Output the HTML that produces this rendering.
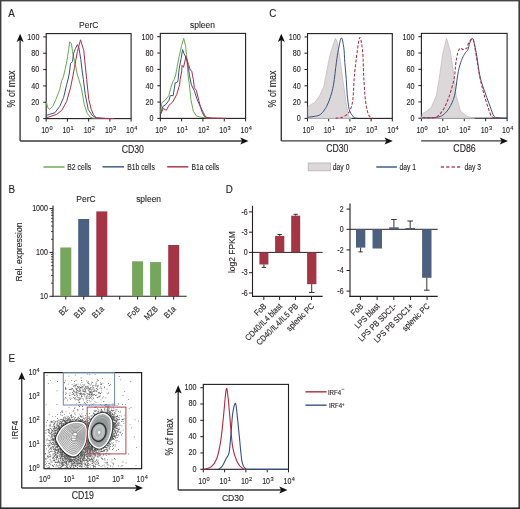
<!DOCTYPE html>
<html><head><meta charset="utf-8"><style>
html,body{margin:0;padding:0;background:#fff;}
svg{display:block;will-change:transform;font-family:"Liberation Sans", sans-serif;}
text{stroke:#231f20;stroke-width:0.12px;}
</style></head><body>
<svg width="520" height="509" viewBox="0 0 520 509">
<rect width="520" height="509" fill="#fff"/>
<rect x="0" y="0" width="1.4" height="509" fill="#3c3c3c"/>
<rect x="518.4" y="0" width="1.6" height="509" fill="#3c3c3c"/>
<rect x="0" y="507.4" width="520" height="1.6" fill="#2a2a2a"/>
<rect x="0" y="0" width="520" height="1.4" fill="#444"/>
<text transform="translate(8.30 17.20) scale(0.87 1)" font-size="11.3" text-anchor="start" fill="#231f20">A</text>
<text transform="translate(88.70 28.30) scale(0.87 1)" font-size="9.72" text-anchor="middle" fill="#231f20">PerC</text>
<text transform="translate(202.50 27.70) scale(0.87 1)" font-size="9.72" text-anchor="middle" fill="#231f20">spleen</text>
<rect x="46.20" y="33.60" width="84.90" height="85.00" fill="none" stroke="#231f20" stroke-width="1.1"/>
<line x1="43.20" y1="36.90" x2="46.20" y2="36.90" stroke="#231f20" stroke-width="1"/>
<text transform="translate(39.40 39.80) scale(0.84 1)" font-size="8.6" text-anchor="end" fill="#231f20">100</text>
<line x1="43.20" y1="53.24" x2="46.20" y2="53.24" stroke="#231f20" stroke-width="1"/>
<text transform="translate(39.40 56.14) scale(0.84 1)" font-size="8.6" text-anchor="end" fill="#231f20">80</text>
<line x1="43.20" y1="69.58" x2="46.20" y2="69.58" stroke="#231f20" stroke-width="1"/>
<text transform="translate(39.40 72.48) scale(0.84 1)" font-size="8.6" text-anchor="end" fill="#231f20">60</text>
<line x1="43.20" y1="85.92" x2="46.20" y2="85.92" stroke="#231f20" stroke-width="1"/>
<text transform="translate(39.40 88.82) scale(0.84 1)" font-size="8.6" text-anchor="end" fill="#231f20">40</text>
<line x1="43.20" y1="102.26" x2="46.20" y2="102.26" stroke="#231f20" stroke-width="1"/>
<text transform="translate(39.40 105.16) scale(0.84 1)" font-size="8.6" text-anchor="end" fill="#231f20">20</text>
<line x1="43.20" y1="118.60" x2="46.20" y2="118.60" stroke="#231f20" stroke-width="1"/>
<text transform="translate(39.40 121.50) scale(0.84 1)" font-size="8.6" text-anchor="end" fill="#231f20">0</text>
<line x1="46.20" y1="118.60" x2="46.20" y2="121.60" stroke="#231f20" stroke-width="1"/>
<text transform="translate(41.20 132.90) scale(0.84 1)" font-size="8.4" fill="#231f20">10</text>
<text x="49.40" y="129.90" font-size="5.6" fill="#231f20">0</text>
<line x1="67.42" y1="118.60" x2="67.42" y2="121.60" stroke="#231f20" stroke-width="1"/>
<text transform="translate(62.42 132.90) scale(0.84 1)" font-size="8.4" fill="#231f20">10</text>
<text x="70.62" y="129.90" font-size="5.6" fill="#231f20">1</text>
<line x1="88.65" y1="118.60" x2="88.65" y2="121.60" stroke="#231f20" stroke-width="1"/>
<text transform="translate(83.65 132.90) scale(0.84 1)" font-size="8.4" fill="#231f20">10</text>
<text x="91.85" y="129.90" font-size="5.6" fill="#231f20">2</text>
<line x1="109.88" y1="118.60" x2="109.88" y2="121.60" stroke="#231f20" stroke-width="1"/>
<text transform="translate(104.88 132.90) scale(0.84 1)" font-size="8.4" fill="#231f20">10</text>
<text x="113.08" y="129.90" font-size="5.6" fill="#231f20">3</text>
<line x1="131.10" y1="118.60" x2="131.10" y2="121.60" stroke="#231f20" stroke-width="1"/>
<text transform="translate(126.10 132.90) scale(0.84 1)" font-size="8.4" fill="#231f20">10</text>
<text x="134.30" y="129.90" font-size="5.6" fill="#231f20">4</text>
<rect x="160.30" y="33.40" width="85.30" height="85.00" fill="none" stroke="#231f20" stroke-width="1.1"/>
<line x1="157.30" y1="36.70" x2="160.30" y2="36.70" stroke="#231f20" stroke-width="1"/>
<text transform="translate(153.50 39.60) scale(0.84 1)" font-size="8.6" text-anchor="end" fill="#231f20">100</text>
<line x1="157.30" y1="53.04" x2="160.30" y2="53.04" stroke="#231f20" stroke-width="1"/>
<text transform="translate(153.50 55.94) scale(0.84 1)" font-size="8.6" text-anchor="end" fill="#231f20">80</text>
<line x1="157.30" y1="69.38" x2="160.30" y2="69.38" stroke="#231f20" stroke-width="1"/>
<text transform="translate(153.50 72.28) scale(0.84 1)" font-size="8.6" text-anchor="end" fill="#231f20">60</text>
<line x1="157.30" y1="85.72" x2="160.30" y2="85.72" stroke="#231f20" stroke-width="1"/>
<text transform="translate(153.50 88.62) scale(0.84 1)" font-size="8.6" text-anchor="end" fill="#231f20">40</text>
<line x1="157.30" y1="102.06" x2="160.30" y2="102.06" stroke="#231f20" stroke-width="1"/>
<text transform="translate(153.50 104.96) scale(0.84 1)" font-size="8.6" text-anchor="end" fill="#231f20">20</text>
<line x1="157.30" y1="118.40" x2="160.30" y2="118.40" stroke="#231f20" stroke-width="1"/>
<text transform="translate(153.50 121.30) scale(0.84 1)" font-size="8.6" text-anchor="end" fill="#231f20">0</text>
<line x1="160.30" y1="118.40" x2="160.30" y2="121.40" stroke="#231f20" stroke-width="1"/>
<text transform="translate(155.30 132.70) scale(0.84 1)" font-size="8.4" fill="#231f20">10</text>
<text x="163.50" y="129.70" font-size="5.6" fill="#231f20">0</text>
<line x1="181.62" y1="118.40" x2="181.62" y2="121.40" stroke="#231f20" stroke-width="1"/>
<text transform="translate(176.62 132.70) scale(0.84 1)" font-size="8.4" fill="#231f20">10</text>
<text x="184.82" y="129.70" font-size="5.6" fill="#231f20">1</text>
<line x1="202.95" y1="118.40" x2="202.95" y2="121.40" stroke="#231f20" stroke-width="1"/>
<text transform="translate(197.95 132.70) scale(0.84 1)" font-size="8.4" fill="#231f20">10</text>
<text x="206.15" y="129.70" font-size="5.6" fill="#231f20">2</text>
<line x1="224.28" y1="118.40" x2="224.28" y2="121.40" stroke="#231f20" stroke-width="1"/>
<text transform="translate(219.28 132.70) scale(0.84 1)" font-size="8.4" fill="#231f20">10</text>
<text x="227.47" y="129.70" font-size="5.6" fill="#231f20">3</text>
<line x1="245.60" y1="118.40" x2="245.60" y2="121.40" stroke="#231f20" stroke-width="1"/>
<text transform="translate(240.60 132.70) scale(0.84 1)" font-size="8.4" fill="#231f20">10</text>
<text x="248.80" y="129.70" font-size="5.6" fill="#231f20">4</text>
<line x1="20.10" y1="141.00" x2="20.10" y2="39.70" stroke="#3a3a3a" stroke-width="1.4"/>
<polygon points="20.10,33.70 16.60,41.90 20.10,40.10 23.60,41.90" fill="#111" stroke="none" stroke-width="0"/>
<line x1="20.10" y1="141.00" x2="242.50" y2="141.00" stroke="#3a3a3a" stroke-width="1.4"/>
<polygon points="248.50,141.00 240.30,137.50 242.10,141.00 240.30,144.50" fill="#111" stroke="none" stroke-width="0"/>
<text transform="translate(15.00 89.00) rotate(-90) scale(0.87 1)" font-size="10.17" text-anchor="middle" fill="#231f20">% of max</text>
<text transform="translate(132.80 152.80) scale(0.87 1)" font-size="10.06" text-anchor="middle" fill="#231f20">CD30</text>
<line x1="43.50" y1="167.00" x2="64.60" y2="167.00" stroke="#7ab060" stroke-width="1.6"/>
<text transform="translate(67.30 169.50) scale(0.82 1)" font-size="8.3" text-anchor="start" fill="#231f20">B2 cells</text>
<line x1="102.50" y1="166.80" x2="124.00" y2="166.80" stroke="#4f6a90" stroke-width="1.6"/>
<text transform="translate(127.20 169.50) scale(0.82 1)" font-size="8.3" text-anchor="start" fill="#231f20">B1b cells</text>
<line x1="167.20" y1="166.80" x2="188.30" y2="166.80" stroke="#b54558" stroke-width="1.6"/>
<text transform="translate(191.50 169.50) scale(0.82 1)" font-size="8.3" text-anchor="start" fill="#231f20">B1a cells</text>
<polyline points="46.30,101.60 47.50,107.00 49.40,109.40 52.80,106.40 55.80,99.60 59.70,89.70 61.70,80.50 62.50,79.00 63.60,76.00 65.10,69.30 66.50,63.00 67.60,56.50 68.60,49.60 69.70,41.80 71.50,43.80 72.50,51.60 74.50,61.40 76.00,68.00 77.40,75.00 78.90,79.60 81.30,87.80 84.30,104.50 87.20,113.30 90.20,117.20 93.10,118.20 100.00,118.50 110.00,118.60" fill="none" stroke="#6aa850" stroke-width="1.0" stroke-linejoin="round"/>
<polyline points="46.30,118.00 46.50,115.30 49.90,114.30 54.80,112.80 59.70,106.40 63.60,97.60 66.60,84.80 68.40,78.00 69.50,72.00 70.50,63.40 72.50,61.40 73.50,53.60 75.40,48.70 77.40,44.70 78.90,47.70 80.80,59.50 82.30,72.00 83.30,79.10 85.30,94.60 88.20,109.40 92.10,115.30 96.00,117.90 105.00,118.50 112.00,118.60" fill="none" stroke="#35527f" stroke-width="1.0" stroke-linejoin="round"/>
<polyline points="46.50,117.70 50.90,116.30 56.80,114.30 61.70,110.40 66.60,101.50 70.50,87.80 72.50,78.00 74.50,67.30 77.40,51.60 80.50,39.80 83.80,50.60 85.30,66.00 86.70,79.60 88.80,99.60 91.20,109.20 93.60,115.00 96.50,117.90 106.00,118.40 114.00,118.60" fill="none" stroke="#ae2d44" stroke-width="1.0" stroke-linejoin="round"/>
<polyline points="160.50,112.30 161.90,102.50 164.90,100.50 168.80,95.60 170.80,87.80 172.70,81.90 174.20,79.60 175.70,75.00 176.70,69.30 179.10,56.50 181.60,45.70 183.70,38.30 185.50,45.70 186.50,54.60 187.50,67.30 188.00,75.00 189.40,84.80 190.90,99.60 193.40,111.30 196.30,115.80 200.20,117.20 207.10,118.00 222.00,118.40" fill="none" stroke="#6aa850" stroke-width="1.0" stroke-linejoin="round"/>
<polyline points="160.50,114.30 162.90,106.40 165.90,104.50 168.80,100.50 170.30,95.60 173.20,95.60 175.20,82.90 177.60,81.90 178.10,79.60 179.10,69.30 181.10,58.50 182.60,49.60 184.00,53.60 186.50,58.50 188.50,68.30 189.40,75.20 191.40,84.80 194.30,90.70 196.80,98.60 200.20,106.40 203.20,112.30 205.20,116.30 207.10,117.70 212.00,118.30 226.00,118.40" fill="none" stroke="#35527f" stroke-width="1.0" stroke-linejoin="round"/>
<polyline points="160.50,114.30 163.40,108.40 166.30,110.40 168.80,105.50 172.70,102.00 176.70,94.60 179.60,84.80 180.10,79.60 181.60,72.00 182.10,65.40 183.50,67.30 186.00,56.50 188.50,64.40 190.40,70.30 191.90,71.30 192.40,75.00 193.40,79.60 194.30,87.80 196.30,90.20 198.80,100.50 201.70,111.30 204.20,116.30 207.10,117.70 212.00,118.30 226.00,118.40" fill="none" stroke="#ae2d44" stroke-width="1.0" stroke-linejoin="round"/>
<text transform="translate(269.30 17.40) scale(0.87 1)" font-size="11.3" text-anchor="start" fill="#231f20">C</text>
<rect x="307.50" y="33.60" width="84.80" height="84.80" fill="none" stroke="#231f20" stroke-width="1.1"/>
<line x1="304.50" y1="36.90" x2="307.50" y2="36.90" stroke="#231f20" stroke-width="1"/>
<text transform="translate(300.70 39.80) scale(0.84 1)" font-size="8.6" text-anchor="end" fill="#231f20">100</text>
<line x1="304.50" y1="53.20" x2="307.50" y2="53.20" stroke="#231f20" stroke-width="1"/>
<text transform="translate(300.70 56.10) scale(0.84 1)" font-size="8.6" text-anchor="end" fill="#231f20">80</text>
<line x1="304.50" y1="69.50" x2="307.50" y2="69.50" stroke="#231f20" stroke-width="1"/>
<text transform="translate(300.70 72.40) scale(0.84 1)" font-size="8.6" text-anchor="end" fill="#231f20">60</text>
<line x1="304.50" y1="85.80" x2="307.50" y2="85.80" stroke="#231f20" stroke-width="1"/>
<text transform="translate(300.70 88.70) scale(0.84 1)" font-size="8.6" text-anchor="end" fill="#231f20">40</text>
<line x1="304.50" y1="102.10" x2="307.50" y2="102.10" stroke="#231f20" stroke-width="1"/>
<text transform="translate(300.70 105.00) scale(0.84 1)" font-size="8.6" text-anchor="end" fill="#231f20">20</text>
<line x1="304.50" y1="118.40" x2="307.50" y2="118.40" stroke="#231f20" stroke-width="1"/>
<text transform="translate(300.70 121.30) scale(0.84 1)" font-size="8.6" text-anchor="end" fill="#231f20">0</text>
<line x1="307.50" y1="118.40" x2="307.50" y2="121.40" stroke="#231f20" stroke-width="1"/>
<text transform="translate(302.50 132.70) scale(0.84 1)" font-size="8.4" fill="#231f20">10</text>
<text x="310.70" y="129.70" font-size="5.6" fill="#231f20">0</text>
<line x1="328.70" y1="118.40" x2="328.70" y2="121.40" stroke="#231f20" stroke-width="1"/>
<text transform="translate(323.70 132.70) scale(0.84 1)" font-size="8.4" fill="#231f20">10</text>
<text x="331.90" y="129.70" font-size="5.6" fill="#231f20">1</text>
<line x1="349.90" y1="118.40" x2="349.90" y2="121.40" stroke="#231f20" stroke-width="1"/>
<text transform="translate(344.90 132.70) scale(0.84 1)" font-size="8.4" fill="#231f20">10</text>
<text x="353.10" y="129.70" font-size="5.6" fill="#231f20">2</text>
<line x1="371.10" y1="118.40" x2="371.10" y2="121.40" stroke="#231f20" stroke-width="1"/>
<text transform="translate(366.10 132.70) scale(0.84 1)" font-size="8.4" fill="#231f20">10</text>
<text x="374.30" y="129.70" font-size="5.6" fill="#231f20">3</text>
<line x1="392.30" y1="118.40" x2="392.30" y2="121.40" stroke="#231f20" stroke-width="1"/>
<text transform="translate(387.30 132.70) scale(0.84 1)" font-size="8.4" fill="#231f20">10</text>
<text x="395.50" y="129.70" font-size="5.6" fill="#231f20">4</text>
<rect x="421.40" y="33.40" width="85.70" height="84.80" fill="none" stroke="#231f20" stroke-width="1.1"/>
<line x1="418.40" y1="36.70" x2="421.40" y2="36.70" stroke="#231f20" stroke-width="1"/>
<text transform="translate(414.60 39.60) scale(0.84 1)" font-size="8.6" text-anchor="end" fill="#231f20">100</text>
<line x1="418.40" y1="53.00" x2="421.40" y2="53.00" stroke="#231f20" stroke-width="1"/>
<text transform="translate(414.60 55.90) scale(0.84 1)" font-size="8.6" text-anchor="end" fill="#231f20">80</text>
<line x1="418.40" y1="69.30" x2="421.40" y2="69.30" stroke="#231f20" stroke-width="1"/>
<text transform="translate(414.60 72.20) scale(0.84 1)" font-size="8.6" text-anchor="end" fill="#231f20">60</text>
<line x1="418.40" y1="85.60" x2="421.40" y2="85.60" stroke="#231f20" stroke-width="1"/>
<text transform="translate(414.60 88.50) scale(0.84 1)" font-size="8.6" text-anchor="end" fill="#231f20">40</text>
<line x1="418.40" y1="101.90" x2="421.40" y2="101.90" stroke="#231f20" stroke-width="1"/>
<text transform="translate(414.60 104.80) scale(0.84 1)" font-size="8.6" text-anchor="end" fill="#231f20">20</text>
<line x1="418.40" y1="118.20" x2="421.40" y2="118.20" stroke="#231f20" stroke-width="1"/>
<text transform="translate(414.60 121.10) scale(0.84 1)" font-size="8.6" text-anchor="end" fill="#231f20">0</text>
<line x1="421.40" y1="118.20" x2="421.40" y2="121.20" stroke="#231f20" stroke-width="1"/>
<text transform="translate(416.40 132.50) scale(0.84 1)" font-size="8.4" fill="#231f20">10</text>
<text x="424.60" y="129.50" font-size="5.6" fill="#231f20">0</text>
<line x1="442.82" y1="118.20" x2="442.82" y2="121.20" stroke="#231f20" stroke-width="1"/>
<text transform="translate(437.82 132.50) scale(0.84 1)" font-size="8.4" fill="#231f20">10</text>
<text x="446.02" y="129.50" font-size="5.6" fill="#231f20">1</text>
<line x1="464.25" y1="118.20" x2="464.25" y2="121.20" stroke="#231f20" stroke-width="1"/>
<text transform="translate(459.25 132.50) scale(0.84 1)" font-size="8.4" fill="#231f20">10</text>
<text x="467.45" y="129.50" font-size="5.6" fill="#231f20">2</text>
<line x1="485.68" y1="118.20" x2="485.68" y2="121.20" stroke="#231f20" stroke-width="1"/>
<text transform="translate(480.68 132.50) scale(0.84 1)" font-size="8.4" fill="#231f20">10</text>
<text x="488.88" y="129.50" font-size="5.6" fill="#231f20">3</text>
<line x1="507.10" y1="118.20" x2="507.10" y2="121.20" stroke="#231f20" stroke-width="1"/>
<text transform="translate(502.10 132.50) scale(0.84 1)" font-size="8.4" fill="#231f20">10</text>
<text x="510.30" y="129.50" font-size="5.6" fill="#231f20">4</text>
<line x1="281.30" y1="140.90" x2="281.30" y2="39.70" stroke="#3a3a3a" stroke-width="1.4"/>
<polygon points="281.30,33.70 277.80,41.90 281.30,40.10 284.80,41.90" fill="#111" stroke="none" stroke-width="0"/>
<line x1="281.30" y1="140.90" x2="386.80" y2="140.90" stroke="#3a3a3a" stroke-width="1.4"/>
<polygon points="392.80,140.90 384.60,137.40 386.40,140.90 384.60,144.40" fill="#111" stroke="none" stroke-width="0"/>
<line x1="421.20" y1="140.90" x2="502.00" y2="140.90" stroke="#3a3a3a" stroke-width="1.4"/>
<polygon points="508.00,140.90 499.80,137.40 501.60,140.90 499.80,144.40" fill="#111" stroke="none" stroke-width="0"/>
<text transform="translate(276.30 89.00) rotate(-90) scale(0.87 1)" font-size="10.17" text-anchor="middle" fill="#231f20">% of max</text>
<text transform="translate(337.30 151.80) scale(0.87 1)" font-size="10.06" text-anchor="middle" fill="#231f20">CD30</text>
<text transform="translate(464.50 152.00) scale(0.87 1)" font-size="10.06" text-anchor="middle" fill="#231f20">CD86</text>
<rect x="308.2" y="163" width="22.3" height="7.8" fill="#dcd7d9" stroke="#b8b0b4" stroke-width="0.8"/>
<text transform="translate(332.80 169.60) scale(0.82 1)" font-size="8.3" text-anchor="start" fill="#231f20">day 0</text>
<line x1="376.30" y1="167.00" x2="396.90" y2="167.00" stroke="#4f6a90" stroke-width="1.6"/>
<text transform="translate(399.50 169.60) scale(0.82 1)" font-size="8.3" text-anchor="start" fill="#231f20">day 1</text>
<line x1="440.80" y1="167.00" x2="461.30" y2="167.00" stroke="#b54558" stroke-width="1.6" stroke-dasharray="3.2,2.2"/>
<text transform="translate(464.50 169.60) scale(0.82 1)" font-size="8.3" text-anchor="start" fill="#231f20">day 3</text>
<polygon points="308.00,118.40 308.00,106.40 314.80,102.50 319.70,95.60 323.70,86.80 325.10,79.60 326.10,75.00 328.60,61.40 331.50,49.60 335.50,38.30 337.40,42.80 340.40,61.40 342.80,79.60 344.30,89.70 346.30,104.50 348.70,116.30 351.20,117.90 351.20,118.40" fill="#dcd7d9" stroke="#c5bdc1" stroke-width="0.8"/>
<path d="M308.00,117.20 C309.13,117.05 312.68,116.78 314.80,116.30 C316.92,115.82 318.73,115.95 320.70,114.30 C322.67,112.65 324.97,109.35 326.60,106.40 C328.23,103.45 329.35,100.20 330.50,96.60 C331.65,93.00 332.52,90.50 333.50,84.80 C334.48,79.10 335.58,68.27 336.40,62.40 C337.22,56.53 337.58,53.68 338.40,49.60 C339.22,45.52 340.40,38.22 341.30,37.90 C342.20,37.58 343.22,43.62 343.80,47.70 C344.38,51.78 344.38,57.08 344.80,62.40 C345.22,67.72 345.90,74.23 346.30,79.60 C346.70,84.97 346.72,89.63 347.20,94.60 C347.68,99.57 348.37,105.95 349.20,109.40 C350.03,112.85 351.30,113.92 352.20,115.30 C353.10,116.68 353.63,117.20 354.60,117.70 C355.57,118.20 357.43,118.20 358.00,118.30" fill="none" stroke="#35527f" stroke-width="1.0" stroke-linejoin="round"/>
<path d="M335.50,118.20 C336.63,118.03 340.18,118.02 342.30,117.20 C344.42,116.38 346.72,114.93 348.20,113.30 C349.68,111.67 350.38,110.02 351.20,107.40 C352.02,104.78 352.58,102.73 353.10,97.60 C353.62,92.47 353.63,84.13 354.30,76.60 C354.97,69.07 356.17,58.92 357.10,52.40 C358.03,45.88 358.97,37.50 359.90,37.50 C360.83,37.50 362.07,45.88 362.70,52.40 C363.33,58.92 363.23,68.52 363.70,76.60 C364.17,84.68 364.73,94.67 365.50,100.90 C366.27,107.13 367.37,111.20 368.30,114.00 C369.23,116.80 370.32,116.98 371.10,117.70 C371.88,118.42 372.68,118.20 373.00,118.30" fill="none" stroke="#ae2d44" stroke-width="1.05" stroke-linejoin="round" stroke-dasharray="3,1.7"/>
<polygon points="421.50,118.20 422.50,113.90 431.10,107.90 436.30,95.80 439.10,79.60 442.60,54.60 446.50,38.30 450.40,51.60 452.90,69.30 454.40,79.60 456.20,95.80 460.50,111.30 467.50,116.50 474.40,117.90 474.40,118.20" fill="#dcd7d9" stroke="#c5bdc1" stroke-width="0.8"/>
<path d="M422.50,117.90 C424.80,117.82 432.85,117.92 436.30,117.40 C439.75,116.88 441.03,116.38 443.20,114.80 C445.37,113.22 447.42,111.07 449.30,107.90 C451.18,104.73 453.15,100.95 454.50,95.80 C455.85,90.65 456.60,81.75 457.40,77.00 C458.20,72.25 458.50,70.38 459.30,67.30 C460.10,64.22 461.22,60.88 462.20,58.50 C463.18,56.12 464.25,54.48 465.20,53.00 C466.15,51.52 467.13,51.30 467.90,49.60 C468.67,47.90 468.98,44.60 469.80,42.80 C470.62,41.00 471.73,37.17 472.80,38.80 C473.87,40.43 474.98,46.23 476.20,52.60 C477.42,58.97 478.53,70.10 480.10,77.00 C481.67,83.90 483.95,89.13 485.60,94.00 C487.25,98.87 488.55,102.45 490.00,106.20 C491.45,109.95 492.58,114.55 494.30,116.50 C496.02,118.45 498.18,117.62 500.30,117.90 C502.42,118.18 505.88,118.15 507.00,118.20" fill="none" stroke="#35527f" stroke-width="1.0" stroke-linejoin="round"/>
<path d="M422.50,117.40 C424.52,117.40 431.43,118.27 434.60,117.40 C437.77,116.53 439.48,114.65 441.50,112.20 C443.52,109.75 445.12,106.30 446.70,102.70 C448.28,99.10 449.72,94.88 451.00,90.60 C452.28,86.32 453.60,81.53 454.40,77.00 C455.20,72.47 455.23,67.47 455.80,63.40 C456.37,59.33 457.22,54.97 457.80,52.60 C458.38,50.23 458.73,49.93 459.30,49.20 C459.87,48.47 460.63,48.13 461.20,48.20 C461.77,48.27 462.12,49.52 462.70,49.60 C463.28,49.68 464.00,48.93 464.70,48.70 C465.40,48.47 466.30,49.02 466.90,48.20 C467.50,47.38 467.32,45.37 468.30,43.80 C469.28,42.23 471.57,37.33 472.80,38.80 C474.03,40.27 474.53,46.23 475.70,52.60 C476.87,58.97 478.43,70.10 479.80,77.00 C481.17,83.90 482.50,88.85 483.90,94.00 C485.30,99.15 486.90,104.15 488.20,107.90 C489.50,111.65 490.25,114.83 491.70,116.50 C493.15,118.17 495.52,117.65 496.90,117.90 C498.28,118.15 499.48,117.98 500.00,118.00" fill="none" stroke="#ae2d44" stroke-width="1.05" stroke-linejoin="round" stroke-dasharray="3,1.7"/>
<text transform="translate(8.40 192.80) scale(0.87 1)" font-size="11.3" text-anchor="start" fill="#231f20">B</text>
<text transform="translate(86.00 201.60) scale(0.87 1)" font-size="9.72" text-anchor="middle" fill="#231f20">PerC</text>
<text transform="translate(148.60 201.60) scale(0.87 1)" font-size="9.72" text-anchor="middle" fill="#231f20">spleen</text>
<line x1="53.00" y1="205.50" x2="53.00" y2="296.80" stroke="#231f20" stroke-width="1.1"/>
<line x1="52.50" y1="296.30" x2="186.60" y2="296.30" stroke="#231f20" stroke-width="1.1"/>
<line x1="49.50" y1="208.60" x2="53.00" y2="208.60" stroke="#231f20" stroke-width="1"/>
<text transform="translate(47.90 211.20) scale(0.87 1)" font-size="8.14" text-anchor="end" fill="#231f20">1000</text>
<line x1="49.50" y1="252.45" x2="53.00" y2="252.45" stroke="#231f20" stroke-width="1"/>
<text transform="translate(47.90 255.05) scale(0.87 1)" font-size="8.14" text-anchor="end" fill="#231f20">100</text>
<line x1="49.50" y1="296.30" x2="53.00" y2="296.30" stroke="#231f20" stroke-width="1"/>
<text transform="translate(47.90 298.90) scale(0.87 1)" font-size="8.14" text-anchor="end" fill="#231f20">10</text>
<line x1="51.00" y1="239.25" x2="53.00" y2="239.25" stroke="#231f20" stroke-width="0.8"/>
<line x1="51.00" y1="231.53" x2="53.00" y2="231.53" stroke="#231f20" stroke-width="0.8"/>
<line x1="51.00" y1="226.05" x2="53.00" y2="226.05" stroke="#231f20" stroke-width="0.8"/>
<line x1="51.00" y1="221.80" x2="53.00" y2="221.80" stroke="#231f20" stroke-width="0.8"/>
<line x1="51.00" y1="218.33" x2="53.00" y2="218.33" stroke="#231f20" stroke-width="0.8"/>
<line x1="51.00" y1="215.39" x2="53.00" y2="215.39" stroke="#231f20" stroke-width="0.8"/>
<line x1="51.00" y1="212.85" x2="53.00" y2="212.85" stroke="#231f20" stroke-width="0.8"/>
<line x1="51.00" y1="210.61" x2="53.00" y2="210.61" stroke="#231f20" stroke-width="0.8"/>
<line x1="51.00" y1="283.10" x2="53.00" y2="283.10" stroke="#231f20" stroke-width="0.8"/>
<line x1="51.00" y1="275.38" x2="53.00" y2="275.38" stroke="#231f20" stroke-width="0.8"/>
<line x1="51.00" y1="269.90" x2="53.00" y2="269.90" stroke="#231f20" stroke-width="0.8"/>
<line x1="51.00" y1="265.65" x2="53.00" y2="265.65" stroke="#231f20" stroke-width="0.8"/>
<line x1="51.00" y1="262.18" x2="53.00" y2="262.18" stroke="#231f20" stroke-width="0.8"/>
<line x1="51.00" y1="259.24" x2="53.00" y2="259.24" stroke="#231f20" stroke-width="0.8"/>
<line x1="51.00" y1="256.70" x2="53.00" y2="256.70" stroke="#231f20" stroke-width="0.8"/>
<line x1="51.00" y1="254.46" x2="53.00" y2="254.46" stroke="#231f20" stroke-width="0.8"/>
<rect x="60.30" y="247.50" width="11" height="48.80" fill="#76a55c"/>
<line x1="65.80" y1="296.30" x2="65.80" y2="299.60" stroke="#231f20" stroke-width="1"/>
<text transform="translate(68.60 309.60) rotate(-45) scale(0.87 1)" font-size="8.47" text-anchor="end" fill="#231f20">B2</text>
<rect x="78.20" y="219.00" width="11" height="77.30" fill="#4c6080"/>
<line x1="83.70" y1="296.30" x2="83.70" y2="299.60" stroke="#231f20" stroke-width="1"/>
<text transform="translate(86.50 309.60) rotate(-45) scale(0.87 1)" font-size="8.47" text-anchor="end" fill="#231f20">B1b</text>
<rect x="96.30" y="211.40" width="11" height="84.90" fill="#a33545"/>
<line x1="101.80" y1="296.30" x2="101.80" y2="299.60" stroke="#231f20" stroke-width="1"/>
<text transform="translate(104.60 309.60) rotate(-45) scale(0.87 1)" font-size="8.47" text-anchor="end" fill="#231f20">B1a</text>
<line x1="119.70" y1="296.30" x2="119.70" y2="299.60" stroke="#231f20" stroke-width="1"/>
<rect x="132.10" y="261.30" width="11" height="35.00" fill="#76a55c"/>
<line x1="137.60" y1="296.30" x2="137.60" y2="299.60" stroke="#231f20" stroke-width="1"/>
<text transform="translate(140.40 309.60) rotate(-45) scale(0.87 1)" font-size="8.47" text-anchor="end" fill="#231f20">FoB</text>
<rect x="150.10" y="262.10" width="11" height="34.20" fill="#76a55c"/>
<line x1="155.60" y1="296.30" x2="155.60" y2="299.60" stroke="#231f20" stroke-width="1"/>
<text transform="translate(158.40 309.60) rotate(-45) scale(0.87 1)" font-size="8.47" text-anchor="end" fill="#231f20">MZB</text>
<rect x="168.20" y="245.00" width="11" height="51.30" fill="#a33545"/>
<line x1="173.70" y1="296.30" x2="173.70" y2="299.60" stroke="#231f20" stroke-width="1"/>
<text transform="translate(176.50 309.60) rotate(-45) scale(0.87 1)" font-size="8.47" text-anchor="end" fill="#231f20">B1a</text>
<text transform="translate(22.20 252.00) rotate(-90) scale(0.87 1)" font-size="9.83" text-anchor="middle" fill="#231f20">Rel. expression</text>
<text transform="translate(225.80 193.00) scale(0.87 1)" font-size="11.3" text-anchor="start" fill="#231f20">D</text>
<text transform="translate(234.60 252.20) rotate(-90) scale(0.87 1)" font-size="9.72" text-anchor="middle" fill="#231f20">log2 FPKM</text>
<line x1="252.50" y1="205.80" x2="252.50" y2="296.90" stroke="#231f20" stroke-width="1.1"/>
<line x1="252.00" y1="296.40" x2="322.60" y2="296.40" stroke="#231f20" stroke-width="1.1"/>
<line x1="252.50" y1="252.40" x2="322.60" y2="252.40" stroke="#231f20" stroke-width="1.0"/>
<line x1="249.00" y1="211.90" x2="252.50" y2="211.90" stroke="#231f20" stroke-width="1"/>
<text transform="translate(247.70 214.50) scale(0.87 1)" font-size="8.14" text-anchor="end" fill="#231f20">-6</text>
<line x1="249.00" y1="232.20" x2="252.50" y2="232.20" stroke="#231f20" stroke-width="1"/>
<text transform="translate(247.70 234.80) scale(0.87 1)" font-size="8.14" text-anchor="end" fill="#231f20">-3</text>
<line x1="249.00" y1="252.40" x2="252.50" y2="252.40" stroke="#231f20" stroke-width="1"/>
<text transform="translate(247.70 255.00) scale(0.87 1)" font-size="8.14" text-anchor="end" fill="#231f20">0</text>
<line x1="249.00" y1="272.70" x2="252.50" y2="272.70" stroke="#231f20" stroke-width="1"/>
<text transform="translate(247.70 275.30) scale(0.87 1)" font-size="8.14" text-anchor="end" fill="#231f20">-3</text>
<line x1="249.00" y1="293.00" x2="252.50" y2="293.00" stroke="#231f20" stroke-width="1"/>
<text transform="translate(247.70 295.60) scale(0.87 1)" font-size="8.14" text-anchor="end" fill="#231f20">-6</text>
<rect x="259.40" y="252.40" width="9.00" height="12.10" fill="#a33545"/>
<line x1="263.90" y1="264.50" x2="263.90" y2="267.40" stroke="#231f20" stroke-width="0.9"/>
<line x1="261.70" y1="267.40" x2="266.10" y2="267.40" stroke="#231f20" stroke-width="0.9"/>
<rect x="275.10" y="235.90" width="9.20" height="16.50" fill="#a33545"/>
<line x1="279.70" y1="235.90" x2="279.70" y2="234.50" stroke="#231f20" stroke-width="0.9"/>
<line x1="277.50" y1="234.50" x2="281.90" y2="234.50" stroke="#231f20" stroke-width="0.9"/>
<rect x="291.20" y="215.70" width="9.00" height="36.70" fill="#a33545"/>
<line x1="295.70" y1="215.70" x2="295.70" y2="214.30" stroke="#231f20" stroke-width="0.9"/>
<line x1="293.50" y1="214.30" x2="297.90" y2="214.30" stroke="#231f20" stroke-width="0.9"/>
<rect x="307.10" y="252.40" width="9.30" height="31.80" fill="#a33545"/>
<line x1="311.70" y1="284.20" x2="311.70" y2="292.50" stroke="#231f20" stroke-width="0.9"/>
<line x1="308.90" y1="292.50" x2="314.50" y2="292.50" stroke="#231f20" stroke-width="0.9"/>
<line x1="263.80" y1="296.40" x2="263.80" y2="300.00" stroke="#231f20" stroke-width="1"/>
<text transform="translate(267.00 306.80) rotate(-45) scale(0.87 1)" font-size="8.47" text-anchor="end" fill="#231f20">FoB</text>
<line x1="279.60" y1="296.40" x2="279.60" y2="300.00" stroke="#231f20" stroke-width="1"/>
<text transform="translate(282.80 306.80) rotate(-45) scale(0.87 1)" font-size="8.47" text-anchor="end" fill="#231f20">CD40/IL4 blast</text>
<line x1="295.50" y1="296.40" x2="295.50" y2="300.00" stroke="#231f20" stroke-width="1"/>
<text transform="translate(298.70 306.80) rotate(-45) scale(0.87 1)" font-size="8.47" text-anchor="end" fill="#231f20">CD40/IL4/IL5 PB</text>
<line x1="311.50" y1="296.40" x2="311.50" y2="300.00" stroke="#231f20" stroke-width="1"/>
<text transform="translate(314.70 306.80) rotate(-45) scale(0.87 1)" font-size="8.47" text-anchor="end" fill="#231f20">splenic PC</text>
<line x1="350.00" y1="203.40" x2="350.00" y2="296.90" stroke="#231f20" stroke-width="1.1"/>
<line x1="349.50" y1="296.40" x2="437.70" y2="296.40" stroke="#231f20" stroke-width="1.1"/>
<line x1="350.00" y1="229.30" x2="437.70" y2="229.30" stroke="#231f20" stroke-width="1.0"/>
<line x1="346.50" y1="209.10" x2="350.00" y2="209.10" stroke="#231f20" stroke-width="1"/>
<text transform="translate(343.60 211.70) scale(0.87 1)" font-size="8.14" text-anchor="end" fill="#231f20">2</text>
<line x1="346.50" y1="229.30" x2="350.00" y2="229.30" stroke="#231f20" stroke-width="1"/>
<text transform="translate(343.60 231.90) scale(0.87 1)" font-size="8.14" text-anchor="end" fill="#231f20">0</text>
<line x1="346.50" y1="249.90" x2="350.00" y2="249.90" stroke="#231f20" stroke-width="1"/>
<text transform="translate(343.60 252.50) scale(0.87 1)" font-size="8.14" text-anchor="end" fill="#231f20">-2</text>
<line x1="346.50" y1="270.50" x2="350.00" y2="270.50" stroke="#231f20" stroke-width="1"/>
<text transform="translate(343.60 273.10) scale(0.87 1)" font-size="8.14" text-anchor="end" fill="#231f20">-4</text>
<line x1="346.50" y1="291.10" x2="350.00" y2="291.10" stroke="#231f20" stroke-width="1"/>
<text transform="translate(343.60 293.70) scale(0.87 1)" font-size="8.14" text-anchor="end" fill="#231f20">-6</text>
<rect x="356.00" y="229.30" width="9.30" height="18.30" fill="#4c6080"/>
<line x1="360.60" y1="247.60" x2="360.60" y2="251.90" stroke="#231f20" stroke-width="0.9"/>
<line x1="358.40" y1="251.90" x2="362.80" y2="251.90" stroke="#231f20" stroke-width="0.9"/>
<rect x="372.50" y="229.30" width="9.50" height="19.20" fill="#4c6080"/>
<rect x="389.20" y="227.30" width="9.50" height="2.00" fill="#4c6080"/>
<line x1="393.90" y1="227.30" x2="393.90" y2="219.50" stroke="#231f20" stroke-width="0.9"/>
<line x1="391.10" y1="219.50" x2="396.70" y2="219.50" stroke="#231f20" stroke-width="0.9"/>
<rect x="405.50" y="228.00" width="9.50" height="1.30" fill="#4c6080"/>
<line x1="410.20" y1="228.00" x2="410.20" y2="221.00" stroke="#231f20" stroke-width="0.9"/>
<line x1="407.40" y1="221.00" x2="413.00" y2="221.00" stroke="#231f20" stroke-width="0.9"/>
<rect x="422.10" y="229.30" width="9.40" height="48.50" fill="#4c6080"/>
<line x1="426.80" y1="277.80" x2="426.80" y2="290.20" stroke="#231f20" stroke-width="0.9"/>
<line x1="424.00" y1="290.20" x2="429.60" y2="290.20" stroke="#231f20" stroke-width="0.9"/>
<line x1="360.40" y1="296.40" x2="360.40" y2="300.00" stroke="#231f20" stroke-width="1"/>
<text transform="translate(363.60 306.80) rotate(-45) scale(0.87 1)" font-size="8.47" text-anchor="end" fill="#231f20">FoB</text>
<line x1="377.10" y1="296.40" x2="377.10" y2="300.00" stroke="#231f20" stroke-width="1"/>
<text transform="translate(380.30 306.80) rotate(-45) scale(0.87 1)" font-size="8.47" text-anchor="end" fill="#231f20">LPS blast</text>
<line x1="393.80" y1="296.40" x2="393.80" y2="300.00" stroke="#231f20" stroke-width="1"/>
<text transform="translate(397.00 306.80) rotate(-45) scale(0.87 1)" font-size="8.47" text-anchor="end" fill="#231f20">LPS PB SDC1-</text>
<line x1="410.50" y1="296.40" x2="410.50" y2="300.00" stroke="#231f20" stroke-width="1"/>
<text transform="translate(413.70 306.80) rotate(-45) scale(0.87 1)" font-size="8.47" text-anchor="end" fill="#231f20">LPS PB SDC1+</text>
<line x1="427.10" y1="296.40" x2="427.10" y2="300.00" stroke="#231f20" stroke-width="1"/>
<text transform="translate(430.30 306.80) rotate(-45) scale(0.87 1)" font-size="8.47" text-anchor="end" fill="#231f20">splenic PC</text>
<text transform="translate(8.60 362.40) scale(0.87 1)" font-size="11.3" text-anchor="start" fill="#231f20">E</text>
<path d="M50.5 421.3h.8v.8h-.8zM85.6 451.4h.8v.8h-.8zM110.0 413.8h.8v.8h-.8zM59.5 419.6h.8v.8h-.8zM89.5 419.1h.8v.8h-.8zM94.5 407.1h.8v.8h-.8zM79.9 394.3h.8v.8h-.8zM107.4 448.8h.8v.8h-.8zM116.7 418.6h.8v.8h-.8zM97.5 385.9h.8v.8h-.8zM98.1 447.4h.8v.8h-.8zM111.2 416.2h.8v.8h-.8zM115.1 425.5h.8v.8h-.8zM90.4 461.5h.8v.8h-.8zM69.4 389.0h.8v.8h-.8zM74.6 407.2h.8v.8h-.8zM64.2 421.1h.8v.8h-.8zM110.3 438.8h.8v.8h-.8zM111.2 437.2h.8v.8h-.8zM94.4 417.3h.8v.8h-.8zM56.3 457.7h.8v.8h-.8zM57.7 450.8h.8v.8h-.8zM75.2 452.7h.8v.8h-.8zM85.9 399.5h.8v.8h-.8zM54.7 452.1h.8v.8h-.8zM97.5 441.3h.8v.8h-.8zM88.7 425.5h.8v.8h-.8zM100.7 410.1h.8v.8h-.8zM109.5 413.1h.8v.8h-.8zM115.7 421.1h.8v.8h-.8zM78.6 463.5h.8v.8h-.8zM75.3 399.5h.8v.8h-.8zM92.2 460.9h.8v.8h-.8zM112.9 415.7h.8v.8h-.8zM56.6 452.7h.8v.8h-.8zM80.2 386.9h.8v.8h-.8zM97.6 433.7h.8v.8h-.8zM85.5 450.8h.8v.8h-.8zM80.5 421.1h.8v.8h-.8zM72.1 422.6h.8v.8h-.8zM60.3 447.5h.8v.8h-.8zM85.7 435.6h.8v.8h-.8zM81.1 463.1h.8v.8h-.8zM60.2 458.0h.8v.8h-.8zM93.4 403.6h.8v.8h-.8zM103.9 414.3h.8v.8h-.8zM57.9 461.7h.8v.8h-.8zM68.8 458.6h.8v.8h-.8zM50.6 446.9h.8v.8h-.8zM97.7 462.1h.8v.8h-.8zM89.5 443.4h.8v.8h-.8zM114.3 427.3h.8v.8h-.8zM86.7 446.3h.8v.8h-.8zM117.9 465.6h.8v.8h-.8zM53.2 457.2h.8v.8h-.8zM76.2 422.7h.8v.8h-.8zM58.6 430.4h.8v.8h-.8zM85.1 447.2h.8v.8h-.8zM88.5 432.1h.8v.8h-.8zM91.8 465.3h.8v.8h-.8zM85.2 439.3h.8v.8h-.8zM57.4 446.7h.8v.8h-.8zM66.6 464.3h.8v.8h-.8zM57.0 452.1h.8v.8h-.8zM92.0 420.5h.8v.8h-.8zM89.7 426.5h.8v.8h-.8zM85.4 425.7h.8v.8h-.8zM88.8 445.4h.8v.8h-.8zM65.3 387.9h.8v.8h-.8zM107.2 450.5h.8v.8h-.8zM85.4 428.8h.8v.8h-.8zM78.0 422.5h.8v.8h-.8zM91.5 427.0h.8v.8h-.8zM102.2 411.0h.8v.8h-.8zM113.2 425.7h.8v.8h-.8zM75.4 458.6h.8v.8h-.8zM73.1 465.7h.8v.8h-.8zM90.6 455.7h.8v.8h-.8zM62.8 451.9h.8v.8h-.8zM92.3 421.9h.8v.8h-.8zM68.9 450.5h.8v.8h-.8zM54.2 439.4h.8v.8h-.8zM95.0 439.7h.8v.8h-.8zM59.1 427.5h.8v.8h-.8zM85.4 433.1h.8v.8h-.8zM69.0 422.6h.8v.8h-.8zM89.6 423.8h.8v.8h-.8zM90.4 447.5h.8v.8h-.8zM85.0 447.3h.8v.8h-.8zM88.8 441.6h.8v.8h-.8zM82.3 425.9h.8v.8h-.8zM92.8 415.4h.8v.8h-.8zM83.3 426.4h.8v.8h-.8zM87.1 432.4h.8v.8h-.8zM77.8 423.5h.8v.8h-.8zM93.3 391.3h.8v.8h-.8zM91.3 448.2h.8v.8h-.8zM81.0 463.8h.8v.8h-.8zM69.9 458.3h.8v.8h-.8zM65.3 455.7h.8v.8h-.8zM62.2 452.6h.8v.8h-.8zM110.4 406.4h.8v.8h-.8zM57.2 445.3h.8v.8h-.8zM97.0 397.1h.8v.8h-.8zM58.6 426.6h.8v.8h-.8zM89.1 445.7h.8v.8h-.8zM79.7 389.4h.8v.8h-.8zM52.7 438.3h.8v.8h-.8zM87.4 464.9h.8v.8h-.8zM94.1 429.0h.8v.8h-.8zM98.8 446.5h.8v.8h-.8zM49.2 430.4h.8v.8h-.8zM97.5 449.2h.8v.8h-.8zM100.6 384.3h.8v.8h-.8zM55.6 448.9h.8v.8h-.8zM82.6 455.8h.8v.8h-.8zM97.7 411.8h.8v.8h-.8zM87.6 427.1h.8v.8h-.8zM71.4 397.8h.8v.8h-.8zM63.0 424.1h.8v.8h-.8zM62.4 462.0h.8v.8h-.8zM92.7 433.5h.8v.8h-.8zM73.5 467.2h.8v.8h-.8zM91.4 457.4h.8v.8h-.8zM55.7 465.3h.8v.8h-.8zM81.0 396.3h.8v.8h-.8zM75.2 465.0h.8v.8h-.8zM105.2 443.5h.8v.8h-.8zM90.2 441.5h.8v.8h-.8zM90.6 394.4h.8v.8h-.8zM95.4 450.1h.8v.8h-.8zM61.5 450.9h.8v.8h-.8zM90.7 448.7h.8v.8h-.8zM77.5 409.5h.8v.8h-.8zM104.1 408.6h.8v.8h-.8zM108.6 404.6h.8v.8h-.8zM89.2 452.6h.8v.8h-.8zM92.0 421.8h.8v.8h-.8zM109.1 443.3h.8v.8h-.8zM113.0 419.0h.8v.8h-.8zM69.6 392.6h.8v.8h-.8zM87.5 456.2h.8v.8h-.8zM86.5 433.8h.8v.8h-.8zM86.1 437.5h.8v.8h-.8zM92.5 461.1h.8v.8h-.8zM66.7 460.6h.8v.8h-.8zM57.6 428.0h.8v.8h-.8zM61.2 462.2h.8v.8h-.8zM93.0 457.4h.8v.8h-.8zM72.9 457.4h.8v.8h-.8zM89.1 460.3h.8v.8h-.8zM110.5 440.4h.8v.8h-.8zM87.3 435.8h.8v.8h-.8zM56.5 437.9h.8v.8h-.8zM88.5 449.8h.8v.8h-.8zM79.8 465.5h.8v.8h-.8zM87.8 444.3h.8v.8h-.8zM114.7 444.2h.8v.8h-.8zM81.9 464.3h.8v.8h-.8zM64.5 459.1h.8v.8h-.8zM90.0 426.2h.8v.8h-.8zM78.8 462.0h.8v.8h-.8zM62.8 455.6h.8v.8h-.8zM57.6 439.9h.8v.8h-.8zM125.2 404.2h.8v.8h-.8zM47.9 446.8h.8v.8h-.8zM93.2 413.5h.8v.8h-.8zM112.7 416.4h.8v.8h-.8zM88.5 383.2h.8v.8h-.8zM59.7 446.8h.8v.8h-.8zM90.5 450.9h.8v.8h-.8zM65.0 397.3h.8v.8h-.8zM101.0 409.3h.8v.8h-.8zM109.3 440.8h.8v.8h-.8zM68.0 461.2h.8v.8h-.8zM72.8 411.0h.8v.8h-.8zM59.1 430.7h.8v.8h-.8zM55.9 438.8h.8v.8h-.8zM94.7 416.5h.8v.8h-.8zM87.2 440.1h.8v.8h-.8zM87.5 442.1h.8v.8h-.8zM70.4 460.6h.8v.8h-.8zM91.0 390.5h.8v.8h-.8zM90.0 443.3h.8v.8h-.8zM80.2 458.5h.8v.8h-.8zM87.0 386.8h.8v.8h-.8zM83.4 437.5h.8v.8h-.8zM60.5 451.5h.8v.8h-.8zM100.6 457.0h.8v.8h-.8zM70.7 462.2h.8v.8h-.8zM49.9 459.7h.8v.8h-.8zM95.1 437.3h.8v.8h-.8zM109.3 448.8h.8v.8h-.8zM71.0 380.2h.8v.8h-.8zM77.1 422.8h.8v.8h-.8zM77.7 419.9h.8v.8h-.8zM89.1 392.2h.8v.8h-.8zM113.5 423.4h.8v.8h-.8zM89.5 431.9h.8v.8h-.8zM54.0 464.3h.8v.8h-.8zM95.8 452.0h.8v.8h-.8zM89.9 466.8h.8v.8h-.8zM85.0 450.9h.8v.8h-.8zM66.7 459.2h.8v.8h-.8zM81.4 452.6h.8v.8h-.8zM77.5 397.1h.8v.8h-.8zM74.8 455.8h.8v.8h-.8zM94.6 419.1h.8v.8h-.8zM113.6 414.0h.8v.8h-.8zM62.9 425.1h.8v.8h-.8zM94.1 417.7h.8v.8h-.8zM87.3 381.7h.8v.8h-.8zM75.2 421.1h.8v.8h-.8zM80.0 453.7h.8v.8h-.8zM90.9 420.2h.8v.8h-.8zM97.7 460.4h.8v.8h-.8zM102.1 465.5h.8v.8h-.8zM112.7 432.9h.8v.8h-.8zM57.5 433.5h.8v.8h-.8zM68.8 450.3h.8v.8h-.8zM77.8 461.4h.8v.8h-.8zM58.1 450.3h.8v.8h-.8zM62.8 420.7h.8v.8h-.8zM110.2 443.7h.8v.8h-.8zM98.0 411.7h.8v.8h-.8zM117.8 429.1h.8v.8h-.8zM64.7 421.4h.8v.8h-.8zM70.6 456.5h.8v.8h-.8zM79.3 458.3h.8v.8h-.8zM101.3 449.0h.8v.8h-.8zM84.5 424.8h.8v.8h-.8zM107.0 413.5h.8v.8h-.8zM113.5 421.7h.8v.8h-.8zM109.0 414.4h.8v.8h-.8zM53.7 458.5h.8v.8h-.8zM86.2 388.3h.8v.8h-.8zM81.4 436.8h.8v.8h-.8zM71.5 420.9h.8v.8h-.8zM85.0 436.1h.8v.8h-.8zM68.8 460.7h.8v.8h-.8zM75.0 465.3h.8v.8h-.8zM101.9 397.6h.8v.8h-.8zM82.3 409.3h.8v.8h-.8zM99.9 403.9h.8v.8h-.8zM68.0 454.2h.8v.8h-.8zM101.1 409.1h.8v.8h-.8zM87.1 467.0h.8v.8h-.8zM89.2 393.6h.8v.8h-.8zM86.4 421.4h.8v.8h-.8zM80.5 454.6h.8v.8h-.8zM55.9 435.4h.8v.8h-.8zM88.7 451.9h.8v.8h-.8zM92.5 418.0h.8v.8h-.8zM91.2 431.6h.8v.8h-.8zM104.0 447.0h.8v.8h-.8zM61.9 451.5h.8v.8h-.8zM80.2 421.6h.8v.8h-.8zM83.8 423.0h.8v.8h-.8zM90.4 424.2h.8v.8h-.8zM93.2 452.3h.8v.8h-.8zM83.8 457.5h.8v.8h-.8zM56.0 442.4h.8v.8h-.8zM92.9 412.6h.8v.8h-.8zM71.7 383.9h.8v.8h-.8zM87.9 455.8h.8v.8h-.8zM87.1 445.4h.8v.8h-.8zM98.6 412.8h.8v.8h-.8zM87.5 459.8h.8v.8h-.8zM57.1 418.1h.8v.8h-.8zM58.1 450.9h.8v.8h-.8zM49.5 443.4h.8v.8h-.8zM71.6 420.4h.8v.8h-.8zM84.4 457.6h.8v.8h-.8zM52.6 454.8h.8v.8h-.8zM89.2 440.7h.8v.8h-.8zM112.9 428.4h.8v.8h-.8zM56.9 453.4h.8v.8h-.8zM97.6 450.1h.8v.8h-.8zM76.2 460.9h.8v.8h-.8zM89.1 445.1h.8v.8h-.8zM87.6 448.2h.8v.8h-.8zM61.6 465.0h.8v.8h-.8zM52.3 416.2h.8v.8h-.8zM85.4 452.3h.8v.8h-.8zM112.4 462.7h.8v.8h-.8zM75.6 456.1h.8v.8h-.8zM68.6 422.2h.8v.8h-.8zM83.0 425.1h.8v.8h-.8zM122.5 395.2h.8v.8h-.8zM78.4 456.4h.8v.8h-.8zM52.0 444.4h.8v.8h-.8zM56.8 433.5h.8v.8h-.8zM80.8 451.6h.8v.8h-.8zM79.9 383.7h.8v.8h-.8zM96.4 423.7h.8v.8h-.8zM95.9 433.7h.8v.8h-.8zM81.2 466.4h.8v.8h-.8zM117.2 419.6h.8v.8h-.8zM115.1 436.5h.8v.8h-.8zM56.2 444.3h.8v.8h-.8zM59.2 423.3h.8v.8h-.8zM64.1 425.0h.8v.8h-.8zM116.6 430.1h.8v.8h-.8zM84.3 444.2h.8v.8h-.8zM90.1 450.0h.8v.8h-.8zM114.6 430.6h.8v.8h-.8zM84.5 462.7h.8v.8h-.8zM92.1 419.8h.8v.8h-.8zM94.0 449.1h.8v.8h-.8zM86.3 426.4h.8v.8h-.8zM87.0 450.1h.8v.8h-.8zM106.0 405.8h.8v.8h-.8zM56.9 426.3h.8v.8h-.8zM85.7 460.3h.8v.8h-.8zM89.0 423.2h.8v.8h-.8zM53.3 466.3h.8v.8h-.8zM86.7 461.2h.8v.8h-.8zM94.1 418.4h.8v.8h-.8zM49.0 451.8h.8v.8h-.8zM96.2 447.7h.8v.8h-.8zM59.7 451.9h.8v.8h-.8zM63.7 464.3h.8v.8h-.8zM53.6 460.2h.8v.8h-.8zM79.8 456.6h.8v.8h-.8zM88.1 426.6h.8v.8h-.8zM95.6 464.0h.8v.8h-.8zM98.4 415.4h.8v.8h-.8zM113.3 417.9h.8v.8h-.8zM77.3 459.1h.8v.8h-.8zM101.4 451.3h.8v.8h-.8zM54.1 460.2h.8v.8h-.8zM98.4 453.5h.8v.8h-.8zM101.5 414.0h.8v.8h-.8zM53.8 440.7h.8v.8h-.8zM52.2 439.0h.8v.8h-.8zM54.7 432.6h.8v.8h-.8zM109.0 408.5h.8v.8h-.8zM103.5 445.0h.8v.8h-.8zM90.2 438.1h.8v.8h-.8zM105.3 443.1h.8v.8h-.8zM90.6 443.7h.8v.8h-.8zM133.9 436.6h.8v.8h-.8zM64.3 454.2h.8v.8h-.8zM55.4 446.9h.8v.8h-.8zM56.5 404.2h.8v.8h-.8zM52.8 444.2h.8v.8h-.8zM115.5 427.5h.8v.8h-.8zM74.8 385.2h.8v.8h-.8zM46.9 420.1h.8v.8h-.8zM115.6 420.0h.8v.8h-.8zM67.3 458.3h.8v.8h-.8zM81.1 380.1h.8v.8h-.8zM52.3 446.0h.8v.8h-.8zM54.6 448.6h.8v.8h-.8zM52.7 446.3h.8v.8h-.8zM78.3 420.7h.8v.8h-.8zM82.1 386.2h.8v.8h-.8zM92.2 448.5h.8v.8h-.8zM87.0 427.8h.8v.8h-.8zM96.1 428.4h.8v.8h-.8zM72.1 460.0h.8v.8h-.8zM71.3 457.7h.8v.8h-.8zM99.9 454.8h.8v.8h-.8zM90.9 417.7h.8v.8h-.8zM89.0 417.8h.8v.8h-.8zM113.6 424.2h.8v.8h-.8zM54.1 444.2h.8v.8h-.8zM78.9 441.0h.8v.8h-.8zM94.3 424.4h.8v.8h-.8zM100.4 415.6h.8v.8h-.8zM57.4 431.0h.8v.8h-.8zM118.7 422.3h.8v.8h-.8zM90.3 440.7h.8v.8h-.8zM65.8 397.7h.8v.8h-.8zM134.6 419.5h.8v.8h-.8zM91.3 435.5h.8v.8h-.8zM71.0 465.0h.8v.8h-.8zM91.1 436.2h.8v.8h-.8zM81.7 425.6h.8v.8h-.8zM97.1 456.4h.8v.8h-.8zM82.1 454.0h.8v.8h-.8zM105.3 415.0h.8v.8h-.8zM90.8 386.9h.8v.8h-.8zM93.4 448.8h.8v.8h-.8zM50.6 461.6h.8v.8h-.8zM83.5 422.6h.8v.8h-.8zM77.6 459.0h.8v.8h-.8zM80.6 421.9h.8v.8h-.8zM91.5 422.8h.8v.8h-.8zM85.2 421.2h.8v.8h-.8zM97.8 392.4h.8v.8h-.8zM54.3 452.9h.8v.8h-.8zM84.4 438.5h.8v.8h-.8zM114.5 415.8h.8v.8h-.8zM71.0 421.7h.8v.8h-.8zM74.3 458.7h.8v.8h-.8zM94.7 434.6h.8v.8h-.8zM90.3 423.5h.8v.8h-.8zM61.1 452.5h.8v.8h-.8zM80.1 463.2h.8v.8h-.8zM90.6 444.1h.8v.8h-.8zM110.6 417.4h.8v.8h-.8zM64.7 417.6h.8v.8h-.8zM69.4 451.1h.8v.8h-.8zM69.6 461.3h.8v.8h-.8zM110.1 384.0h.8v.8h-.8zM115.7 426.6h.8v.8h-.8zM68.0 418.3h.8v.8h-.8zM93.4 453.6h.8v.8h-.8zM88.6 424.2h.8v.8h-.8zM68.9 420.9h.8v.8h-.8zM54.0 434.4h.8v.8h-.8zM94.4 393.7h.8v.8h-.8zM89.3 442.1h.8v.8h-.8zM57.6 435.1h.8v.8h-.8zM58.8 429.3h.8v.8h-.8zM48.8 425.5h.8v.8h-.8zM97.0 448.7h.8v.8h-.8zM93.5 445.5h.8v.8h-.8zM88.6 453.2h.8v.8h-.8zM55.8 427.3h.8v.8h-.8zM114.4 436.3h.8v.8h-.8zM91.5 445.9h.8v.8h-.8zM57.6 449.7h.8v.8h-.8zM80.6 467.7h.8v.8h-.8zM112.6 430.4h.8v.8h-.8zM86.7 423.2h.8v.8h-.8zM47.0 456.1h.8v.8h-.8zM107.0 446.7h.8v.8h-.8zM85.0 417.6h.8v.8h-.8zM113.0 415.8h.8v.8h-.8zM55.0 444.5h.8v.8h-.8zM61.0 456.1h.8v.8h-.8zM77.1 461.0h.8v.8h-.8zM91.2 394.1h.8v.8h-.8zM58.3 443.9h.8v.8h-.8zM104.1 444.0h.8v.8h-.8zM82.9 454.3h.8v.8h-.8zM95.1 447.2h.8v.8h-.8zM80.3 423.1h.8v.8h-.8zM82.5 435.0h.8v.8h-.8zM116.7 432.2h.8v.8h-.8zM70.9 461.3h.8v.8h-.8zM57.6 431.0h.8v.8h-.8zM51.4 431.8h.8v.8h-.8zM95.8 410.1h.8v.8h-.8zM95.4 407.0h.8v.8h-.8zM90.7 426.5h.8v.8h-.8zM86.4 430.5h.8v.8h-.8zM97.1 461.0h.8v.8h-.8zM92.7 422.0h.8v.8h-.8zM81.5 420.6h.8v.8h-.8zM87.7 433.8h.8v.8h-.8zM62.7 424.6h.8v.8h-.8zM104.6 412.4h.8v.8h-.8zM74.7 397.2h.8v.8h-.8zM49.6 436.5h.8v.8h-.8zM83.0 452.3h.8v.8h-.8zM100.3 446.4h.8v.8h-.8zM63.7 453.1h.8v.8h-.8zM94.1 449.0h.8v.8h-.8zM113.9 420.0h.8v.8h-.8zM89.9 448.1h.8v.8h-.8zM69.2 421.1h.8v.8h-.8zM104.5 459.6h.8v.8h-.8zM61.7 424.4h.8v.8h-.8zM93.9 453.5h.8v.8h-.8zM58.4 461.1h.8v.8h-.8zM72.8 462.9h.8v.8h-.8zM74.3 461.8h.8v.8h-.8zM74.1 457.5h.8v.8h-.8zM116.6 424.9h.8v.8h-.8zM65.4 461.7h.8v.8h-.8zM94.1 414.1h.8v.8h-.8zM72.9 416.1h.8v.8h-.8zM75.4 422.6h.8v.8h-.8zM83.9 425.8h.8v.8h-.8zM54.2 429.9h.8v.8h-.8zM70.4 458.6h.8v.8h-.8zM88.8 428.9h.8v.8h-.8zM84.8 458.2h.8v.8h-.8zM97.2 437.9h.8v.8h-.8zM87.3 440.8h.8v.8h-.8zM72.5 456.5h.8v.8h-.8zM116.5 421.1h.8v.8h-.8zM82.1 426.3h.8v.8h-.8zM62.5 455.9h.8v.8h-.8zM64.1 456.3h.8v.8h-.8zM55.5 433.8h.8v.8h-.8zM91.8 415.4h.8v.8h-.8zM59.3 428.2h.8v.8h-.8zM52.7 465.2h.8v.8h-.8zM91.9 458.6h.8v.8h-.8zM119.3 418.7h.8v.8h-.8zM82.4 433.7h.8v.8h-.8zM84.9 454.1h.8v.8h-.8zM86.6 420.7h.8v.8h-.8zM89.5 449.2h.8v.8h-.8zM84.3 384.4h.8v.8h-.8zM47.9 383.3h.8v.8h-.8zM90.2 427.5h.8v.8h-.8zM72.7 393.7h.8v.8h-.8zM83.7 445.7h.8v.8h-.8zM59.5 457.9h.8v.8h-.8zM87.1 443.3h.8v.8h-.8zM87.4 456.2h.8v.8h-.8zM111.7 410.3h.8v.8h-.8zM79.8 404.2h.8v.8h-.8zM115.0 431.4h.8v.8h-.8zM84.0 440.4h.8v.8h-.8zM90.7 393.6h.8v.8h-.8zM59.6 455.8h.8v.8h-.8zM85.4 452.0h.8v.8h-.8zM112.8 426.2h.8v.8h-.8zM89.5 428.2h.8v.8h-.8zM112.0 438.8h.8v.8h-.8zM56.2 429.6h.8v.8h-.8zM97.6 435.3h.8v.8h-.8zM53.7 458.8h.8v.8h-.8zM71.2 455.9h.8v.8h-.8zM71.8 461.7h.8v.8h-.8zM128.8 408.3h.8v.8h-.8zM45.9 425.5h.8v.8h-.8zM110.0 437.1h.8v.8h-.8zM54.5 425.7h.8v.8h-.8zM78.6 391.0h.8v.8h-.8zM84.7 427.5h.8v.8h-.8zM86.1 448.4h.8v.8h-.8zM56.6 425.2h.8v.8h-.8zM69.0 461.2h.8v.8h-.8zM101.1 411.2h.8v.8h-.8zM90.9 427.6h.8v.8h-.8zM108.0 440.4h.8v.8h-.8zM87.6 398.0h.8v.8h-.8zM106.8 445.5h.8v.8h-.8zM110.7 415.1h.8v.8h-.8zM67.7 455.9h.8v.8h-.8zM108.7 415.7h.8v.8h-.8zM53.5 442.5h.8v.8h-.8zM111.5 417.3h.8v.8h-.8zM81.8 393.5h.8v.8h-.8zM113.9 416.8h.8v.8h-.8zM104.4 449.5h.8v.8h-.8zM86.8 426.6h.8v.8h-.8zM55.5 449.8h.8v.8h-.8zM63.1 455.8h.8v.8h-.8zM77.8 459.0h.8v.8h-.8zM118.7 423.3h.8v.8h-.8zM74.3 462.4h.8v.8h-.8zM55.4 432.3h.8v.8h-.8zM113.7 420.3h.8v.8h-.8zM115.2 437.6h.8v.8h-.8zM84.1 421.5h.8v.8h-.8zM98.9 455.7h.8v.8h-.8zM82.7 460.2h.8v.8h-.8zM110.8 412.6h.8v.8h-.8zM85.8 437.9h.8v.8h-.8zM71.1 465.7h.8v.8h-.8zM89.3 450.1h.8v.8h-.8zM80.5 453.3h.8v.8h-.8zM85.4 467.3h.8v.8h-.8zM77.7 387.6h.8v.8h-.8zM88.0 428.4h.8v.8h-.8zM104.2 445.6h.8v.8h-.8zM113.0 428.2h.8v.8h-.8zM116.3 433.3h.8v.8h-.8zM69.0 457.2h.8v.8h-.8zM114.4 427.0h.8v.8h-.8zM87.3 453.4h.8v.8h-.8zM108.5 406.5h.8v.8h-.8zM70.6 466.4h.8v.8h-.8zM88.2 447.2h.8v.8h-.8zM67.4 420.3h.8v.8h-.8zM98.8 451.5h.8v.8h-.8zM101.4 392.2h.8v.8h-.8zM66.1 392.8h.8v.8h-.8zM85.1 449.9h.8v.8h-.8zM96.4 449.9h.8v.8h-.8zM78.8 385.9h.8v.8h-.8zM98.1 448.7h.8v.8h-.8zM85.5 451.3h.8v.8h-.8zM95.9 416.7h.8v.8h-.8zM86.7 448.2h.8v.8h-.8zM69.6 457.8h.8v.8h-.8zM114.1 422.8h.8v.8h-.8zM84.5 462.7h.8v.8h-.8zM57.6 445.0h.8v.8h-.8zM81.4 416.0h.8v.8h-.8zM111.1 410.0h.8v.8h-.8zM59.1 448.2h.8v.8h-.8zM85.0 389.5h.8v.8h-.8zM87.8 393.6h.8v.8h-.8zM111.1 415.0h.8v.8h-.8zM101.5 446.5h.8v.8h-.8zM113.2 425.3h.8v.8h-.8zM87.3 452.1h.8v.8h-.8zM96.9 453.3h.8v.8h-.8zM89.9 426.2h.8v.8h-.8zM84.3 391.4h.8v.8h-.8zM66.2 463.3h.8v.8h-.8zM92.8 418.2h.8v.8h-.8zM54.9 430.0h.8v.8h-.8zM95.8 440.4h.8v.8h-.8zM91.5 460.7h.8v.8h-.8zM71.0 417.2h.8v.8h-.8zM56.0 443.9h.8v.8h-.8zM64.2 420.3h.8v.8h-.8zM51.1 421.9h.8v.8h-.8zM93.7 458.6h.8v.8h-.8zM112.1 417.5h.8v.8h-.8zM112.3 413.0h.8v.8h-.8zM66.3 464.8h.8v.8h-.8zM59.5 422.8h.8v.8h-.8zM81.4 454.0h.8v.8h-.8zM90.7 415.6h.8v.8h-.8zM76.0 419.0h.8v.8h-.8zM88.4 438.7h.8v.8h-.8zM67.8 456.5h.8v.8h-.8zM82.6 444.5h.8v.8h-.8zM94.0 444.1h.8v.8h-.8zM63.5 425.6h.8v.8h-.8zM92.7 420.6h.8v.8h-.8zM85.8 428.3h.8v.8h-.8zM51.2 435.4h.8v.8h-.8zM61.0 453.6h.8v.8h-.8zM80.2 461.9h.8v.8h-.8zM60.5 466.4h.8v.8h-.8zM98.1 427.2h.8v.8h-.8zM52.1 435.5h.8v.8h-.8zM51.6 444.1h.8v.8h-.8zM114.9 459.0h.8v.8h-.8zM55.0 433.1h.8v.8h-.8zM56.1 436.5h.8v.8h-.8zM89.7 443.6h.8v.8h-.8zM107.4 413.1h.8v.8h-.8zM91.5 455.2h.8v.8h-.8zM58.6 449.5h.8v.8h-.8zM114.8 430.2h.8v.8h-.8zM88.3 440.1h.8v.8h-.8zM105.1 444.9h.8v.8h-.8zM84.6 428.2h.8v.8h-.8zM78.2 461.9h.8v.8h-.8zM93.6 453.7h.8v.8h-.8zM114.5 424.7h.8v.8h-.8zM86.1 421.7h.8v.8h-.8zM110.3 436.7h.8v.8h-.8zM90.8 437.0h.8v.8h-.8zM84.5 443.5h.8v.8h-.8zM94.3 411.0h.8v.8h-.8zM111.6 434.6h.8v.8h-.8zM67.9 453.7h.8v.8h-.8zM113.0 418.2h.8v.8h-.8zM77.5 418.3h.8v.8h-.8zM59.9 448.5h.8v.8h-.8zM48.4 429.5h.8v.8h-.8zM94.6 446.4h.8v.8h-.8zM86.8 424.5h.8v.8h-.8zM80.7 453.8h.8v.8h-.8zM53.8 436.4h.8v.8h-.8zM64.8 462.9h.8v.8h-.8zM59.0 426.1h.8v.8h-.8zM88.0 446.6h.8v.8h-.8zM51.9 457.0h.8v.8h-.8zM97.1 436.3h.8v.8h-.8zM57.4 428.3h.8v.8h-.8zM86.5 460.3h.8v.8h-.8zM45.9 421.9h.8v.8h-.8zM75.5 422.9h.8v.8h-.8zM62.2 422.7h.8v.8h-.8zM91.0 436.7h.8v.8h-.8zM74.4 460.4h.8v.8h-.8zM61.4 455.5h.8v.8h-.8zM100.0 438.2h.8v.8h-.8zM120.9 407.0h.8v.8h-.8zM88.7 441.3h.8v.8h-.8zM113.4 422.8h.8v.8h-.8zM82.2 455.7h.8v.8h-.8zM66.3 462.4h.8v.8h-.8zM55.6 433.2h.8v.8h-.8zM99.4 414.8h.8v.8h-.8zM70.1 420.7h.8v.8h-.8zM73.3 386.3h.8v.8h-.8zM72.0 388.1h.8v.8h-.8zM91.0 424.5h.8v.8h-.8zM92.5 447.3h.8v.8h-.8zM85.2 390.5h.8v.8h-.8zM79.9 460.1h.8v.8h-.8zM69.0 462.3h.8v.8h-.8zM73.5 420.4h.8v.8h-.8zM50.3 424.4h.8v.8h-.8zM73.6 463.4h.8v.8h-.8zM113.4 427.5h.8v.8h-.8zM114.7 445.6h.8v.8h-.8zM60.7 460.5h.8v.8h-.8zM76.1 460.4h.8v.8h-.8zM55.8 449.2h.8v.8h-.8zM64.2 457.6h.8v.8h-.8zM78.4 453.2h.8v.8h-.8zM96.8 415.9h.8v.8h-.8zM90.1 448.5h.8v.8h-.8zM45.1 461.5h.8v.8h-.8zM68.7 458.4h.8v.8h-.8zM98.4 415.5h.8v.8h-.8zM78.9 421.9h.8v.8h-.8zM89.3 425.6h.8v.8h-.8zM55.0 454.7h.8v.8h-.8zM48.5 432.1h.8v.8h-.8zM94.4 453.5h.8v.8h-.8zM90.0 451.7h.8v.8h-.8zM68.6 407.3h.8v.8h-.8zM80.5 456.8h.8v.8h-.8zM91.9 432.5h.8v.8h-.8zM80.4 415.0h.8v.8h-.8zM86.9 427.5h.8v.8h-.8zM114.3 426.4h.8v.8h-.8zM86.5 387.4h.8v.8h-.8zM112.2 434.4h.8v.8h-.8zM84.8 426.0h.8v.8h-.8zM94.6 445.1h.8v.8h-.8zM62.6 419.5h.8v.8h-.8zM86.6 385.7h.8v.8h-.8zM79.9 457.9h.8v.8h-.8zM65.0 465.3h.8v.8h-.8zM58.3 448.7h.8v.8h-.8zM104.6 410.7h.8v.8h-.8zM91.0 446.1h.8v.8h-.8zM57.0 437.2h.8v.8h-.8zM91.6 441.2h.8v.8h-.8zM95.0 453.4h.8v.8h-.8zM95.6 418.5h.8v.8h-.8zM87.5 425.1h.8v.8h-.8zM95.8 383.5h.8v.8h-.8zM69.9 461.3h.8v.8h-.8zM89.3 428.7h.8v.8h-.8zM56.7 438.5h.8v.8h-.8zM120.7 465.8h.8v.8h-.8zM64.9 424.6h.8v.8h-.8zM113.8 439.0h.8v.8h-.8zM94.4 419.0h.8v.8h-.8zM83.2 453.9h.8v.8h-.8zM71.1 459.5h.8v.8h-.8zM109.5 412.8h.8v.8h-.8zM105.0 446.7h.8v.8h-.8zM54.1 423.1h.8v.8h-.8zM86.4 432.3h.8v.8h-.8zM82.2 460.7h.8v.8h-.8zM56.0 436.3h.8v.8h-.8zM66.9 457.0h.8v.8h-.8zM86.2 456.5h.8v.8h-.8zM82.3 390.7h.8v.8h-.8zM48.5 443.6h.8v.8h-.8zM71.9 421.6h.8v.8h-.8zM67.8 423.1h.8v.8h-.8zM89.3 394.6h.8v.8h-.8zM64.4 454.4h.8v.8h-.8zM92.2 417.7h.8v.8h-.8zM125.7 462.5h.8v.8h-.8zM99.0 447.6h.8v.8h-.8zM58.3 445.6h.8v.8h-.8zM96.4 433.6h.8v.8h-.8zM56.5 437.3h.8v.8h-.8zM57.1 435.7h.8v.8h-.8zM93.0 453.1h.8v.8h-.8zM77.4 455.0h.8v.8h-.8zM61.7 449.4h.8v.8h-.8zM47.4 445.0h.8v.8h-.8zM76.5 421.9h.8v.8h-.8zM79.5 462.8h.8v.8h-.8zM85.4 420.5h.8v.8h-.8zM84.9 429.4h.8v.8h-.8zM91.2 446.3h.8v.8h-.8zM82.0 458.0h.8v.8h-.8zM87.1 442.1h.8v.8h-.8zM87.4 423.4h.8v.8h-.8zM84.2 427.5h.8v.8h-.8zM115.3 420.8h.8v.8h-.8zM108.7 448.2h.8v.8h-.8zM86.9 463.4h.8v.8h-.8zM77.8 462.9h.8v.8h-.8zM55.8 434.9h.8v.8h-.8zM87.7 451.1h.8v.8h-.8zM46.1 462.9h.8v.8h-.8zM50.9 446.9h.8v.8h-.8zM79.1 420.0h.8v.8h-.8zM72.5 463.8h.8v.8h-.8zM112.0 431.9h.8v.8h-.8zM89.0 447.7h.8v.8h-.8zM61.0 427.5h.8v.8h-.8zM90.2 447.6h.8v.8h-.8zM116.6 404.9h.8v.8h-.8zM116.7 437.5h.8v.8h-.8zM89.2 418.9h.8v.8h-.8zM94.9 467.4h.8v.8h-.8zM73.4 456.5h.8v.8h-.8zM70.6 454.8h.8v.8h-.8zM75.3 420.9h.8v.8h-.8zM63.5 420.1h.8v.8h-.8zM88.4 435.1h.8v.8h-.8zM100.3 451.6h.8v.8h-.8zM92.2 463.2h.8v.8h-.8zM91.8 448.1h.8v.8h-.8zM77.1 421.6h.8v.8h-.8zM91.8 439.9h.8v.8h-.8zM83.7 449.4h.8v.8h-.8zM66.6 422.5h.8v.8h-.8zM79.5 465.3h.8v.8h-.8zM92.7 396.8h.8v.8h-.8zM84.1 455.8h.8v.8h-.8zM60.9 426.6h.8v.8h-.8zM115.2 423.1h.8v.8h-.8zM70.3 459.0h.8v.8h-.8zM69.7 395.0h.8v.8h-.8zM109.5 437.3h.8v.8h-.8zM68.1 454.0h.8v.8h-.8zM88.6 390.8h.8v.8h-.8zM64.1 457.4h.8v.8h-.8zM84.8 427.1h.8v.8h-.8zM57.4 437.0h.8v.8h-.8zM64.3 461.0h.8v.8h-.8zM111.7 416.8h.8v.8h-.8zM79.0 424.1h.8v.8h-.8zM50.9 450.7h.8v.8h-.8zM70.7 422.7h.8v.8h-.8zM85.2 386.1h.8v.8h-.8zM95.5 431.3h.8v.8h-.8zM63.7 452.5h.8v.8h-.8zM80.2 456.6h.8v.8h-.8zM110.1 416.1h.8v.8h-.8zM62.7 449.4h.8v.8h-.8zM103.7 414.8h.8v.8h-.8zM97.8 415.6h.8v.8h-.8zM115.6 436.7h.8v.8h-.8zM91.3 424.8h.8v.8h-.8zM53.6 438.5h.8v.8h-.8zM71.2 454.2h.8v.8h-.8zM87.3 446.5h.8v.8h-.8zM94.4 413.3h.8v.8h-.8zM113.0 422.6h.8v.8h-.8zM98.2 443.1h.8v.8h-.8zM57.3 449.7h.8v.8h-.8zM79.5 460.8h.8v.8h-.8zM49.3 433.3h.8v.8h-.8zM108.2 445.2h.8v.8h-.8zM81.7 453.0h.8v.8h-.8zM95.7 418.8h.8v.8h-.8zM79.4 397.6h.8v.8h-.8zM77.9 461.2h.8v.8h-.8zM107.1 412.3h.8v.8h-.8zM62.9 424.3h.8v.8h-.8zM84.0 425.3h.8v.8h-.8zM95.3 437.3h.8v.8h-.8zM55.1 441.6h.8v.8h-.8zM65.6 423.9h.8v.8h-.8zM87.1 435.0h.8v.8h-.8zM93.6 420.7h.8v.8h-.8zM111.6 436.1h.8v.8h-.8zM75.6 380.3h.8v.8h-.8zM100.5 383.8h.8v.8h-.8zM82.2 455.1h.8v.8h-.8zM75.3 465.1h.8v.8h-.8zM101.2 414.9h.8v.8h-.8zM92.6 390.7h.8v.8h-.8zM95.9 452.5h.8v.8h-.8zM101.2 449.3h.8v.8h-.8zM104.0 446.1h.8v.8h-.8zM89.3 416.6h.8v.8h-.8zM59.2 449.5h.8v.8h-.8zM91.7 451.8h.8v.8h-.8zM76.7 390.3h.8v.8h-.8zM96.0 428.9h.8v.8h-.8zM115.2 418.7h.8v.8h-.8zM55.4 448.8h.8v.8h-.8zM74.4 459.1h.8v.8h-.8zM82.6 453.7h.8v.8h-.8zM58.0 426.2h.8v.8h-.8zM57.8 419.8h.8v.8h-.8zM57.3 441.0h.8v.8h-.8zM59.8 467.1h.8v.8h-.8zM83.9 427.9h.8v.8h-.8zM66.9 467.1h.8v.8h-.8zM58.8 446.1h.8v.8h-.8zM89.2 441.7h.8v.8h-.8zM51.0 439.7h.8v.8h-.8zM111.9 414.3h.8v.8h-.8zM92.9 450.2h.8v.8h-.8zM90.2 431.0h.8v.8h-.8zM90.4 425.6h.8v.8h-.8zM77.0 386.4h.8v.8h-.8zM102.7 412.1h.8v.8h-.8zM74.2 413.4h.8v.8h-.8zM92.9 431.7h.8v.8h-.8zM67.2 421.8h.8v.8h-.8zM69.6 421.1h.8v.8h-.8zM74.7 412.5h.8v.8h-.8zM65.8 460.9h.8v.8h-.8zM61.6 425.9h.8v.8h-.8zM106.8 445.2h.8v.8h-.8zM110.6 438.4h.8v.8h-.8zM59.9 449.2h.8v.8h-.8zM104.2 450.8h.8v.8h-.8zM90.5 459.1h.8v.8h-.8zM85.8 465.1h.8v.8h-.8zM88.9 438.7h.8v.8h-.8zM81.4 381.9h.8v.8h-.8zM66.4 455.0h.8v.8h-.8zM55.6 441.8h.8v.8h-.8zM57.8 442.1h.8v.8h-.8zM78.2 455.6h.8v.8h-.8zM82.9 455.6h.8v.8h-.8zM94.5 448.0h.8v.8h-.8zM92.1 404.0h.8v.8h-.8zM92.1 463.3h.8v.8h-.8zM92.9 464.7h.8v.8h-.8zM88.0 449.0h.8v.8h-.8zM84.1 451.4h.8v.8h-.8zM87.0 467.0h.8v.8h-.8zM113.9 425.8h.8v.8h-.8zM83.9 439.3h.8v.8h-.8zM87.3 445.6h.8v.8h-.8zM77.4 421.1h.8v.8h-.8zM48.6 439.9h.8v.8h-.8zM78.0 416.8h.8v.8h-.8zM88.7 442.8h.8v.8h-.8zM110.3 465.6h.8v.8h-.8zM90.8 448.9h.8v.8h-.8zM99.2 434.9h.8v.8h-.8zM114.0 422.5h.8v.8h-.8zM52.1 464.7h.8v.8h-.8zM89.8 439.0h.8v.8h-.8zM61.6 458.5h.8v.8h-.8zM84.5 447.9h.8v.8h-.8zM101.2 383.6h.8v.8h-.8zM71.3 388.3h.8v.8h-.8zM66.8 454.6h.8v.8h-.8zM95.6 415.0h.8v.8h-.8zM72.7 421.8h.8v.8h-.8zM101.0 414.1h.8v.8h-.8zM66.0 466.5h.8v.8h-.8zM113.1 428.9h.8v.8h-.8zM84.6 449.0h.8v.8h-.8zM96.3 449.0h.8v.8h-.8zM114.8 409.8h.8v.8h-.8zM76.7 465.2h.8v.8h-.8zM67.7 423.4h.8v.8h-.8zM61.3 425.3h.8v.8h-.8zM89.0 389.2h.8v.8h-.8zM108.2 443.4h.8v.8h-.8zM112.4 436.5h.8v.8h-.8zM84.0 454.6h.8v.8h-.8zM48.8 431.9h.8v.8h-.8zM99.3 416.2h.8v.8h-.8zM59.5 463.0h.8v.8h-.8zM107.2 410.0h.8v.8h-.8zM112.0 418.8h.8v.8h-.8zM48.0 445.6h.8v.8h-.8zM57.6 431.5h.8v.8h-.8zM113.9 429.5h.8v.8h-.8zM79.9 447.3h.8v.8h-.8zM70.7 461.9h.8v.8h-.8zM77.7 391.8h.8v.8h-.8zM68.3 463.7h.8v.8h-.8zM91.9 395.0h.8v.8h-.8zM53.1 425.8h.8v.8h-.8zM94.2 420.0h.8v.8h-.8zM114.6 426.3h.8v.8h-.8zM51.6 448.0h.8v.8h-.8zM99.1 439.7h.8v.8h-.8zM110.2 414.9h.8v.8h-.8zM48.5 431.5h.8v.8h-.8zM53.0 428.2h.8v.8h-.8zM116.0 421.7h.8v.8h-.8zM55.6 428.5h.8v.8h-.8zM75.9 403.4h.8v.8h-.8zM67.0 453.3h.8v.8h-.8zM62.5 465.3h.8v.8h-.8zM93.5 466.0h.8v.8h-.8zM81.9 439.0h.8v.8h-.8zM89.3 388.2h.8v.8h-.8zM80.7 377.6h.8v.8h-.8zM118.3 428.7h.8v.8h-.8zM72.2 421.7h.8v.8h-.8zM69.4 453.4h.8v.8h-.8zM115.6 422.0h.8v.8h-.8zM60.5 458.7h.8v.8h-.8zM118.3 423.7h.8v.8h-.8zM106.6 388.8h.8v.8h-.8zM88.8 431.8h.8v.8h-.8zM53.1 431.4h.8v.8h-.8zM110.1 414.4h.8v.8h-.8zM113.7 426.2h.8v.8h-.8zM82.6 420.9h.8v.8h-.8zM72.7 459.7h.8v.8h-.8zM91.2 383.6h.8v.8h-.8zM95.6 383.8h.8v.8h-.8zM84.9 438.2h.8v.8h-.8zM93.2 431.7h.8v.8h-.8zM54.2 445.2h.8v.8h-.8zM53.9 436.1h.8v.8h-.8zM81.3 419.9h.8v.8h-.8zM102.4 423.0h.8v.8h-.8zM56.2 433.0h.8v.8h-.8zM88.9 458.3h.8v.8h-.8zM71.7 461.6h.8v.8h-.8zM82.8 419.9h.8v.8h-.8zM68.6 453.7h.8v.8h-.8zM55.7 435.3h.8v.8h-.8zM85.0 426.1h.8v.8h-.8zM87.9 441.6h.8v.8h-.8zM90.1 453.0h.8v.8h-.8zM97.1 433.4h.8v.8h-.8zM117.2 437.2h.8v.8h-.8zM84.5 421.5h.8v.8h-.8zM60.1 412.0h.8v.8h-.8zM77.0 422.1h.8v.8h-.8zM59.5 451.5h.8v.8h-.8zM88.7 397.4h.8v.8h-.8zM94.2 452.8h.8v.8h-.8zM85.3 446.8h.8v.8h-.8zM112.4 466.5h.8v.8h-.8zM108.6 452.9h.8v.8h-.8zM79.3 423.1h.8v.8h-.8zM78.6 458.5h.8v.8h-.8zM88.8 434.6h.8v.8h-.8zM90.5 430.9h.8v.8h-.8zM77.0 421.7h.8v.8h-.8zM73.6 385.1h.8v.8h-.8zM64.8 457.6h.8v.8h-.8zM91.4 448.4h.8v.8h-.8zM89.9 429.8h.8v.8h-.8zM84.2 456.3h.8v.8h-.8zM118.6 441.3h.8v.8h-.8zM90.5 424.6h.8v.8h-.8zM90.3 420.4h.8v.8h-.8zM65.1 424.3h.8v.8h-.8zM90.5 424.9h.8v.8h-.8zM87.8 382.6h.8v.8h-.8zM82.0 422.3h.8v.8h-.8zM66.3 459.0h.8v.8h-.8zM94.4 419.6h.8v.8h-.8zM113.6 421.7h.8v.8h-.8zM56.6 425.0h.8v.8h-.8zM69.9 460.8h.8v.8h-.8zM76.2 455.5h.8v.8h-.8zM94.7 447.1h.8v.8h-.8zM111.2 417.4h.8v.8h-.8zM92.3 392.4h.8v.8h-.8zM76.6 418.9h.8v.8h-.8zM67.0 455.4h.8v.8h-.8zM112.9 428.9h.8v.8h-.8zM85.8 427.5h.8v.8h-.8zM112.2 410.6h.8v.8h-.8zM86.9 425.5h.8v.8h-.8zM99.8 415.8h.8v.8h-.8zM68.9 418.5h.8v.8h-.8zM88.4 430.7h.8v.8h-.8zM57.7 428.7h.8v.8h-.8zM65.7 423.8h.8v.8h-.8zM71.8 459.1h.8v.8h-.8zM64.5 420.6h.8v.8h-.8zM91.9 440.9h.8v.8h-.8zM70.2 466.8h.8v.8h-.8zM82.9 457.1h.8v.8h-.8zM86.6 436.2h.8v.8h-.8zM88.7 441.6h.8v.8h-.8zM88.6 426.9h.8v.8h-.8zM48.2 429.9h.8v.8h-.8zM66.5 420.3h.8v.8h-.8zM73.1 452.4h.8v.8h-.8zM45.9 458.7h.8v.8h-.8zM58.3 425.5h.8v.8h-.8zM65.8 420.1h.8v.8h-.8zM49.8 422.5h.8v.8h-.8zM72.7 455.0h.8v.8h-.8zM118.1 434.0h.8v.8h-.8zM75.2 455.0h.8v.8h-.8zM95.0 446.8h.8v.8h-.8zM100.0 440.2h.8v.8h-.8zM95.1 436.3h.8v.8h-.8zM113.7 436.2h.8v.8h-.8zM98.7 446.7h.8v.8h-.8zM123.4 423.2h.8v.8h-.8zM57.8 431.8h.8v.8h-.8zM89.4 373.9h.8v.8h-.8zM90.7 453.8h.8v.8h-.8zM65.3 459.9h.8v.8h-.8zM89.1 448.9h.8v.8h-.8zM112.0 431.3h.8v.8h-.8zM100.6 466.0h.8v.8h-.8zM72.5 422.1h.8v.8h-.8zM106.8 442.7h.8v.8h-.8zM59.6 449.4h.8v.8h-.8zM54.5 437.8h.8v.8h-.8zM71.4 459.3h.8v.8h-.8zM66.3 456.7h.8v.8h-.8zM93.3 451.3h.8v.8h-.8zM70.6 415.7h.8v.8h-.8zM80.6 461.4h.8v.8h-.8zM97.6 435.6h.8v.8h-.8zM80.9 453.9h.8v.8h-.8zM111.5 418.8h.8v.8h-.8zM49.7 426.4h.8v.8h-.8zM97.4 449.3h.8v.8h-.8zM74.7 454.8h.8v.8h-.8zM122.7 421.3h.8v.8h-.8zM107.1 411.2h.8v.8h-.8zM70.5 420.7h.8v.8h-.8zM75.6 392.7h.8v.8h-.8zM88.2 393.9h.8v.8h-.8zM66.2 462.1h.8v.8h-.8zM90.2 424.0h.8v.8h-.8zM98.0 414.9h.8v.8h-.8zM85.1 445.3h.8v.8h-.8zM70.2 388.9h.8v.8h-.8zM98.7 396.1h.8v.8h-.8zM85.8 445.3h.8v.8h-.8zM97.7 456.8h.8v.8h-.8zM78.1 421.0h.8v.8h-.8zM90.3 459.7h.8v.8h-.8zM53.5 424.4h.8v.8h-.8zM84.6 455.1h.8v.8h-.8zM89.6 436.1h.8v.8h-.8zM107.4 413.5h.8v.8h-.8zM75.2 458.8h.8v.8h-.8zM78.0 422.6h.8v.8h-.8zM107.0 441.4h.8v.8h-.8zM61.5 457.0h.8v.8h-.8zM79.1 418.2h.8v.8h-.8zM87.1 446.6h.8v.8h-.8zM88.3 434.5h.8v.8h-.8zM104.2 450.0h.8v.8h-.8zM86.4 467.7h.8v.8h-.8zM105.4 412.8h.8v.8h-.8zM100.9 412.3h.8v.8h-.8zM70.3 455.7h.8v.8h-.8zM80.3 422.5h.8v.8h-.8zM112.9 464.5h.8v.8h-.8zM64.0 382.4h.8v.8h-.8zM90.5 423.9h.8v.8h-.8zM87.3 373.8h.8v.8h-.8zM57.0 428.5h.8v.8h-.8zM87.0 433.2h.8v.8h-.8zM100.5 441.2h.8v.8h-.8zM67.9 457.8h.8v.8h-.8zM74.5 422.3h.8v.8h-.8zM89.7 428.7h.8v.8h-.8zM101.5 437.5h.8v.8h-.8zM113.0 417.4h.8v.8h-.8zM111.4 416.6h.8v.8h-.8zM68.8 461.3h.8v.8h-.8zM64.7 467.2h.8v.8h-.8zM60.2 447.7h.8v.8h-.8zM94.3 434.9h.8v.8h-.8zM93.2 421.3h.8v.8h-.8zM52.3 430.3h.8v.8h-.8zM59.9 450.1h.8v.8h-.8zM55.7 454.2h.8v.8h-.8zM67.1 457.2h.8v.8h-.8zM86.7 396.5h.8v.8h-.8zM80.2 453.3h.8v.8h-.8zM106.4 429.0h.8v.8h-.8zM117.2 437.3h.8v.8h-.8zM69.9 459.1h.8v.8h-.8zM107.7 414.2h.8v.8h-.8zM109.3 439.1h.8v.8h-.8zM50.5 461.4h.8v.8h-.8zM99.7 411.9h.8v.8h-.8zM112.3 418.0h.8v.8h-.8zM60.1 464.8h.8v.8h-.8zM120.1 410.8h.8v.8h-.8zM88.8 424.0h.8v.8h-.8zM115.2 416.9h.8v.8h-.8zM108.9 439.2h.8v.8h-.8zM113.1 427.0h.8v.8h-.8zM113.4 419.0h.8v.8h-.8zM83.1 399.5h.8v.8h-.8zM92.4 386.0h.8v.8h-.8zM88.8 442.2h.8v.8h-.8zM135.6 465.2h.8v.8h-.8zM65.3 424.4h.8v.8h-.8zM56.8 455.5h.8v.8h-.8zM80.5 460.7h.8v.8h-.8zM117.3 428.0h.8v.8h-.8zM54.3 449.7h.8v.8h-.8zM94.3 456.4h.8v.8h-.8zM56.8 442.1h.8v.8h-.8zM78.2 446.4h.8v.8h-.8zM91.6 420.4h.8v.8h-.8zM80.9 437.9h.8v.8h-.8zM88.2 464.9h.8v.8h-.8zM84.0 435.3h.8v.8h-.8zM117.9 431.5h.8v.8h-.8zM75.5 459.8h.8v.8h-.8zM109.4 416.3h.8v.8h-.8zM128.3 453.6h.8v.8h-.8zM82.6 394.1h.8v.8h-.8zM95.3 448.9h.8v.8h-.8zM73.4 461.9h.8v.8h-.8zM91.1 433.8h.8v.8h-.8zM107.8 440.8h.8v.8h-.8zM108.9 411.0h.8v.8h-.8zM94.2 419.6h.8v.8h-.8zM58.1 428.1h.8v.8h-.8zM70.6 422.1h.8v.8h-.8zM92.1 437.5h.8v.8h-.8zM94.5 401.2h.8v.8h-.8zM88.5 454.9h.8v.8h-.8zM113.4 423.4h.8v.8h-.8zM64.4 419.9h.8v.8h-.8zM95.0 464.5h.8v.8h-.8zM67.9 456.6h.8v.8h-.8zM88.7 442.4h.8v.8h-.8zM61.7 455.0h.8v.8h-.8zM91.3 418.9h.8v.8h-.8zM89.1 400.5h.8v.8h-.8zM92.2 422.0h.8v.8h-.8zM48.2 431.6h.8v.8h-.8zM71.4 460.8h.8v.8h-.8zM59.1 431.7h.8v.8h-.8zM55.2 436.4h.8v.8h-.8zM53.9 435.0h.8v.8h-.8zM75.4 421.7h.8v.8h-.8zM83.2 430.0h.8v.8h-.8zM61.7 423.0h.8v.8h-.8zM113.4 418.9h.8v.8h-.8zM92.0 437.4h.8v.8h-.8zM103.4 401.1h.8v.8h-.8zM58.6 448.4h.8v.8h-.8zM111.3 438.6h.8v.8h-.8zM90.6 450.4h.8v.8h-.8zM84.7 388.3h.8v.8h-.8zM69.6 421.6h.8v.8h-.8zM64.2 460.8h.8v.8h-.8zM99.7 447.7h.8v.8h-.8zM80.1 461.2h.8v.8h-.8zM91.5 421.5h.8v.8h-.8zM52.9 421.8h.8v.8h-.8zM55.8 439.1h.8v.8h-.8zM95.5 447.0h.8v.8h-.8zM53.0 431.5h.8v.8h-.8zM90.3 441.2h.8v.8h-.8zM92.6 419.5h.8v.8h-.8zM67.8 454.5h.8v.8h-.8zM86.0 418.7h.8v.8h-.8zM55.4 445.8h.8v.8h-.8zM82.8 451.0h.8v.8h-.8zM51.7 436.2h.8v.8h-.8zM52.6 427.7h.8v.8h-.8zM82.4 389.6h.8v.8h-.8zM68.7 456.8h.8v.8h-.8zM71.8 461.5h.8v.8h-.8zM60.6 448.8h.8v.8h-.8zM88.7 448.5h.8v.8h-.8zM89.3 446.8h.8v.8h-.8zM111.4 417.7h.8v.8h-.8zM60.7 452.6h.8v.8h-.8zM101.4 405.3h.8v.8h-.8zM94.8 455.5h.8v.8h-.8zM97.5 411.2h.8v.8h-.8zM88.0 416.5h.8v.8h-.8zM75.1 458.8h.8v.8h-.8zM110.0 414.5h.8v.8h-.8zM88.3 441.6h.8v.8h-.8zM76.6 393.3h.8v.8h-.8zM86.4 423.4h.8v.8h-.8zM90.8 445.5h.8v.8h-.8zM93.1 387.3h.8v.8h-.8zM114.4 405.1h.8v.8h-.8zM83.5 445.8h.8v.8h-.8zM67.4 456.3h.8v.8h-.8zM114.3 426.5h.8v.8h-.8zM84.9 434.4h.8v.8h-.8zM83.8 458.8h.8v.8h-.8zM56.3 456.0h.8v.8h-.8zM65.6 458.0h.8v.8h-.8zM105.3 414.7h.8v.8h-.8zM80.7 393.0h.8v.8h-.8zM81.4 451.5h.8v.8h-.8zM95.1 416.9h.8v.8h-.8zM101.3 458.2h.8v.8h-.8zM86.3 423.8h.8v.8h-.8zM87.0 453.8h.8v.8h-.8zM55.9 445.5h.8v.8h-.8zM49.0 463.3h.8v.8h-.8zM87.4 434.7h.8v.8h-.8zM109.0 415.0h.8v.8h-.8zM83.1 418.0h.8v.8h-.8zM97.2 454.8h.8v.8h-.8zM107.6 415.5h.8v.8h-.8zM68.2 451.2h.8v.8h-.8zM66.7 456.7h.8v.8h-.8zM66.8 423.3h.8v.8h-.8zM52.2 441.9h.8v.8h-.8zM96.5 436.9h.8v.8h-.8zM116.9 425.6h.8v.8h-.8zM102.4 447.7h.8v.8h-.8zM91.3 458.6h.8v.8h-.8zM101.3 415.1h.8v.8h-.8zM119.4 415.2h.8v.8h-.8zM92.0 463.1h.8v.8h-.8zM93.1 416.2h.8v.8h-.8zM108.2 453.7h.8v.8h-.8zM113.9 417.4h.8v.8h-.8zM76.3 389.3h.8v.8h-.8zM111.9 445.9h.8v.8h-.8zM57.2 421.8h.8v.8h-.8zM65.6 463.3h.8v.8h-.8zM77.4 455.3h.8v.8h-.8zM60.3 427.4h.8v.8h-.8zM51.6 421.0h.8v.8h-.8zM90.7 449.7h.8v.8h-.8zM96.3 394.6h.8v.8h-.8zM61.5 462.7h.8v.8h-.8zM87.4 430.2h.8v.8h-.8zM64.1 455.9h.8v.8h-.8zM67.7 422.7h.8v.8h-.8zM104.6 449.3h.8v.8h-.8zM57.8 436.2h.8v.8h-.8zM65.0 388.2h.8v.8h-.8zM95.7 450.2h.8v.8h-.8zM105.2 453.5h.8v.8h-.8zM99.8 448.7h.8v.8h-.8zM91.3 440.1h.8v.8h-.8zM79.4 397.9h.8v.8h-.8zM55.5 443.1h.8v.8h-.8zM118.0 449.1h.8v.8h-.8zM69.7 454.2h.8v.8h-.8zM74.8 420.4h.8v.8h-.8zM69.6 456.0h.8v.8h-.8zM66.9 417.4h.8v.8h-.8zM88.0 443.8h.8v.8h-.8zM85.2 389.2h.8v.8h-.8zM69.7 460.7h.8v.8h-.8zM81.5 460.2h.8v.8h-.8zM112.3 413.7h.8v.8h-.8zM114.3 412.5h.8v.8h-.8zM55.6 421.5h.8v.8h-.8zM86.6 441.0h.8v.8h-.8zM74.5 462.0h.8v.8h-.8zM80.1 460.5h.8v.8h-.8zM76.9 463.3h.8v.8h-.8zM59.9 446.8h.8v.8h-.8zM60.0 450.4h.8v.8h-.8zM67.7 467.3h.8v.8h-.8zM92.3 444.5h.8v.8h-.8zM107.3 444.9h.8v.8h-.8zM92.1 420.6h.8v.8h-.8zM65.1 453.1h.8v.8h-.8zM81.0 456.8h.8v.8h-.8zM63.2 460.1h.8v.8h-.8zM57.2 421.4h.8v.8h-.8zM83.8 448.9h.8v.8h-.8zM87.6 459.8h.8v.8h-.8zM90.9 434.4h.8v.8h-.8zM72.0 417.2h.8v.8h-.8zM57.3 437.8h.8v.8h-.8zM82.3 424.1h.8v.8h-.8zM87.3 461.8h.8v.8h-.8zM122.2 419.4h.8v.8h-.8zM87.1 434.3h.8v.8h-.8zM106.1 412.3h.8v.8h-.8zM87.8 454.4h.8v.8h-.8zM80.0 387.4h.8v.8h-.8zM81.1 420.1h.8v.8h-.8zM89.1 431.6h.8v.8h-.8zM77.1 454.3h.8v.8h-.8zM55.4 451.9h.8v.8h-.8zM56.7 441.3h.8v.8h-.8zM101.5 415.4h.8v.8h-.8zM85.3 423.7h.8v.8h-.8zM110.9 414.9h.8v.8h-.8zM76.7 454.3h.8v.8h-.8zM110.0 439.6h.8v.8h-.8zM87.4 447.2h.8v.8h-.8zM77.6 464.1h.8v.8h-.8zM106.6 413.6h.8v.8h-.8zM57.8 460.3h.8v.8h-.8zM56.1 426.8h.8v.8h-.8zM66.1 421.5h.8v.8h-.8zM57.6 451.4h.8v.8h-.8zM50.5 464.5h.8v.8h-.8zM78.7 456.0h.8v.8h-.8zM89.0 447.9h.8v.8h-.8zM58.2 444.0h.8v.8h-.8zM107.2 441.1h.8v.8h-.8zM54.0 448.8h.8v.8h-.8zM82.0 422.8h.8v.8h-.8zM49.6 463.6h.8v.8h-.8zM51.9 430.1h.8v.8h-.8zM106.2 404.0h.8v.8h-.8zM66.1 455.4h.8v.8h-.8zM71.7 393.9h.8v.8h-.8zM96.7 423.1h.8v.8h-.8zM83.5 459.7h.8v.8h-.8zM88.5 425.3h.8v.8h-.8zM89.8 436.5h.8v.8h-.8zM94.5 448.7h.8v.8h-.8zM87.3 393.4h.8v.8h-.8zM65.3 459.7h.8v.8h-.8zM78.7 460.3h.8v.8h-.8zM84.6 463.6h.8v.8h-.8zM51.3 449.0h.8v.8h-.8zM49.0 445.1h.8v.8h-.8zM105.7 411.6h.8v.8h-.8zM62.3 451.8h.8v.8h-.8zM89.6 440.7h.8v.8h-.8zM106.8 406.0h.8v.8h-.8zM57.1 438.9h.8v.8h-.8zM82.1 457.8h.8v.8h-.8zM69.4 454.0h.8v.8h-.8zM56.7 447.4h.8v.8h-.8zM97.3 449.1h.8v.8h-.8zM66.1 423.9h.8v.8h-.8zM77.0 423.5h.8v.8h-.8zM88.5 430.6h.8v.8h-.8zM99.3 453.1h.8v.8h-.8zM115.5 424.8h.8v.8h-.8zM75.6 394.7h.8v.8h-.8zM64.3 456.8h.8v.8h-.8zM71.0 464.4h.8v.8h-.8zM116.4 420.6h.8v.8h-.8zM109.5 411.8h.8v.8h-.8zM67.2 456.1h.8v.8h-.8zM111.7 433.5h.8v.8h-.8zM88.5 429.0h.8v.8h-.8zM92.4 451.5h.8v.8h-.8zM71.6 459.1h.8v.8h-.8zM86.0 404.5h.8v.8h-.8zM81.6 396.1h.8v.8h-.8zM74.2 454.3h.8v.8h-.8zM53.4 440.4h.8v.8h-.8zM87.1 436.9h.8v.8h-.8zM51.5 460.7h.8v.8h-.8zM65.6 422.4h.8v.8h-.8zM89.1 436.3h.8v.8h-.8zM77.9 423.8h.8v.8h-.8zM55.0 457.3h.8v.8h-.8zM87.3 435.4h.8v.8h-.8zM77.3 467.5h.8v.8h-.8zM55.1 450.8h.8v.8h-.8zM75.4 462.7h.8v.8h-.8zM91.2 432.8h.8v.8h-.8zM89.4 427.2h.8v.8h-.8zM90.5 435.1h.8v.8h-.8zM103.7 450.0h.8v.8h-.8zM120.5 431.4h.8v.8h-.8zM69.7 460.2h.8v.8h-.8zM100.3 414.9h.8v.8h-.8zM109.4 438.9h.8v.8h-.8zM88.6 420.1h.8v.8h-.8zM97.5 429.4h.8v.8h-.8zM98.1 447.1h.8v.8h-.8zM103.5 413.4h.8v.8h-.8zM75.4 386.4h.8v.8h-.8zM55.7 427.4h.8v.8h-.8zM87.1 435.3h.8v.8h-.8zM61.6 462.5h.8v.8h-.8zM58.8 451.8h.8v.8h-.8zM69.6 423.0h.8v.8h-.8zM81.1 416.7h.8v.8h-.8zM89.5 450.7h.8v.8h-.8zM54.7 448.1h.8v.8h-.8zM116.3 434.1h.8v.8h-.8zM45.9 439.6h.8v.8h-.8zM66.6 423.3h.8v.8h-.8zM111.1 410.2h.8v.8h-.8zM97.7 417.6h.8v.8h-.8zM79.2 406.1h.8v.8h-.8zM90.1 433.2h.8v.8h-.8zM80.1 420.6h.8v.8h-.8zM84.2 437.0h.8v.8h-.8zM88.5 441.1h.8v.8h-.8zM86.5 432.7h.8v.8h-.8zM87.0 433.9h.8v.8h-.8zM103.2 444.7h.8v.8h-.8zM56.7 442.9h.8v.8h-.8zM92.5 459.4h.8v.8h-.8zM92.9 453.9h.8v.8h-.8zM113.4 434.9h.8v.8h-.8zM55.2 430.2h.8v.8h-.8zM110.2 410.7h.8v.8h-.8zM66.8 464.0h.8v.8h-.8zM104.3 445.3h.8v.8h-.8zM87.1 401.9h.8v.8h-.8zM100.1 448.3h.8v.8h-.8zM81.8 426.8h.8v.8h-.8zM57.0 456.2h.8v.8h-.8zM61.6 453.9h.8v.8h-.8zM83.8 392.7h.8v.8h-.8zM61.4 466.0h.8v.8h-.8zM92.4 385.3h.8v.8h-.8zM109.8 415.2h.8v.8h-.8zM59.5 446.6h.8v.8h-.8zM100.2 446.2h.8v.8h-.8zM55.8 433.0h.8v.8h-.8zM109.9 465.8h.8v.8h-.8zM87.0 433.1h.8v.8h-.8zM74.9 422.2h.8v.8h-.8zM105.4 397.5h.8v.8h-.8zM50.5 438.4h.8v.8h-.8zM108.6 405.7h.8v.8h-.8zM66.2 421.6h.8v.8h-.8zM55.3 442.2h.8v.8h-.8zM90.5 451.8h.8v.8h-.8zM45.4 458.3h.8v.8h-.8zM99.8 416.2h.8v.8h-.8zM83.4 449.4h.8v.8h-.8zM96.5 412.9h.8v.8h-.8zM89.8 464.2h.8v.8h-.8zM88.2 418.2h.8v.8h-.8zM101.6 455.8h.8v.8h-.8zM71.3 459.3h.8v.8h-.8zM72.8 467.5h.8v.8h-.8zM83.5 390.7h.8v.8h-.8zM87.8 437.9h.8v.8h-.8zM95.8 451.6h.8v.8h-.8zM91.8 432.9h.8v.8h-.8zM71.2 414.5h.8v.8h-.8zM61.4 462.2h.8v.8h-.8zM84.7 449.6h.8v.8h-.8zM56.1 456.8h.8v.8h-.8zM93.9 413.8h.8v.8h-.8zM94.7 374.2h.8v.8h-.8zM86.4 398.1h.8v.8h-.8zM97.6 450.0h.8v.8h-.8zM87.9 447.6h.8v.8h-.8zM108.5 439.9h.8v.8h-.8zM81.8 420.1h.8v.8h-.8zM111.2 434.6h.8v.8h-.8zM93.2 433.0h.8v.8h-.8zM84.6 425.7h.8v.8h-.8zM91.0 418.1h.8v.8h-.8zM49.6 459.2h.8v.8h-.8zM111.4 419.5h.8v.8h-.8zM81.7 439.3h.8v.8h-.8zM111.6 438.5h.8v.8h-.8zM115.8 432.7h.8v.8h-.8zM83.8 449.2h.8v.8h-.8zM83.7 423.0h.8v.8h-.8zM57.0 443.0h.8v.8h-.8zM96.9 453.0h.8v.8h-.8zM110.6 418.4h.8v.8h-.8zM56.6 390.4h.8v.8h-.8zM65.1 455.9h.8v.8h-.8zM64.4 455.1h.8v.8h-.8zM60.2 454.2h.8v.8h-.8zM113.1 419.8h.8v.8h-.8zM61.9 450.7h.8v.8h-.8zM90.1 436.8h.8v.8h-.8zM85.4 443.4h.8v.8h-.8zM113.3 419.5h.8v.8h-.8zM75.8 449.8h.8v.8h-.8zM108.6 439.2h.8v.8h-.8zM118.8 376.1h.8v.8h-.8zM68.6 459.7h.8v.8h-.8zM78.8 456.4h.8v.8h-.8zM74.9 420.3h.8v.8h-.8zM99.6 415.8h.8v.8h-.8zM49.7 424.9h.8v.8h-.8zM101.4 445.5h.8v.8h-.8zM72.6 419.1h.8v.8h-.8zM76.3 461.6h.8v.8h-.8zM88.9 430.2h.8v.8h-.8zM80.4 459.5h.8v.8h-.8zM91.3 445.4h.8v.8h-.8zM87.0 455.9h.8v.8h-.8zM57.2 455.4h.8v.8h-.8zM109.7 416.0h.8v.8h-.8zM87.6 425.3h.8v.8h-.8zM113.6 424.1h.8v.8h-.8zM94.1 420.5h.8v.8h-.8zM85.4 463.9h.8v.8h-.8zM95.7 441.7h.8v.8h-.8zM77.4 446.6h.8v.8h-.8zM58.3 459.4h.8v.8h-.8zM71.1 421.5h.8v.8h-.8zM75.1 457.5h.8v.8h-.8zM49.6 440.8h.8v.8h-.8zM96.4 415.6h.8v.8h-.8zM85.1 391.4h.8v.8h-.8zM116.6 410.4h.8v.8h-.8zM114.0 429.3h.8v.8h-.8zM54.6 454.9h.8v.8h-.8zM47.5 461.0h.8v.8h-.8zM52.8 465.9h.8v.8h-.8zM76.1 457.6h.8v.8h-.8zM89.0 455.8h.8v.8h-.8zM78.8 421.4h.8v.8h-.8zM88.5 423.1h.8v.8h-.8zM87.1 436.3h.8v.8h-.8zM78.8 460.1h.8v.8h-.8zM66.4 453.1h.8v.8h-.8zM53.0 439.4h.8v.8h-.8zM67.4 422.4h.8v.8h-.8zM87.9 437.3h.8v.8h-.8zM97.2 448.2h.8v.8h-.8zM91.7 399.4h.8v.8h-.8zM86.3 430.6h.8v.8h-.8zM85.9 454.2h.8v.8h-.8zM82.3 451.1h.8v.8h-.8zM81.2 392.7h.8v.8h-.8zM87.1 453.7h.8v.8h-.8zM112.2 435.5h.8v.8h-.8zM109.7 412.4h.8v.8h-.8zM93.1 464.4h.8v.8h-.8zM59.0 429.1h.8v.8h-.8zM59.7 428.7h.8v.8h-.8zM104.1 444.5h.8v.8h-.8zM118.6 424.8h.8v.8h-.8zM61.3 419.0h.8v.8h-.8zM79.2 401.8h.8v.8h-.8zM91.9 442.6h.8v.8h-.8zM58.8 462.4h.8v.8h-.8zM92.6 394.2h.8v.8h-.8zM60.0 453.3h.8v.8h-.8zM53.9 450.7h.8v.8h-.8zM69.7 420.5h.8v.8h-.8zM73.6 393.9h.8v.8h-.8zM91.3 421.6h.8v.8h-.8zM99.4 416.5h.8v.8h-.8zM94.6 463.0h.8v.8h-.8zM73.2 420.6h.8v.8h-.8zM86.5 441.2h.8v.8h-.8zM99.6 395.9h.8v.8h-.8zM87.2 394.9h.8v.8h-.8zM97.3 446.8h.8v.8h-.8zM71.3 415.3h.8v.8h-.8zM57.9 427.5h.8v.8h-.8zM84.5 449.3h.8v.8h-.8zM78.4 420.7h.8v.8h-.8zM114.8 431.9h.8v.8h-.8zM82.4 387.6h.8v.8h-.8zM84.4 441.4h.8v.8h-.8zM78.9 422.5h.8v.8h-.8zM52.8 459.8h.8v.8h-.8zM102.0 378.3h.8v.8h-.8zM87.9 452.7h.8v.8h-.8zM65.3 419.8h.8v.8h-.8zM84.4 449.4h.8v.8h-.8zM89.3 444.9h.8v.8h-.8zM58.7 429.3h.8v.8h-.8zM83.4 427.1h.8v.8h-.8zM92.9 457.6h.8v.8h-.8zM90.7 450.1h.8v.8h-.8zM121.5 425.4h.8v.8h-.8zM87.9 463.3h.8v.8h-.8zM83.3 453.8h.8v.8h-.8zM89.7 436.4h.8v.8h-.8zM63.8 420.4h.8v.8h-.8zM75.4 456.0h.8v.8h-.8zM113.4 428.5h.8v.8h-.8zM87.2 451.2h.8v.8h-.8zM95.0 414.5h.8v.8h-.8zM117.7 422.3h.8v.8h-.8zM77.1 454.7h.8v.8h-.8zM78.6 386.6h.8v.8h-.8zM96.4 459.6h.8v.8h-.8zM80.8 424.8h.8v.8h-.8zM75.8 457.8h.8v.8h-.8zM83.5 429.4h.8v.8h-.8zM111.6 459.6h.8v.8h-.8zM97.1 428.1h.8v.8h-.8zM84.1 455.9h.8v.8h-.8zM83.0 451.3h.8v.8h-.8zM58.7 428.0h.8v.8h-.8zM88.7 389.2h.8v.8h-.8zM95.7 391.1h.8v.8h-.8zM92.2 447.0h.8v.8h-.8zM75.1 460.6h.8v.8h-.8zM93.0 421.2h.8v.8h-.8zM58.3 425.0h.8v.8h-.8zM76.7 464.0h.8v.8h-.8zM92.0 445.4h.8v.8h-.8zM78.7 432.0h.8v.8h-.8zM56.7 420.6h.8v.8h-.8zM84.6 428.9h.8v.8h-.8zM103.9 444.8h.8v.8h-.8zM87.2 443.2h.8v.8h-.8zM50.8 451.1h.8v.8h-.8zM97.2 448.0h.8v.8h-.8zM104.0 409.0h.8v.8h-.8zM79.0 465.9h.8v.8h-.8zM89.0 421.5h.8v.8h-.8zM84.7 420.6h.8v.8h-.8zM98.4 453.1h.8v.8h-.8zM100.0 382.4h.8v.8h-.8zM117.3 419.5h.8v.8h-.8zM76.3 392.1h.8v.8h-.8zM48.7 451.9h.8v.8h-.8zM80.5 464.7h.8v.8h-.8zM98.8 416.6h.8v.8h-.8zM87.1 424.3h.8v.8h-.8zM86.6 446.0h.8v.8h-.8zM88.5 435.3h.8v.8h-.8zM113.3 463.5h.8v.8h-.8zM85.7 430.3h.8v.8h-.8zM86.4 428.4h.8v.8h-.8zM88.3 426.6h.8v.8h-.8zM69.0 456.7h.8v.8h-.8zM57.2 435.7h.8v.8h-.8zM48.9 440.1h.8v.8h-.8zM45.5 430.3h.8v.8h-.8zM106.1 446.9h.8v.8h-.8zM64.6 418.8h.8v.8h-.8zM90.2 397.3h.8v.8h-.8zM52.7 446.2h.8v.8h-.8zM118.7 419.1h.8v.8h-.8zM113.3 408.5h.8v.8h-.8zM93.9 461.5h.8v.8h-.8zM88.5 441.8h.8v.8h-.8zM113.5 433.9h.8v.8h-.8zM97.8 452.5h.8v.8h-.8zM50.4 448.1h.8v.8h-.8zM113.5 425.2h.8v.8h-.8zM63.4 463.8h.8v.8h-.8zM101.5 447.3h.8v.8h-.8zM81.6 413.5h.8v.8h-.8zM60.0 459.7h.8v.8h-.8zM92.6 422.7h.8v.8h-.8zM91.6 441.0h.8v.8h-.8zM93.5 449.9h.8v.8h-.8zM113.6 426.1h.8v.8h-.8zM95.1 449.5h.8v.8h-.8zM113.3 410.1h.8v.8h-.8zM114.4 427.3h.8v.8h-.8zM85.4 423.1h.8v.8h-.8zM98.2 464.8h.8v.8h-.8zM51.1 443.1h.8v.8h-.8zM65.5 421.9h.8v.8h-.8zM53.7 430.4h.8v.8h-.8zM98.9 415.8h.8v.8h-.8zM82.1 456.0h.8v.8h-.8zM84.5 453.1h.8v.8h-.8zM76.6 455.3h.8v.8h-.8zM55.7 462.2h.8v.8h-.8zM77.4 399.5h.8v.8h-.8zM87.9 447.9h.8v.8h-.8zM93.5 442.2h.8v.8h-.8zM106.6 443.5h.8v.8h-.8zM86.2 431.2h.8v.8h-.8zM114.3 427.8h.8v.8h-.8zM75.5 458.3h.8v.8h-.8zM83.6 458.8h.8v.8h-.8zM57.2 437.2h.8v.8h-.8zM98.4 396.6h.8v.8h-.8zM65.3 387.1h.8v.8h-.8zM91.4 381.7h.8v.8h-.8zM93.5 439.4h.8v.8h-.8zM81.4 454.6h.8v.8h-.8zM82.8 389.6h.8v.8h-.8zM63.3 417.2h.8v.8h-.8zM53.6 443.1h.8v.8h-.8zM58.2 461.5h.8v.8h-.8zM107.7 412.2h.8v.8h-.8zM85.5 464.1h.8v.8h-.8zM57.6 441.4h.8v.8h-.8zM56.8 449.0h.8v.8h-.8zM57.2 414.0h.8v.8h-.8zM51.8 441.9h.8v.8h-.8zM81.0 454.8h.8v.8h-.8zM94.8 454.8h.8v.8h-.8zM78.3 405.0h.8v.8h-.8zM113.8 426.8h.8v.8h-.8zM108.1 414.8h.8v.8h-.8zM91.0 446.4h.8v.8h-.8zM94.9 432.5h.8v.8h-.8zM78.6 417.7h.8v.8h-.8zM95.2 437.5h.8v.8h-.8zM57.2 445.4h.8v.8h-.8zM97.9 429.0h.8v.8h-.8zM106.3 441.7h.8v.8h-.8zM104.1 410.5h.8v.8h-.8zM57.7 448.4h.8v.8h-.8zM77.5 410.5h.8v.8h-.8zM65.8 422.2h.8v.8h-.8zM74.2 459.6h.8v.8h-.8zM70.6 419.4h.8v.8h-.8zM106.7 464.7h.8v.8h-.8zM78.4 454.0h.8v.8h-.8zM99.3 430.7h.8v.8h-.8zM48.0 467.2h.8v.8h-.8zM93.5 419.5h.8v.8h-.8zM73.3 393.1h.8v.8h-.8zM83.5 453.2h.8v.8h-.8zM116.9 431.2h.8v.8h-.8zM91.6 448.6h.8v.8h-.8zM74.1 391.3h.8v.8h-.8zM52.9 438.6h.8v.8h-.8zM77.0 454.8h.8v.8h-.8zM110.5 412.0h.8v.8h-.8zM49.4 456.6h.8v.8h-.8zM53.1 456.5h.8v.8h-.8zM103.9 387.4h.8v.8h-.8zM58.6 445.3h.8v.8h-.8zM87.0 440.5h.8v.8h-.8zM86.4 439.8h.8v.8h-.8zM64.8 416.7h.8v.8h-.8zM70.0 456.1h.8v.8h-.8zM56.8 431.7h.8v.8h-.8zM88.0 447.7h.8v.8h-.8zM69.4 419.8h.8v.8h-.8zM89.7 441.6h.8v.8h-.8zM99.8 393.1h.8v.8h-.8zM95.8 442.8h.8v.8h-.8zM76.8 409.3h.8v.8h-.8zM100.7 412.8h.8v.8h-.8zM97.2 432.8h.8v.8h-.8zM62.0 425.5h.8v.8h-.8zM94.8 453.5h.8v.8h-.8zM74.1 465.5h.8v.8h-.8zM69.4 457.9h.8v.8h-.8zM86.8 454.7h.8v.8h-.8zM91.2 396.2h.8v.8h-.8zM82.2 445.5h.8v.8h-.8zM57.4 445.5h.8v.8h-.8zM57.9 441.8h.8v.8h-.8zM75.8 460.3h.8v.8h-.8zM94.6 465.9h.8v.8h-.8zM79.5 424.0h.8v.8h-.8zM54.8 438.6h.8v.8h-.8zM79.9 454.3h.8v.8h-.8zM100.4 416.1h.8v.8h-.8zM106.3 447.8h.8v.8h-.8zM77.4 418.6h.8v.8h-.8zM59.5 461.6h.8v.8h-.8zM117.8 419.6h.8v.8h-.8zM124.5 415.2h.8v.8h-.8zM57.4 457.5h.8v.8h-.8zM60.9 427.1h.8v.8h-.8zM88.6 429.1h.8v.8h-.8zM109.0 385.3h.8v.8h-.8zM113.8 434.4h.8v.8h-.8zM52.6 433.8h.8v.8h-.8zM56.9 445.8h.8v.8h-.8zM80.4 390.5h.8v.8h-.8zM84.2 449.1h.8v.8h-.8zM64.4 416.5h.8v.8h-.8zM76.2 388.5h.8v.8h-.8zM72.7 455.8h.8v.8h-.8zM80.5 461.4h.8v.8h-.8zM74.2 456.9h.8v.8h-.8zM85.9 437.9h.8v.8h-.8zM64.5 423.8h.8v.8h-.8zM66.1 455.1h.8v.8h-.8zM109.9 441.0h.8v.8h-.8zM108.7 447.4h.8v.8h-.8zM108.9 416.5h.8v.8h-.8zM55.2 437.2h.8v.8h-.8zM61.1 456.1h.8v.8h-.8zM90.4 423.9h.8v.8h-.8zM60.5 425.4h.8v.8h-.8zM104.4 459.7h.8v.8h-.8zM99.3 438.4h.8v.8h-.8zM114.5 420.1h.8v.8h-.8zM75.6 452.2h.8v.8h-.8zM84.2 441.6h.8v.8h-.8zM56.8 437.6h.8v.8h-.8zM85.0 402.9h.8v.8h-.8zM72.0 455.2h.8v.8h-.8zM63.1 464.4h.8v.8h-.8zM106.5 413.0h.8v.8h-.8zM89.3 448.6h.8v.8h-.8zM73.4 460.6h.8v.8h-.8zM84.4 462.3h.8v.8h-.8zM54.3 435.8h.8v.8h-.8zM91.5 423.3h.8v.8h-.8zM114.0 435.3h.8v.8h-.8zM81.8 419.9h.8v.8h-.8zM87.4 463.3h.8v.8h-.8zM95.8 423.8h.8v.8h-.8zM87.1 458.3h.8v.8h-.8zM57.1 462.5h.8v.8h-.8zM81.1 424.9h.8v.8h-.8zM75.9 384.2h.8v.8h-.8zM61.2 464.3h.8v.8h-.8zM111.8 434.6h.8v.8h-.8zM109.3 416.4h.8v.8h-.8zM100.8 449.3h.8v.8h-.8zM111.8 418.7h.8v.8h-.8zM77.9 386.7h.8v.8h-.8zM56.8 436.6h.8v.8h-.8zM58.2 428.0h.8v.8h-.8zM106.1 412.8h.8v.8h-.8zM61.8 456.1h.8v.8h-.8zM89.0 439.8h.8v.8h-.8zM92.5 462.0h.8v.8h-.8zM94.3 462.7h.8v.8h-.8zM88.2 425.7h.8v.8h-.8zM82.0 462.2h.8v.8h-.8zM87.1 444.2h.8v.8h-.8zM73.9 421.3h.8v.8h-.8zM87.9 461.4h.8v.8h-.8zM54.8 454.3h.8v.8h-.8zM91.9 447.5h.8v.8h-.8zM47.5 439.7h.8v.8h-.8zM105.1 446.4h.8v.8h-.8zM82.2 459.0h.8v.8h-.8zM85.8 449.3h.8v.8h-.8zM62.9 459.3h.8v.8h-.8zM93.2 444.3h.8v.8h-.8zM105.9 404.3h.8v.8h-.8zM103.3 454.6h.8v.8h-.8zM73.5 390.2h.8v.8h-.8zM118.8 427.5h.8v.8h-.8zM77.1 467.0h.8v.8h-.8zM114.0 458.1h.8v.8h-.8zM58.0 431.9h.8v.8h-.8zM111.6 420.0h.8v.8h-.8zM78.6 399.1h.8v.8h-.8zM75.1 449.9h.8v.8h-.8zM107.2 441.7h.8v.8h-.8zM64.5 456.8h.8v.8h-.8zM58.6 430.5h.8v.8h-.8zM92.1 451.8h.8v.8h-.8zM73.4 410.2h.8v.8h-.8zM54.7 435.3h.8v.8h-.8zM94.1 447.4h.8v.8h-.8zM59.4 429.8h.8v.8h-.8zM110.4 438.1h.8v.8h-.8zM98.9 392.0h.8v.8h-.8zM89.9 445.9h.8v.8h-.8zM113.2 448.0h.8v.8h-.8zM92.5 462.0h.8v.8h-.8zM68.3 416.0h.8v.8h-.8zM54.7 422.4h.8v.8h-.8zM62.3 460.0h.8v.8h-.8zM62.7 450.0h.8v.8h-.8zM65.4 392.5h.8v.8h-.8zM63.1 461.9h.8v.8h-.8zM112.6 417.5h.8v.8h-.8zM67.9 383.8h.8v.8h-.8zM87.5 450.7h.8v.8h-.8zM105.1 405.9h.8v.8h-.8zM66.2 456.8h.8v.8h-.8zM50.4 433.7h.8v.8h-.8zM102.2 445.6h.8v.8h-.8zM94.6 448.5h.8v.8h-.8zM98.3 463.1h.8v.8h-.8zM66.6 423.0h.8v.8h-.8zM63.3 453.9h.8v.8h-.8zM85.8 450.7h.8v.8h-.8zM77.6 419.9h.8v.8h-.8zM94.1 417.4h.8v.8h-.8zM88.1 466.7h.8v.8h-.8zM57.0 438.2h.8v.8h-.8zM77.3 455.4h.8v.8h-.8zM87.5 445.5h.8v.8h-.8zM99.7 455.3h.8v.8h-.8zM82.1 419.9h.8v.8h-.8zM85.1 435.2h.8v.8h-.8zM117.5 407.0h.8v.8h-.8zM54.6 437.7h.8v.8h-.8zM113.2 429.3h.8v.8h-.8zM89.9 392.3h.8v.8h-.8zM90.0 423.6h.8v.8h-.8zM100.9 387.8h.8v.8h-.8zM77.1 385.9h.8v.8h-.8zM94.5 447.4h.8v.8h-.8zM74.8 465.5h.8v.8h-.8zM113.1 433.5h.8v.8h-.8zM55.0 430.0h.8v.8h-.8zM93.4 439.2h.8v.8h-.8zM63.5 452.3h.8v.8h-.8zM102.5 459.1h.8v.8h-.8zM70.2 459.5h.8v.8h-.8zM86.9 430.4h.8v.8h-.8zM63.2 419.3h.8v.8h-.8zM66.3 456.7h.8v.8h-.8zM60.7 454.6h.8v.8h-.8zM81.0 394.9h.8v.8h-.8zM98.8 465.0h.8v.8h-.8zM88.9 405.1h.8v.8h-.8zM84.7 424.9h.8v.8h-.8zM78.2 457.4h.8v.8h-.8zM67.7 454.8h.8v.8h-.8zM57.1 435.5h.8v.8h-.8zM115.5 435.1h.8v.8h-.8zM51.9 434.1h.8v.8h-.8zM80.2 419.4h.8v.8h-.8zM72.8 422.5h.8v.8h-.8zM97.5 448.8h.8v.8h-.8zM114.9 426.4h.8v.8h-.8zM62.6 450.4h.8v.8h-.8zM59.6 447.4h.8v.8h-.8zM116.8 427.7h.8v.8h-.8zM61.2 422.1h.8v.8h-.8zM114.1 413.8h.8v.8h-.8zM81.1 464.5h.8v.8h-.8zM92.2 450.8h.8v.8h-.8zM108.5 413.4h.8v.8h-.8zM98.7 442.5h.8v.8h-.8zM92.3 447.5h.8v.8h-.8zM81.8 460.6h.8v.8h-.8zM87.6 382.8h.8v.8h-.8zM84.7 431.9h.8v.8h-.8zM97.6 454.2h.8v.8h-.8zM62.5 458.2h.8v.8h-.8zM90.3 427.1h.8v.8h-.8zM67.8 452.2h.8v.8h-.8zM60.9 449.9h.8v.8h-.8zM90.3 459.2h.8v.8h-.8zM100.9 450.7h.8v.8h-.8zM50.4 455.6h.8v.8h-.8zM79.9 393.8h.8v.8h-.8zM87.5 450.0h.8v.8h-.8zM69.5 419.6h.8v.8h-.8zM80.4 398.0h.8v.8h-.8zM50.7 432.4h.8v.8h-.8zM111.9 437.0h.8v.8h-.8zM101.6 415.2h.8v.8h-.8zM73.7 463.3h.8v.8h-.8zM57.0 445.8h.8v.8h-.8zM106.3 414.9h.8v.8h-.8zM76.0 420.7h.8v.8h-.8zM73.1 422.1h.8v.8h-.8zM80.5 454.9h.8v.8h-.8zM73.8 422.3h.8v.8h-.8zM55.5 436.4h.8v.8h-.8zM92.0 421.1h.8v.8h-.8zM63.2 420.5h.8v.8h-.8zM53.8 429.2h.8v.8h-.8zM95.3 452.2h.8v.8h-.8zM80.1 423.9h.8v.8h-.8zM109.9 425.5h.8v.8h-.8zM80.0 391.7h.8v.8h-.8zM78.1 401.8h.8v.8h-.8zM73.4 420.6h.8v.8h-.8zM95.0 384.8h.8v.8h-.8zM57.6 427.4h.8v.8h-.8zM81.7 423.5h.8v.8h-.8zM77.6 383.7h.8v.8h-.8zM83.7 456.2h.8v.8h-.8zM84.8 394.0h.8v.8h-.8zM84.9 452.1h.8v.8h-.8zM85.8 427.9h.8v.8h-.8zM79.6 423.7h.8v.8h-.8zM82.7 408.6h.8v.8h-.8zM88.7 441.3h.8v.8h-.8zM113.2 438.1h.8v.8h-.8zM59.1 424.7h.8v.8h-.8zM56.3 424.3h.8v.8h-.8zM91.3 446.8h.8v.8h-.8zM63.6 423.2h.8v.8h-.8zM66.6 423.3h.8v.8h-.8zM53.0 448.6h.8v.8h-.8zM49.6 454.1h.8v.8h-.8zM91.3 452.9h.8v.8h-.8zM90.4 450.7h.8v.8h-.8zM84.4 419.0h.8v.8h-.8zM57.5 443.9h.8v.8h-.8zM55.8 427.9h.8v.8h-.8zM90.4 455.7h.8v.8h-.8zM87.0 459.4h.8v.8h-.8zM97.7 438.2h.8v.8h-.8zM45.3 453.7h.8v.8h-.8zM73.6 465.2h.8v.8h-.8zM109.4 453.7h.8v.8h-.8zM90.5 401.2h.8v.8h-.8zM60.3 428.2h.8v.8h-.8zM73.5 467.1h.8v.8h-.8zM111.6 410.0h.8v.8h-.8zM75.5 463.6h.8v.8h-.8zM104.6 412.5h.8v.8h-.8zM64.8 422.1h.8v.8h-.8zM67.4 419.4h.8v.8h-.8zM58.6 427.8h.8v.8h-.8zM104.1 404.9h.8v.8h-.8zM97.9 450.6h.8v.8h-.8zM74.0 422.6h.8v.8h-.8zM111.0 439.7h.8v.8h-.8zM66.1 453.7h.8v.8h-.8zM85.4 435.6h.8v.8h-.8zM64.2 414.2h.8v.8h-.8zM81.1 456.0h.8v.8h-.8zM73.4 457.8h.8v.8h-.8zM54.5 455.4h.8v.8h-.8zM84.1 458.8h.8v.8h-.8zM89.7 427.8h.8v.8h-.8zM88.1 435.9h.8v.8h-.8zM99.7 395.4h.8v.8h-.8zM93.4 415.9h.8v.8h-.8zM83.9 395.6h.8v.8h-.8zM88.7 444.3h.8v.8h-.8zM73.7 455.2h.8v.8h-.8zM107.0 441.1h.8v.8h-.8zM101.1 450.8h.8v.8h-.8zM61.1 451.7h.8v.8h-.8zM102.9 448.1h.8v.8h-.8zM49.2 448.7h.8v.8h-.8zM95.9 448.0h.8v.8h-.8zM54.6 422.3h.8v.8h-.8zM84.7 425.3h.8v.8h-.8zM87.6 428.0h.8v.8h-.8zM113.6 424.7h.8v.8h-.8zM69.6 459.8h.8v.8h-.8zM112.0 443.4h.8v.8h-.8zM89.5 423.7h.8v.8h-.8zM116.6 440.1h.8v.8h-.8zM87.8 435.8h.8v.8h-.8zM98.6 410.7h.8v.8h-.8zM71.9 465.5h.8v.8h-.8zM88.9 430.4h.8v.8h-.8zM55.1 435.1h.8v.8h-.8zM67.7 456.6h.8v.8h-.8zM91.9 423.5h.8v.8h-.8zM57.8 435.1h.8v.8h-.8zM87.1 465.2h.8v.8h-.8zM81.4 453.2h.8v.8h-.8zM83.6 403.5h.8v.8h-.8zM74.3 421.5h.8v.8h-.8zM48.2 463.0h.8v.8h-.8zM89.5 449.0h.8v.8h-.8zM79.5 457.0h.8v.8h-.8zM77.7 454.5h.8v.8h-.8zM98.8 424.9h.8v.8h-.8zM108.7 438.9h.8v.8h-.8zM90.3 421.8h.8v.8h-.8zM91.0 427.6h.8v.8h-.8zM101.6 414.2h.8v.8h-.8zM105.2 444.1h.8v.8h-.8zM81.6 422.1h.8v.8h-.8zM95.7 406.6h.8v.8h-.8zM90.3 423.2h.8v.8h-.8zM82.3 440.9h.8v.8h-.8zM84.7 421.0h.8v.8h-.8zM107.7 440.2h.8v.8h-.8zM50.7 430.4h.8v.8h-.8zM96.1 428.2h.8v.8h-.8zM68.2 456.7h.8v.8h-.8zM76.6 388.2h.8v.8h-.8zM104.6 447.3h.8v.8h-.8zM102.2 445.2h.8v.8h-.8zM54.2 427.1h.8v.8h-.8zM68.7 464.8h.8v.8h-.8zM104.0 386.6h.8v.8h-.8zM74.1 395.2h.8v.8h-.8zM57.5 444.6h.8v.8h-.8zM63.5 423.5h.8v.8h-.8zM62.5 451.0h.8v.8h-.8zM48.5 456.1h.8v.8h-.8zM98.8 455.6h.8v.8h-.8zM83.7 427.3h.8v.8h-.8zM88.8 435.7h.8v.8h-.8zM106.9 408.5h.8v.8h-.8zM82.5 436.6h.8v.8h-.8zM90.0 391.2h.8v.8h-.8zM55.0 442.8h.8v.8h-.8zM100.6 399.4h.8v.8h-.8zM67.6 453.8h.8v.8h-.8zM56.5 438.6h.8v.8h-.8zM102.5 406.8h.8v.8h-.8zM111.2 436.4h.8v.8h-.8zM57.6 437.5h.8v.8h-.8zM63.8 457.8h.8v.8h-.8zM65.7 418.4h.8v.8h-.8zM86.9 432.1h.8v.8h-.8zM68.0 455.1h.8v.8h-.8zM111.8 437.7h.8v.8h-.8zM73.0 465.7h.8v.8h-.8zM51.7 462.3h.8v.8h-.8zM68.5 420.3h.8v.8h-.8zM61.8 457.8h.8v.8h-.8zM59.2 455.7h.8v.8h-.8zM108.4 443.7h.8v.8h-.8zM62.3 463.0h.8v.8h-.8zM65.0 394.0h.8v.8h-.8zM65.7 455.6h.8v.8h-.8zM89.1 425.5h.8v.8h-.8zM60.0 428.3h.8v.8h-.8zM62.1 452.3h.8v.8h-.8zM58.8 446.3h.8v.8h-.8zM88.5 432.0h.8v.8h-.8zM98.5 447.1h.8v.8h-.8zM62.0 410.6h.8v.8h-.8zM91.7 436.3h.8v.8h-.8zM89.6 418.6h.8v.8h-.8zM108.5 441.9h.8v.8h-.8zM60.8 423.1h.8v.8h-.8zM88.5 382.9h.8v.8h-.8zM55.7 444.1h.8v.8h-.8zM64.8 451.7h.8v.8h-.8zM110.2 413.2h.8v.8h-.8zM80.3 452.1h.8v.8h-.8zM51.5 439.0h.8v.8h-.8zM94.7 414.8h.8v.8h-.8zM76.8 462.1h.8v.8h-.8zM63.2 417.9h.8v.8h-.8zM71.2 452.6h.8v.8h-.8zM96.7 390.8h.8v.8h-.8zM79.3 463.0h.8v.8h-.8zM115.3 428.5h.8v.8h-.8zM53.3 447.0h.8v.8h-.8zM76.5 421.7h.8v.8h-.8zM65.0 457.8h.8v.8h-.8zM91.6 463.0h.8v.8h-.8zM86.4 437.3h.8v.8h-.8zM54.9 440.9h.8v.8h-.8zM91.2 444.7h.8v.8h-.8zM98.6 413.1h.8v.8h-.8zM101.1 411.4h.8v.8h-.8zM82.6 438.7h.8v.8h-.8zM97.1 412.7h.8v.8h-.8zM89.2 413.0h.8v.8h-.8zM68.8 417.1h.8v.8h-.8zM56.1 464.2h.8v.8h-.8zM86.9 442.4h.8v.8h-.8zM55.5 438.7h.8v.8h-.8zM124.7 418.7h.8v.8h-.8zM112.4 434.2h.8v.8h-.8zM101.9 458.0h.8v.8h-.8zM94.3 453.9h.8v.8h-.8zM95.8 436.9h.8v.8h-.8zM114.1 427.2h.8v.8h-.8zM75.5 385.3h.8v.8h-.8zM130.3 381.3h.8v.8h-.8zM61.4 461.6h.8v.8h-.8zM91.2 420.9h.8v.8h-.8zM76.8 458.3h.8v.8h-.8zM65.9 458.4h.8v.8h-.8zM114.9 423.8h.8v.8h-.8zM102.0 446.0h.8v.8h-.8zM53.0 439.9h.8v.8h-.8zM88.1 427.2h.8v.8h-.8zM66.7 465.1h.8v.8h-.8zM55.2 428.5h.8v.8h-.8zM104.6 461.9h.8v.8h-.8zM115.9 424.5h.8v.8h-.8zM93.4 465.4h.8v.8h-.8zM94.2 451.0h.8v.8h-.8zM70.2 421.6h.8v.8h-.8zM96.3 451.6h.8v.8h-.8zM98.7 392.7h.8v.8h-.8zM70.2 422.2h.8v.8h-.8zM82.7 450.3h.8v.8h-.8zM69.9 455.9h.8v.8h-.8zM93.4 453.4h.8v.8h-.8zM87.9 443.0h.8v.8h-.8zM85.6 447.5h.8v.8h-.8zM86.6 433.1h.8v.8h-.8zM62.4 453.3h.8v.8h-.8zM98.2 392.2h.8v.8h-.8zM110.8 415.3h.8v.8h-.8zM105.5 449.3h.8v.8h-.8zM96.7 397.0h.8v.8h-.8zM116.2 428.0h.8v.8h-.8zM52.6 442.4h.8v.8h-.8zM95.4 439.4h.8v.8h-.8zM68.0 419.3h.8v.8h-.8zM61.6 454.4h.8v.8h-.8zM114.9 440.5h.8v.8h-.8zM93.2 422.0h.8v.8h-.8zM63.9 460.8h.8v.8h-.8zM55.6 438.4h.8v.8h-.8zM78.6 465.7h.8v.8h-.8zM93.6 444.4h.8v.8h-.8zM60.5 419.1h.8v.8h-.8zM82.4 453.5h.8v.8h-.8zM66.0 423.6h.8v.8h-.8zM83.4 393.1h.8v.8h-.8zM109.0 442.9h.8v.8h-.8zM98.9 427.5h.8v.8h-.8zM88.7 396.1h.8v.8h-.8zM110.8 442.6h.8v.8h-.8zM87.1 449.0h.8v.8h-.8zM66.1 455.1h.8v.8h-.8zM81.5 462.3h.8v.8h-.8zM93.1 437.9h.8v.8h-.8zM85.2 433.1h.8v.8h-.8zM59.9 462.6h.8v.8h-.8zM118.3 435.4h.8v.8h-.8zM86.5 440.5h.8v.8h-.8zM99.1 453.5h.8v.8h-.8zM88.4 429.9h.8v.8h-.8zM104.0 445.0h.8v.8h-.8zM76.0 420.5h.8v.8h-.8zM91.0 431.7h.8v.8h-.8zM60.2 428.8h.8v.8h-.8zM60.9 424.0h.8v.8h-.8zM76.8 418.5h.8v.8h-.8zM74.6 456.2h.8v.8h-.8zM79.3 389.0h.8v.8h-.8zM85.5 448.1h.8v.8h-.8zM91.3 446.3h.8v.8h-.8zM69.1 454.9h.8v.8h-.8zM79.6 456.7h.8v.8h-.8zM90.4 394.6h.8v.8h-.8zM56.2 440.2h.8v.8h-.8zM85.5 430.6h.8v.8h-.8zM68.5 375.8h.8v.8h-.8zM82.6 463.1h.8v.8h-.8zM83.8 390.7h.8v.8h-.8zM77.8 449.9h.8v.8h-.8zM57.3 433.2h.8v.8h-.8zM62.1 455.6h.8v.8h-.8zM109.1 410.9h.8v.8h-.8zM88.9 435.2h.8v.8h-.8zM102.6 451.3h.8v.8h-.8zM82.0 420.4h.8v.8h-.8zM70.8 456.7h.8v.8h-.8zM87.7 433.1h.8v.8h-.8zM56.0 435.5h.8v.8h-.8zM57.1 440.7h.8v.8h-.8zM72.7 421.0h.8v.8h-.8zM61.2 463.3h.8v.8h-.8zM84.2 443.4h.8v.8h-.8zM79.8 415.8h.8v.8h-.8zM116.8 430.9h.8v.8h-.8zM117.8 403.2h.8v.8h-.8zM74.5 438.7h.8v.8h-.8zM103.5 450.5h.8v.8h-.8zM63.8 453.3h.8v.8h-.8zM73.0 456.3h.8v.8h-.8zM91.8 418.8h.8v.8h-.8zM81.4 436.3h.8v.8h-.8zM57.4 444.1h.8v.8h-.8zM89.2 448.8h.8v.8h-.8zM47.1 438.5h.8v.8h-.8zM85.2 426.2h.8v.8h-.8zM81.9 453.4h.8v.8h-.8zM109.2 438.8h.8v.8h-.8zM81.4 455.3h.8v.8h-.8zM80.2 453.2h.8v.8h-.8zM73.0 459.0h.8v.8h-.8zM65.9 424.0h.8v.8h-.8zM81.2 465.9h.8v.8h-.8zM85.6 423.5h.8v.8h-.8zM106.3 441.6h.8v.8h-.8zM52.1 421.7h.8v.8h-.8zM92.5 456.2h.8v.8h-.8zM102.3 451.1h.8v.8h-.8zM63.9 455.0h.8v.8h-.8zM88.1 457.9h.8v.8h-.8zM112.8 445.2h.8v.8h-.8zM89.8 438.3h.8v.8h-.8zM81.3 425.4h.8v.8h-.8zM114.1 417.8h.8v.8h-.8zM75.3 414.4h.8v.8h-.8zM57.2 434.7h.8v.8h-.8zM50.8 432.3h.8v.8h-.8zM57.0 381.1h.8v.8h-.8zM106.2 412.8h.8v.8h-.8zM67.0 454.1h.8v.8h-.8zM103.7 414.3h.8v.8h-.8zM95.1 414.0h.8v.8h-.8zM107.5 442.9h.8v.8h-.8zM80.5 458.6h.8v.8h-.8zM61.0 466.2h.8v.8h-.8zM95.6 382.5h.8v.8h-.8zM88.6 425.0h.8v.8h-.8zM105.8 462.7h.8v.8h-.8zM78.7 386.5h.8v.8h-.8zM53.4 453.4h.8v.8h-.8zM68.7 423.0h.8v.8h-.8zM118.1 430.4h.8v.8h-.8zM53.3 428.5h.8v.8h-.8zM76.5 396.3h.8v.8h-.8zM90.9 434.2h.8v.8h-.8zM107.2 440.7h.8v.8h-.8zM79.9 455.0h.8v.8h-.8zM56.9 438.8h.8v.8h-.8zM77.6 463.8h.8v.8h-.8zM54.7 442.6h.8v.8h-.8zM89.6 459.8h.8v.8h-.8zM92.1 452.8h.8v.8h-.8zM90.8 450.5h.8v.8h-.8zM49.6 445.6h.8v.8h-.8zM85.2 387.3h.8v.8h-.8zM84.2 425.8h.8v.8h-.8zM78.7 393.2h.8v.8h-.8zM89.3 452.0h.8v.8h-.8zM58.4 458.0h.8v.8h-.8zM62.2 456.0h.8v.8h-.8zM77.8 416.9h.8v.8h-.8zM88.0 422.3h.8v.8h-.8zM88.4 388.2h.8v.8h-.8zM73.9 386.5h.8v.8h-.8zM78.9 394.7h.8v.8h-.8zM90.6 389.2h.8v.8h-.8zM58.3 449.6h.8v.8h-.8zM80.2 446.6h.8v.8h-.8zM53.9 455.9h.8v.8h-.8zM86.3 453.4h.8v.8h-.8zM51.0 420.8h.8v.8h-.8zM68.8 418.2h.8v.8h-.8zM79.7 453.4h.8v.8h-.8zM90.9 431.8h.8v.8h-.8zM91.7 449.3h.8v.8h-.8zM66.0 466.2h.8v.8h-.8zM104.5 408.6h.8v.8h-.8zM99.2 448.0h.8v.8h-.8zM71.8 460.1h.8v.8h-.8zM95.2 426.8h.8v.8h-.8zM82.5 465.7h.8v.8h-.8zM52.1 465.2h.8v.8h-.8zM57.8 424.9h.8v.8h-.8zM81.3 456.5h.8v.8h-.8zM63.6 425.2h.8v.8h-.8zM112.7 425.0h.8v.8h-.8zM68.2 459.3h.8v.8h-.8zM49.5 424.4h.8v.8h-.8zM119.8 424.8h.8v.8h-.8zM88.3 446.3h.8v.8h-.8zM91.8 441.4h.8v.8h-.8zM84.9 397.5h.8v.8h-.8zM130.6 407.0h.8v.8h-.8zM89.0 423.0h.8v.8h-.8zM94.3 451.5h.8v.8h-.8zM86.3 435.9h.8v.8h-.8zM59.7 423.2h.8v.8h-.8zM77.4 464.9h.8v.8h-.8zM79.9 461.1h.8v.8h-.8zM90.3 387.3h.8v.8h-.8zM104.2 445.5h.8v.8h-.8zM94.9 435.1h.8v.8h-.8zM96.2 462.4h.8v.8h-.8zM77.2 390.0h.8v.8h-.8zM112.4 438.5h.8v.8h-.8zM60.2 454.8h.8v.8h-.8zM100.2 411.2h.8v.8h-.8zM86.7 444.1h.8v.8h-.8zM85.1 448.2h.8v.8h-.8zM56.9 457.3h.8v.8h-.8zM93.1 398.3h.8v.8h-.8zM103.1 453.6h.8v.8h-.8zM89.9 456.1h.8v.8h-.8zM90.8 392.4h.8v.8h-.8zM67.7 456.1h.8v.8h-.8zM61.1 424.7h.8v.8h-.8zM82.6 417.3h.8v.8h-.8zM65.1 452.7h.8v.8h-.8zM54.7 438.2h.8v.8h-.8zM57.2 451.7h.8v.8h-.8zM93.7 434.0h.8v.8h-.8zM86.3 461.9h.8v.8h-.8zM57.6 449.8h.8v.8h-.8zM87.3 420.3h.8v.8h-.8zM58.2 428.5h.8v.8h-.8zM62.3 463.6h.8v.8h-.8zM94.6 448.2h.8v.8h-.8zM86.9 465.9h.8v.8h-.8zM80.9 466.3h.8v.8h-.8zM84.0 451.9h.8v.8h-.8zM70.3 454.8h.8v.8h-.8zM92.6 390.9h.8v.8h-.8zM64.5 452.6h.8v.8h-.8zM101.3 410.8h.8v.8h-.8zM65.3 453.8h.8v.8h-.8zM54.8 427.8h.8v.8h-.8zM83.4 458.3h.8v.8h-.8zM64.9 380.4h.8v.8h-.8zM93.5 385.3h.8v.8h-.8zM89.3 429.6h.8v.8h-.8zM80.5 423.7h.8v.8h-.8zM67.2 456.9h.8v.8h-.8zM69.5 419.7h.8v.8h-.8zM118.2 425.3h.8v.8h-.8zM90.0 454.9h.8v.8h-.8zM112.4 418.9h.8v.8h-.8zM87.8 457.9h.8v.8h-.8zM66.6 460.3h.8v.8h-.8zM89.0 393.5h.8v.8h-.8zM86.6 435.9h.8v.8h-.8zM95.7 446.0h.8v.8h-.8zM104.6 466.4h.8v.8h-.8zM56.8 442.2h.8v.8h-.8zM95.1 448.0h.8v.8h-.8zM114.8 413.2h.8v.8h-.8zM56.8 441.7h.8v.8h-.8zM57.3 436.9h.8v.8h-.8zM53.7 435.0h.8v.8h-.8zM76.3 389.0h.8v.8h-.8zM87.1 430.1h.8v.8h-.8zM117.0 419.0h.8v.8h-.8zM61.2 455.2h.8v.8h-.8zM56.4 446.6h.8v.8h-.8zM50.0 433.2h.8v.8h-.8zM49.1 466.4h.8v.8h-.8zM95.3 461.1h.8v.8h-.8zM58.0 451.6h.8v.8h-.8zM80.3 393.1h.8v.8h-.8zM69.1 412.8h.8v.8h-.8zM99.6 448.3h.8v.8h-.8zM76.4 463.0h.8v.8h-.8zM59.9 413.7h.8v.8h-.8zM55.6 442.9h.8v.8h-.8zM78.8 463.1h.8v.8h-.8zM94.1 449.2h.8v.8h-.8zM86.5 436.2h.8v.8h-.8zM53.2 442.2h.8v.8h-.8zM107.6 441.7h.8v.8h-.8zM110.7 435.3h.8v.8h-.8zM81.3 393.9h.8v.8h-.8zM92.2 442.8h.8v.8h-.8zM111.6 432.7h.8v.8h-.8zM110.6 416.0h.8v.8h-.8zM118.3 423.2h.8v.8h-.8zM78.3 421.0h.8v.8h-.8zM107.7 441.0h.8v.8h-.8zM83.2 422.4h.8v.8h-.8zM57.6 441.6h.8v.8h-.8zM92.6 421.5h.8v.8h-.8zM89.5 464.7h.8v.8h-.8zM58.3 445.6h.8v.8h-.8zM112.2 432.4h.8v.8h-.8zM89.0 459.5h.8v.8h-.8zM116.4 415.9h.8v.8h-.8zM87.5 429.9h.8v.8h-.8zM114.9 411.4h.8v.8h-.8zM86.6 451.2h.8v.8h-.8zM56.8 435.7h.8v.8h-.8zM56.5 459.4h.8v.8h-.8zM57.2 461.7h.8v.8h-.8zM83.6 451.4h.8v.8h-.8zM101.8 410.4h.8v.8h-.8zM89.1 448.5h.8v.8h-.8zM51.5 432.6h.8v.8h-.8zM83.1 460.1h.8v.8h-.8zM121.9 404.1h.8v.8h-.8zM66.3 458.3h.8v.8h-.8zM62.8 458.0h.8v.8h-.8zM93.4 432.5h.8v.8h-.8zM97.3 429.9h.8v.8h-.8zM76.3 422.6h.8v.8h-.8zM73.7 458.9h.8v.8h-.8zM81.0 452.6h.8v.8h-.8zM89.2 438.5h.8v.8h-.8zM79.6 440.8h.8v.8h-.8zM116.9 424.2h.8v.8h-.8zM93.6 455.2h.8v.8h-.8zM87.4 461.2h.8v.8h-.8zM103.2 414.6h.8v.8h-.8zM69.6 455.9h.8v.8h-.8zM74.0 456.5h.8v.8h-.8zM106.5 451.3h.8v.8h-.8zM87.7 436.3h.8v.8h-.8zM114.7 425.8h.8v.8h-.8zM74.2 421.6h.8v.8h-.8zM64.5 458.8h.8v.8h-.8zM102.3 411.3h.8v.8h-.8zM115.6 415.9h.8v.8h-.8zM106.9 463.6h.8v.8h-.8zM78.5 419.0h.8v.8h-.8zM48.5 435.0h.8v.8h-.8zM87.2 393.2h.8v.8h-.8zM115.0 426.1h.8v.8h-.8zM76.3 389.1h.8v.8h-.8zM93.6 389.6h.8v.8h-.8zM105.8 443.0h.8v.8h-.8zM86.2 453.4h.8v.8h-.8zM111.8 410.2h.8v.8h-.8zM67.4 422.5h.8v.8h-.8zM103.4 413.6h.8v.8h-.8zM88.4 425.6h.8v.8h-.8zM79.8 390.1h.8v.8h-.8zM87.3 442.2h.8v.8h-.8zM112.9 422.1h.8v.8h-.8zM81.6 425.5h.8v.8h-.8zM90.5 425.2h.8v.8h-.8zM55.6 432.1h.8v.8h-.8zM67.4 455.4h.8v.8h-.8zM56.9 435.1h.8v.8h-.8zM94.2 420.4h.8v.8h-.8zM99.6 387.7h.8v.8h-.8zM60.9 424.1h.8v.8h-.8zM113.4 435.7h.8v.8h-.8zM59.6 422.0h.8v.8h-.8zM78.2 459.2h.8v.8h-.8zM84.3 454.5h.8v.8h-.8zM95.3 447.4h.8v.8h-.8zM90.4 396.7h.8v.8h-.8zM112.6 426.2h.8v.8h-.8zM57.7 434.1h.8v.8h-.8zM61.6 421.4h.8v.8h-.8zM107.9 445.8h.8v.8h-.8zM96.4 414.0h.8v.8h-.8zM108.1 409.8h.8v.8h-.8zM93.8 435.7h.8v.8h-.8zM118.9 429.2h.8v.8h-.8zM114.4 422.4h.8v.8h-.8zM53.1 447.2h.8v.8h-.8zM47.9 428.9h.8v.8h-.8zM69.6 456.3h.8v.8h-.8zM78.5 397.4h.8v.8h-.8zM104.8 403.9h.8v.8h-.8zM65.0 424.3h.8v.8h-.8zM83.5 449.4h.8v.8h-.8zM92.7 422.1h.8v.8h-.8zM107.4 414.5h.8v.8h-.8zM88.4 446.1h.8v.8h-.8zM66.4 453.6h.8v.8h-.8zM97.8 444.5h.8v.8h-.8zM77.4 422.6h.8v.8h-.8zM96.1 418.6h.8v.8h-.8zM101.4 388.4h.8v.8h-.8zM90.7 398.0h.8v.8h-.8zM104.5 446.0h.8v.8h-.8zM78.4 399.9h.8v.8h-.8zM101.9 410.8h.8v.8h-.8zM86.6 433.7h.8v.8h-.8zM62.0 424.9h.8v.8h-.8zM86.5 442.5h.8v.8h-.8zM53.7 446.3h.8v.8h-.8zM55.2 453.6h.8v.8h-.8zM86.7 427.5h.8v.8h-.8zM112.9 436.5h.8v.8h-.8zM97.0 386.7h.8v.8h-.8zM97.9 385.0h.8v.8h-.8zM80.3 453.3h.8v.8h-.8zM118.1 411.0h.8v.8h-.8zM63.7 456.7h.8v.8h-.8zM51.0 435.8h.8v.8h-.8zM86.8 438.9h.8v.8h-.8zM93.7 456.9h.8v.8h-.8zM51.7 446.6h.8v.8h-.8zM67.7 455.4h.8v.8h-.8zM52.6 440.4h.8v.8h-.8zM51.1 434.4h.8v.8h-.8zM90.2 389.5h.8v.8h-.8zM90.0 391.8h.8v.8h-.8zM78.3 454.7h.8v.8h-.8zM79.7 454.7h.8v.8h-.8zM73.6 462.1h.8v.8h-.8zM59.5 462.5h.8v.8h-.8zM104.7 414.0h.8v.8h-.8zM77.5 460.1h.8v.8h-.8zM56.9 435.1h.8v.8h-.8zM91.7 394.9h.8v.8h-.8zM114.0 433.1h.8v.8h-.8zM75.7 420.2h.8v.8h-.8zM87.4 421.7h.8v.8h-.8zM65.8 463.7h.8v.8h-.8zM73.1 391.0h.8v.8h-.8zM112.2 429.6h.8v.8h-.8zM102.4 415.2h.8v.8h-.8zM54.6 459.7h.8v.8h-.8zM80.2 420.3h.8v.8h-.8zM62.0 462.8h.8v.8h-.8zM96.2 447.6h.8v.8h-.8zM81.1 387.5h.8v.8h-.8zM82.6 415.6h.8v.8h-.8zM61.7 464.3h.8v.8h-.8zM90.0 449.0h.8v.8h-.8zM88.8 444.2h.8v.8h-.8zM61.0 424.7h.8v.8h-.8zM75.2 456.4h.8v.8h-.8zM83.7 427.3h.8v.8h-.8zM121.1 421.2h.8v.8h-.8zM109.5 444.1h.8v.8h-.8zM48.6 429.6h.8v.8h-.8zM58.6 453.5h.8v.8h-.8zM85.8 436.7h.8v.8h-.8zM64.5 423.2h.8v.8h-.8zM77.0 463.3h.8v.8h-.8zM87.5 450.2h.8v.8h-.8zM89.0 453.2h.8v.8h-.8zM57.5 428.6h.8v.8h-.8zM53.5 439.2h.8v.8h-.8zM74.0 381.2h.8v.8h-.8zM86.5 435.9h.8v.8h-.8zM95.5 418.5h.8v.8h-.8zM94.1 452.9h.8v.8h-.8zM53.8 444.4h.8v.8h-.8zM90.9 423.0h.8v.8h-.8zM111.3 435.9h.8v.8h-.8zM97.1 452.3h.8v.8h-.8zM63.0 392.0h.8v.8h-.8zM81.8 434.6h.8v.8h-.8zM80.3 461.4h.8v.8h-.8zM57.3 429.2h.8v.8h-.8zM98.9 447.4h.8v.8h-.8zM106.6 410.4h.8v.8h-.8zM85.3 429.4h.8v.8h-.8zM79.3 402.1h.8v.8h-.8zM46.2 448.4h.8v.8h-.8zM75.7 460.9h.8v.8h-.8zM87.3 446.8h.8v.8h-.8zM56.0 462.0h.8v.8h-.8zM88.5 442.9h.8v.8h-.8zM58.0 445.9h.8v.8h-.8zM102.0 414.8h.8v.8h-.8zM57.9 443.5h.8v.8h-.8zM84.7 422.4h.8v.8h-.8zM65.3 454.0h.8v.8h-.8zM120.1 432.4h.8v.8h-.8zM69.0 455.0h.8v.8h-.8zM95.5 416.8h.8v.8h-.8zM62.4 459.5h.8v.8h-.8zM83.6 445.8h.8v.8h-.8zM89.1 434.0h.8v.8h-.8zM57.6 428.6h.8v.8h-.8zM88.8 445.2h.8v.8h-.8zM80.9 420.7h.8v.8h-.8zM84.8 431.4h.8v.8h-.8zM83.8 421.1h.8v.8h-.8zM112.7 406.8h.8v.8h-.8zM110.9 438.7h.8v.8h-.8zM113.3 431.4h.8v.8h-.8zM97.1 408.4h.8v.8h-.8zM75.1 388.4h.8v.8h-.8zM88.9 455.9h.8v.8h-.8zM50.2 440.6h.8v.8h-.8zM77.0 395.0h.8v.8h-.8zM95.1 395.1h.8v.8h-.8zM82.6 425.4h.8v.8h-.8zM104.8 444.0h.8v.8h-.8zM86.6 448.5h.8v.8h-.8zM89.4 445.7h.8v.8h-.8zM73.1 454.4h.8v.8h-.8zM87.2 423.9h.8v.8h-.8zM78.3 455.4h.8v.8h-.8zM99.5 415.9h.8v.8h-.8zM94.5 438.8h.8v.8h-.8zM116.8 422.9h.8v.8h-.8zM57.6 461.2h.8v.8h-.8zM64.7 423.5h.8v.8h-.8zM54.8 461.9h.8v.8h-.8zM53.8 460.6h.8v.8h-.8zM88.9 446.5h.8v.8h-.8zM97.4 429.6h.8v.8h-.8zM82.2 452.1h.8v.8h-.8zM96.6 385.1h.8v.8h-.8zM80.6 454.3h.8v.8h-.8zM111.7 434.0h.8v.8h-.8zM95.4 419.3h.8v.8h-.8zM83.6 448.9h.8v.8h-.8zM95.3 448.6h.8v.8h-.8zM75.0 466.1h.8v.8h-.8zM75.3 458.2h.8v.8h-.8zM46.6 428.9h.8v.8h-.8zM85.4 426.5h.8v.8h-.8zM56.7 423.2h.8v.8h-.8zM80.8 457.5h.8v.8h-.8zM78.3 454.0h.8v.8h-.8zM88.1 387.2h.8v.8h-.8zM95.7 402.0h.8v.8h-.8zM97.5 446.2h.8v.8h-.8zM78.7 452.9h.8v.8h-.8zM90.6 435.4h.8v.8h-.8zM50.0 447.8h.8v.8h-.8zM70.5 420.0h.8v.8h-.8zM60.0 449.2h.8v.8h-.8zM90.7 418.8h.8v.8h-.8zM80.5 404.5h.8v.8h-.8zM53.6 435.3h.8v.8h-.8zM123.5 418.4h.8v.8h-.8zM89.1 438.6h.8v.8h-.8zM76.1 389.5h.8v.8h-.8zM107.9 440.5h.8v.8h-.8zM92.2 449.5h.8v.8h-.8zM100.0 446.3h.8v.8h-.8zM75.7 465.9h.8v.8h-.8zM82.8 459.5h.8v.8h-.8zM112.6 403.4h.8v.8h-.8zM62.8 455.4h.8v.8h-.8zM65.3 420.9h.8v.8h-.8zM99.2 448.2h.8v.8h-.8zM104.0 446.7h.8v.8h-.8zM92.6 420.9h.8v.8h-.8zM74.3 408.1h.8v.8h-.8zM62.5 454.1h.8v.8h-.8zM79.8 466.3h.8v.8h-.8zM87.6 460.0h.8v.8h-.8zM57.3 433.8h.8v.8h-.8zM84.1 427.6h.8v.8h-.8zM89.9 450.0h.8v.8h-.8zM66.9 464.1h.8v.8h-.8zM115.7 422.3h.8v.8h-.8zM95.5 385.9h.8v.8h-.8zM91.5 455.8h.8v.8h-.8zM112.9 424.3h.8v.8h-.8zM78.9 420.4h.8v.8h-.8zM112.3 432.2h.8v.8h-.8zM76.4 399.3h.8v.8h-.8zM93.9 420.3h.8v.8h-.8zM103.2 413.8h.8v.8h-.8zM103.1 450.8h.8v.8h-.8zM72.0 392.1h.8v.8h-.8zM56.4 452.7h.8v.8h-.8zM89.0 437.8h.8v.8h-.8zM87.8 431.0h.8v.8h-.8zM75.6 419.6h.8v.8h-.8zM72.8 389.6h.8v.8h-.8zM78.8 458.7h.8v.8h-.8zM83.8 425.3h.8v.8h-.8zM111.5 438.9h.8v.8h-.8zM95.1 465.9h.8v.8h-.8zM64.7 461.9h.8v.8h-.8zM96.9 379.3h.8v.8h-.8zM112.6 462.6h.8v.8h-.8zM106.4 414.8h.8v.8h-.8zM50.7 443.5h.8v.8h-.8zM50.0 456.0h.8v.8h-.8zM70.0 452.4h.8v.8h-.8zM106.0 414.5h.8v.8h-.8zM67.4 420.2h.8v.8h-.8zM89.6 457.5h.8v.8h-.8zM62.2 460.6h.8v.8h-.8zM92.4 418.5h.8v.8h-.8zM80.0 460.2h.8v.8h-.8zM55.0 439.0h.8v.8h-.8zM81.8 464.5h.8v.8h-.8zM88.8 426.4h.8v.8h-.8zM47.6 467.1h.8v.8h-.8zM112.2 437.3h.8v.8h-.8zM136.1 446.9h.8v.8h-.8zM63.1 425.9h.8v.8h-.8zM48.0 457.0h.8v.8h-.8zM45.5 432.6h.8v.8h-.8zM112.8 424.4h.8v.8h-.8zM87.1 431.2h.8v.8h-.8zM90.2 419.4h.8v.8h-.8zM87.2 448.3h.8v.8h-.8zM80.3 416.1h.8v.8h-.8zM60.8 452.6h.8v.8h-.8zM57.1 457.1h.8v.8h-.8zM84.7 450.0h.8v.8h-.8zM58.9 428.1h.8v.8h-.8zM75.2 421.9h.8v.8h-.8zM90.4 392.3h.8v.8h-.8zM96.1 414.8h.8v.8h-.8zM98.2 410.8h.8v.8h-.8zM74.9 417.2h.8v.8h-.8zM98.3 409.5h.8v.8h-.8zM87.6 426.5h.8v.8h-.8zM119.4 431.9h.8v.8h-.8zM100.3 412.2h.8v.8h-.8zM49.5 454.3h.8v.8h-.8zM92.3 382.3h.8v.8h-.8zM77.2 467.5h.8v.8h-.8zM84.5 425.1h.8v.8h-.8zM87.8 439.3h.8v.8h-.8zM68.3 462.2h.8v.8h-.8zM99.4 415.1h.8v.8h-.8zM71.7 463.1h.8v.8h-.8zM91.7 447.6h.8v.8h-.8zM83.4 423.9h.8v.8h-.8zM122.7 419.1h.8v.8h-.8zM87.0 447.7h.8v.8h-.8zM107.1 424.6h.8v.8h-.8zM73.8 417.5h.8v.8h-.8zM92.2 446.1h.8v.8h-.8zM57.0 444.5h.8v.8h-.8zM89.0 454.0h.8v.8h-.8zM89.1 451.3h.8v.8h-.8zM54.6 451.7h.8v.8h-.8zM72.7 461.2h.8v.8h-.8zM106.7 461.7h.8v.8h-.8zM110.0 445.9h.8v.8h-.8zM57.1 423.6h.8v.8h-.8zM59.5 451.1h.8v.8h-.8zM78.1 423.1h.8v.8h-.8zM74.2 418.9h.8v.8h-.8zM69.2 459.5h.8v.8h-.8zM91.3 393.6h.8v.8h-.8zM75.6 425.9h.8v.8h-.8zM58.9 446.3h.8v.8h-.8zM76.5 462.0h.8v.8h-.8zM59.5 452.0h.8v.8h-.8zM113.3 416.7h.8v.8h-.8zM98.5 447.6h.8v.8h-.8zM84.4 418.0h.8v.8h-.8zM105.9 455.2h.8v.8h-.8zM92.2 393.7h.8v.8h-.8zM93.7 391.0h.8v.8h-.8zM57.7 429.7h.8v.8h-.8zM73.2 455.6h.8v.8h-.8zM55.2 447.2h.8v.8h-.8zM60.4 457.2h.8v.8h-.8zM81.2 420.3h.8v.8h-.8zM79.2 387.9h.8v.8h-.8zM113.2 417.1h.8v.8h-.8zM49.6 448.9h.8v.8h-.8zM98.4 454.7h.8v.8h-.8zM74.2 395.0h.8v.8h-.8zM86.5 440.9h.8v.8h-.8zM82.7 425.7h.8v.8h-.8zM57.2 446.1h.8v.8h-.8zM51.9 437.6h.8v.8h-.8zM86.5 446.8h.8v.8h-.8zM85.5 459.6h.8v.8h-.8zM111.0 416.2h.8v.8h-.8zM73.3 457.8h.8v.8h-.8zM91.7 425.9h.8v.8h-.8zM113.6 422.9h.8v.8h-.8zM79.2 421.8h.8v.8h-.8zM92.0 422.3h.8v.8h-.8zM63.0 422.9h.8v.8h-.8zM56.5 455.1h.8v.8h-.8zM56.7 456.4h.8v.8h-.8zM57.0 435.7h.8v.8h-.8zM72.2 420.7h.8v.8h-.8zM57.2 461.4h.8v.8h-.8zM88.1 425.3h.8v.8h-.8zM74.1 421.6h.8v.8h-.8zM65.7 423.3h.8v.8h-.8zM107.8 443.8h.8v.8h-.8zM116.3 450.2h.8v.8h-.8zM84.0 432.7h.8v.8h-.8zM61.9 464.4h.8v.8h-.8zM86.3 433.2h.8v.8h-.8zM95.7 460.0h.8v.8h-.8zM107.0 411.5h.8v.8h-.8zM109.4 446.7h.8v.8h-.8zM66.8 415.7h.8v.8h-.8zM56.2 446.6h.8v.8h-.8zM75.6 420.1h.8v.8h-.8zM61.9 465.3h.8v.8h-.8zM91.6 446.6h.8v.8h-.8zM75.9 422.5h.8v.8h-.8zM93.1 417.5h.8v.8h-.8zM102.4 459.2h.8v.8h-.8zM69.1 395.2h.8v.8h-.8zM79.4 422.5h.8v.8h-.8zM91.7 459.4h.8v.8h-.8zM75.5 388.3h.8v.8h-.8zM59.7 428.5h.8v.8h-.8zM56.9 442.2h.8v.8h-.8zM57.6 434.6h.8v.8h-.8zM87.5 424.5h.8v.8h-.8zM108.1 406.7h.8v.8h-.8zM105.0 414.0h.8v.8h-.8zM76.6 454.8h.8v.8h-.8zM61.3 427.0h.8v.8h-.8zM107.3 404.8h.8v.8h-.8zM90.3 445.9h.8v.8h-.8zM86.6 438.1h.8v.8h-.8zM83.9 448.6h.8v.8h-.8zM88.0 453.5h.8v.8h-.8zM85.9 431.1h.8v.8h-.8zM57.0 430.6h.8v.8h-.8zM100.8 412.4h.8v.8h-.8zM99.9 448.5h.8v.8h-.8zM89.0 436.0h.8v.8h-.8zM96.6 431.6h.8v.8h-.8zM54.4 426.2h.8v.8h-.8zM65.6 423.8h.8v.8h-.8zM106.1 443.7h.8v.8h-.8zM60.3 457.9h.8v.8h-.8zM59.6 464.7h.8v.8h-.8zM88.4 435.5h.8v.8h-.8zM77.9 454.5h.8v.8h-.8zM54.1 459.9h.8v.8h-.8zM102.3 443.9h.8v.8h-.8zM73.8 462.5h.8v.8h-.8zM93.7 417.1h.8v.8h-.8zM89.0 427.4h.8v.8h-.8zM114.2 423.9h.8v.8h-.8zM46.8 457.8h.8v.8h-.8zM62.7 426.3h.8v.8h-.8zM113.3 415.7h.8v.8h-.8zM115.4 422.3h.8v.8h-.8zM78.5 455.8h.8v.8h-.8zM59.9 421.1h.8v.8h-.8zM59.6 456.6h.8v.8h-.8zM92.3 387.8h.8v.8h-.8zM93.7 421.5h.8v.8h-.8zM65.6 422.4h.8v.8h-.8zM54.9 431.2h.8v.8h-.8zM63.4 451.8h.8v.8h-.8zM60.2 449.5h.8v.8h-.8zM76.0 460.7h.8v.8h-.8zM90.3 392.3h.8v.8h-.8zM85.2 449.4h.8v.8h-.8zM108.4 464.5h.8v.8h-.8zM63.0 464.9h.8v.8h-.8zM51.7 429.8h.8v.8h-.8zM70.7 463.0h.8v.8h-.8zM92.0 440.5h.8v.8h-.8zM85.3 459.7h.8v.8h-.8zM109.1 438.3h.8v.8h-.8zM72.2 459.9h.8v.8h-.8zM99.9 448.0h.8v.8h-.8zM90.4 441.3h.8v.8h-.8zM76.0 421.5h.8v.8h-.8zM107.5 440.3h.8v.8h-.8zM88.0 430.6h.8v.8h-.8zM88.2 425.4h.8v.8h-.8zM80.4 387.6h.8v.8h-.8zM75.1 454.4h.8v.8h-.8zM100.7 408.8h.8v.8h-.8zM61.8 420.9h.8v.8h-.8zM53.3 434.8h.8v.8h-.8zM102.6 382.8h.8v.8h-.8zM50.3 380.3h.8v.8h-.8zM85.5 391.5h.8v.8h-.8zM112.4 432.3h.8v.8h-.8zM108.6 445.4h.8v.8h-.8zM111.3 408.6h.8v.8h-.8zM92.7 460.1h.8v.8h-.8zM59.0 464.6h.8v.8h-.8zM69.9 467.4h.8v.8h-.8zM84.7 425.8h.8v.8h-.8zM55.2 440.5h.8v.8h-.8zM103.0 411.6h.8v.8h-.8zM120.9 415.8h.8v.8h-.8zM94.9 435.7h.8v.8h-.8zM98.0 380.3h.8v.8h-.8zM63.7 398.7h.8v.8h-.8zM113.7 423.0h.8v.8h-.8zM48.9 451.9h.8v.8h-.8zM89.9 454.0h.8v.8h-.8zM75.0 391.7h.8v.8h-.8zM84.7 449.9h.8v.8h-.8zM71.3 461.0h.8v.8h-.8zM112.9 424.5h.8v.8h-.8zM79.9 393.9h.8v.8h-.8zM65.7 456.3h.8v.8h-.8zM95.5 425.9h.8v.8h-.8zM104.0 446.7h.8v.8h-.8zM61.4 421.5h.8v.8h-.8zM104.5 447.2h.8v.8h-.8zM88.8 426.5h.8v.8h-.8zM82.9 453.9h.8v.8h-.8zM65.6 411.4h.8v.8h-.8zM112.8 422.5h.8v.8h-.8zM86.9 452.4h.8v.8h-.8zM113.8 424.1h.8v.8h-.8zM100.1 451.3h.8v.8h-.8zM93.7 450.1h.8v.8h-.8zM113.1 428.4h.8v.8h-.8zM108.6 441.6h.8v.8h-.8zM92.0 447.2h.8v.8h-.8zM70.3 456.5h.8v.8h-.8zM58.0 435.0h.8v.8h-.8zM68.7 456.4h.8v.8h-.8zM62.9 456.1h.8v.8h-.8zM101.2 446.3h.8v.8h-.8zM74.1 456.8h.8v.8h-.8zM109.3 414.7h.8v.8h-.8zM67.0 457.9h.8v.8h-.8zM61.2 451.9h.8v.8h-.8zM91.6 424.6h.8v.8h-.8zM84.1 388.0h.8v.8h-.8zM83.2 444.9h.8v.8h-.8zM45.2 453.0h.8v.8h-.8zM56.8 436.0h.8v.8h-.8zM70.2 457.1h.8v.8h-.8zM98.7 415.0h.8v.8h-.8zM49.8 442.1h.8v.8h-.8zM94.4 451.3h.8v.8h-.8zM83.5 449.5h.8v.8h-.8zM64.5 454.2h.8v.8h-.8zM87.7 442.0h.8v.8h-.8zM88.4 443.0h.8v.8h-.8zM82.7 426.6h.8v.8h-.8zM98.1 439.1h.8v.8h-.8zM65.9 388.7h.8v.8h-.8zM65.2 397.4h.8v.8h-.8zM84.1 426.7h.8v.8h-.8zM121.7 419.1h.8v.8h-.8zM86.6 444.3h.8v.8h-.8zM84.3 437.4h.8v.8h-.8zM107.8 409.9h.8v.8h-.8zM111.9 431.5h.8v.8h-.8zM87.7 436.4h.8v.8h-.8zM58.0 432.8h.8v.8h-.8zM54.3 456.0h.8v.8h-.8zM66.3 417.8h.8v.8h-.8zM84.2 452.5h.8v.8h-.8zM84.7 448.6h.8v.8h-.8zM80.7 461.7h.8v.8h-.8zM52.8 435.7h.8v.8h-.8zM62.2 450.0h.8v.8h-.8zM108.4 411.4h.8v.8h-.8zM89.6 447.7h.8v.8h-.8zM85.7 434.7h.8v.8h-.8zM71.2 422.8h.8v.8h-.8zM68.0 455.6h.8v.8h-.8zM93.7 420.4h.8v.8h-.8zM55.2 449.6h.8v.8h-.8zM83.5 384.9h.8v.8h-.8zM75.9 384.7h.8v.8h-.8zM99.3 453.7h.8v.8h-.8zM54.9 436.4h.8v.8h-.8zM115.1 432.6h.8v.8h-.8zM63.4 460.6h.8v.8h-.8zM97.5 455.9h.8v.8h-.8zM67.3 420.8h.8v.8h-.8zM77.0 421.8h.8v.8h-.8zM65.1 458.5h.8v.8h-.8zM86.4 385.8h.8v.8h-.8zM57.3 461.9h.8v.8h-.8zM72.9 452.8h.8v.8h-.8zM100.5 454.2h.8v.8h-.8zM57.6 441.6h.8v.8h-.8zM122.1 433.0h.8v.8h-.8zM87.7 446.2h.8v.8h-.8zM84.1 426.1h.8v.8h-.8zM88.7 426.7h.8v.8h-.8zM47.7 465.0h.8v.8h-.8zM68.8 460.1h.8v.8h-.8zM71.0 456.5h.8v.8h-.8zM70.2 454.6h.8v.8h-.8zM97.8 452.3h.8v.8h-.8zM103.8 414.2h.8v.8h-.8zM94.8 450.7h.8v.8h-.8zM80.9 463.3h.8v.8h-.8zM60.1 457.2h.8v.8h-.8zM54.8 462.2h.8v.8h-.8zM97.2 463.7h.8v.8h-.8zM87.4 430.2h.8v.8h-.8zM58.7 449.6h.8v.8h-.8zM66.8 457.7h.8v.8h-.8zM91.6 446.3h.8v.8h-.8zM48.8 413.9h.8v.8h-.8zM78.1 456.0h.8v.8h-.8zM116.4 434.6h.8v.8h-.8zM122.4 465.2h.8v.8h-.8zM69.9 422.2h.8v.8h-.8zM63.2 423.9h.8v.8h-.8zM90.1 436.2h.8v.8h-.8zM92.5 422.6h.8v.8h-.8zM90.9 445.9h.8v.8h-.8zM90.0 439.3h.8v.8h-.8zM95.0 432.1h.8v.8h-.8zM81.1 419.5h.8v.8h-.8zM113.3 422.4h.8v.8h-.8zM88.4 435.2h.8v.8h-.8zM88.5 430.8h.8v.8h-.8zM108.3 415.6h.8v.8h-.8zM96.8 449.1h.8v.8h-.8zM65.8 451.7h.8v.8h-.8zM74.8 422.8h.8v.8h-.8zM70.8 417.4h.8v.8h-.8zM81.9 452.8h.8v.8h-.8zM54.9 435.5h.8v.8h-.8zM86.9 438.6h.8v.8h-.8zM88.8 441.6h.8v.8h-.8zM74.5 418.9h.8v.8h-.8zM120.4 379.5h.8v.8h-.8zM93.1 417.1h.8v.8h-.8zM116.4 424.3h.8v.8h-.8zM92.2 449.1h.8v.8h-.8zM111.7 433.6h.8v.8h-.8zM94.4 388.8h.8v.8h-.8zM78.5 391.0h.8v.8h-.8zM63.1 426.2h.8v.8h-.8zM57.4 432.9h.8v.8h-.8zM89.4 427.2h.8v.8h-.8zM91.1 436.4h.8v.8h-.8zM55.8 458.6h.8v.8h-.8zM112.2 449.1h.8v.8h-.8zM96.8 379.7h.8v.8h-.8zM103.1 412.5h.8v.8h-.8zM89.4 442.7h.8v.8h-.8zM58.9 424.3h.8v.8h-.8zM90.0 447.1h.8v.8h-.8zM46.6 375.3h.8v.8h-.8zM57.8 451.0h.8v.8h-.8zM88.9 440.3h.8v.8h-.8zM89.2 441.7h.8v.8h-.8zM79.6 399.0h.8v.8h-.8zM91.5 454.6h.8v.8h-.8zM89.1 442.2h.8v.8h-.8zM120.9 465.5h.8v.8h-.8zM92.6 447.7h.8v.8h-.8zM61.3 452.2h.8v.8h-.8zM92.0 435.0h.8v.8h-.8zM107.2 445.5h.8v.8h-.8zM102.6 412.5h.8v.8h-.8zM94.8 450.1h.8v.8h-.8zM54.0 433.5h.8v.8h-.8zM91.3 423.5h.8v.8h-.8zM58.1 430.9h.8v.8h-.8zM90.6 447.6h.8v.8h-.8zM86.8 424.4h.8v.8h-.8zM99.6 447.6h.8v.8h-.8zM57.2 446.8h.8v.8h-.8zM81.6 386.7h.8v.8h-.8zM87.1 450.4h.8v.8h-.8zM116.3 425.4h.8v.8h-.8zM48.4 428.9h.8v.8h-.8zM82.8 439.6h.8v.8h-.8zM67.2 419.0h.8v.8h-.8zM73.0 397.2h.8v.8h-.8zM90.3 387.9h.8v.8h-.8zM112.5 428.1h.8v.8h-.8zM113.9 436.6h.8v.8h-.8zM56.8 434.2h.8v.8h-.8zM97.4 415.1h.8v.8h-.8zM60.7 421.4h.8v.8h-.8zM71.6 463.6h.8v.8h-.8zM112.7 439.1h.8v.8h-.8zM65.3 423.1h.8v.8h-.8zM111.3 434.2h.8v.8h-.8zM71.1 460.0h.8v.8h-.8zM90.1 436.6h.8v.8h-.8zM116.1 420.2h.8v.8h-.8zM55.4 441.0h.8v.8h-.8zM73.2 457.1h.8v.8h-.8zM65.9 454.4h.8v.8h-.8zM86.2 448.9h.8v.8h-.8zM111.5 414.1h.8v.8h-.8zM113.5 424.5h.8v.8h-.8zM80.0 418.9h.8v.8h-.8zM60.9 454.5h.8v.8h-.8zM95.6 439.6h.8v.8h-.8zM64.9 422.2h.8v.8h-.8zM84.0 453.7h.8v.8h-.8zM53.3 423.7h.8v.8h-.8zM84.7 425.4h.8v.8h-.8zM56.9 435.0h.8v.8h-.8zM77.7 416.9h.8v.8h-.8zM74.9 374.8h.8v.8h-.8zM67.1 417.7h.8v.8h-.8zM52.3 438.1h.8v.8h-.8zM109.1 443.0h.8v.8h-.8zM73.3 422.4h.8v.8h-.8zM52.6 439.1h.8v.8h-.8zM109.1 413.1h.8v.8h-.8zM68.6 455.9h.8v.8h-.8zM60.2 454.5h.8v.8h-.8zM97.7 416.8h.8v.8h-.8zM88.6 433.7h.8v.8h-.8zM83.9 456.9h.8v.8h-.8zM63.5 424.2h.8v.8h-.8zM83.9 391.3h.8v.8h-.8zM84.3 393.9h.8v.8h-.8zM77.8 459.3h.8v.8h-.8zM100.7 450.3h.8v.8h-.8zM87.9 463.0h.8v.8h-.8zM86.2 459.2h.8v.8h-.8zM82.6 384.0h.8v.8h-.8zM45.1 458.6h.8v.8h-.8zM88.7 388.4h.8v.8h-.8zM67.0 399.7h.8v.8h-.8zM114.8 432.3h.8v.8h-.8zM105.7 447.5h.8v.8h-.8zM58.5 448.5h.8v.8h-.8zM94.4 427.8h.8v.8h-.8zM94.6 417.2h.8v.8h-.8zM96.8 416.3h.8v.8h-.8zM79.9 453.4h.8v.8h-.8zM54.0 455.4h.8v.8h-.8zM81.6 461.3h.8v.8h-.8zM62.2 453.1h.8v.8h-.8zM57.2 432.3h.8v.8h-.8zM94.4 448.3h.8v.8h-.8zM74.0 398.5h.8v.8h-.8zM103.2 396.4h.8v.8h-.8zM50.5 427.9h.8v.8h-.8zM93.0 452.3h.8v.8h-.8zM82.0 457.8h.8v.8h-.8zM54.7 422.5h.8v.8h-.8zM67.5 459.9h.8v.8h-.8zM112.3 414.4h.8v.8h-.8zM87.4 444.2h.8v.8h-.8zM76.1 437.0h.8v.8h-.8zM57.7 451.5h.8v.8h-.8zM85.6 447.6h.8v.8h-.8zM89.5 443.4h.8v.8h-.8zM89.5 424.6h.8v.8h-.8zM57.4 439.9h.8v.8h-.8zM57.1 438.9h.8v.8h-.8zM63.7 452.7h.8v.8h-.8zM64.3 453.3h.8v.8h-.8zM95.1 410.4h.8v.8h-.8zM51.7 425.9h.8v.8h-.8zM108.5 410.0h.8v.8h-.8zM90.7 437.0h.8v.8h-.8zM57.6 425.0h.8v.8h-.8zM88.5 388.0h.8v.8h-.8zM62.0 454.4h.8v.8h-.8zM74.3 457.3h.8v.8h-.8zM87.4 448.5h.8v.8h-.8zM82.5 398.3h.8v.8h-.8zM76.5 459.4h.8v.8h-.8zM87.0 427.1h.8v.8h-.8zM88.9 459.1h.8v.8h-.8zM82.8 460.4h.8v.8h-.8zM65.1 455.9h.8v.8h-.8zM68.3 418.9h.8v.8h-.8zM79.7 458.7h.8v.8h-.8zM63.7 464.9h.8v.8h-.8zM90.4 423.9h.8v.8h-.8zM68.0 458.0h.8v.8h-.8zM116.0 418.4h.8v.8h-.8zM100.9 390.5h.8v.8h-.8zM87.1 452.1h.8v.8h-.8zM57.5 445.8h.8v.8h-.8zM82.2 406.1h.8v.8h-.8zM93.0 465.9h.8v.8h-.8zM85.5 450.6h.8v.8h-.8zM91.8 446.4h.8v.8h-.8zM82.6 451.8h.8v.8h-.8zM53.6 433.3h.8v.8h-.8zM95.2 440.3h.8v.8h-.8zM64.6 452.4h.8v.8h-.8zM108.2 383.1h.8v.8h-.8zM100.4 407.2h.8v.8h-.8zM101.6 413.5h.8v.8h-.8zM83.8 455.5h.8v.8h-.8zM90.5 452.5h.8v.8h-.8zM70.1 415.3h.8v.8h-.8zM109.0 439.3h.8v.8h-.8zM95.4 452.4h.8v.8h-.8zM90.9 404.8h.8v.8h-.8zM96.2 388.1h.8v.8h-.8zM89.2 427.0h.8v.8h-.8zM106.7 409.5h.8v.8h-.8zM69.3 461.3h.8v.8h-.8zM103.0 412.1h.8v.8h-.8zM92.9 387.6h.8v.8h-.8zM85.9 454.8h.8v.8h-.8zM113.4 414.7h.8v.8h-.8zM112.4 435.8h.8v.8h-.8zM62.0 465.9h.8v.8h-.8zM83.2 429.9h.8v.8h-.8zM78.1 457.0h.8v.8h-.8zM60.0 426.7h.8v.8h-.8zM53.7 425.8h.8v.8h-.8zM86.0 396.8h.8v.8h-.8zM115.8 409.0h.8v.8h-.8zM83.5 386.4h.8v.8h-.8zM53.3 443.5h.8v.8h-.8zM70.2 464.7h.8v.8h-.8zM88.4 381.3h.8v.8h-.8zM88.4 390.1h.8v.8h-.8zM86.4 380.5h.8v.8h-.8zM82.3 455.9h.8v.8h-.8zM100.3 448.2h.8v.8h-.8zM99.8 415.3h.8v.8h-.8zM87.0 464.3h.8v.8h-.8zM50.7 437.2h.8v.8h-.8zM80.0 386.9h.8v.8h-.8zM55.1 415.9h.8v.8h-.8zM66.6 455.6h.8v.8h-.8zM68.9 440.2h.8v.8h-.8zM87.1 433.1h.8v.8h-.8zM60.7 466.8h.8v.8h-.8zM109.6 414.3h.8v.8h-.8zM91.4 442.9h.8v.8h-.8zM56.7 439.6h.8v.8h-.8zM87.5 422.7h.8v.8h-.8zM85.3 422.4h.8v.8h-.8zM93.9 416.5h.8v.8h-.8zM70.9 455.4h.8v.8h-.8zM114.4 430.1h.8v.8h-.8zM95.2 432.6h.8v.8h-.8zM45.1 464.3h.8v.8h-.8zM57.5 442.4h.8v.8h-.8zM54.5 440.6h.8v.8h-.8zM89.3 438.7h.8v.8h-.8zM86.3 431.3h.8v.8h-.8zM100.5 434.6h.8v.8h-.8zM54.2 438.1h.8v.8h-.8zM88.8 434.5h.8v.8h-.8zM89.7 427.2h.8v.8h-.8zM79.9 455.4h.8v.8h-.8zM73.0 463.4h.8v.8h-.8zM71.0 456.0h.8v.8h-.8zM89.5 441.7h.8v.8h-.8zM55.7 429.7h.8v.8h-.8zM65.5 456.7h.8v.8h-.8zM113.6 417.9h.8v.8h-.8zM112.5 404.8h.8v.8h-.8zM82.1 455.3h.8v.8h-.8zM93.8 409.9h.8v.8h-.8zM71.8 456.5h.8v.8h-.8zM114.7 420.1h.8v.8h-.8zM95.5 448.5h.8v.8h-.8zM65.8 462.0h.8v.8h-.8zM107.1 406.9h.8v.8h-.8zM89.0 398.3h.8v.8h-.8zM86.9 443.7h.8v.8h-.8zM95.6 390.1h.8v.8h-.8zM101.1 411.6h.8v.8h-.8zM76.8 455.5h.8v.8h-.8zM89.8 427.6h.8v.8h-.8zM113.6 435.2h.8v.8h-.8zM117.3 416.1h.8v.8h-.8zM116.9 423.3h.8v.8h-.8zM76.5 394.1h.8v.8h-.8zM64.9 389.0h.8v.8h-.8zM100.7 446.8h.8v.8h-.8zM110.6 461.8h.8v.8h-.8zM60.0 452.3h.8v.8h-.8zM59.2 454.5h.8v.8h-.8zM92.0 450.3h.8v.8h-.8zM109.8 410.9h.8v.8h-.8zM87.0 427.6h.8v.8h-.8zM78.0 454.3h.8v.8h-.8zM58.7 466.9h.8v.8h-.8zM57.0 447.5h.8v.8h-.8zM95.4 439.9h.8v.8h-.8zM116.5 416.5h.8v.8h-.8zM80.1 443.6h.8v.8h-.8zM90.2 444.2h.8v.8h-.8zM90.0 384.8h.8v.8h-.8zM106.9 412.1h.8v.8h-.8zM96.6 381.2h.8v.8h-.8zM86.4 401.4h.8v.8h-.8zM72.7 455.1h.8v.8h-.8zM88.7 384.5h.8v.8h-.8zM86.0 454.8h.8v.8h-.8zM84.4 464.3h.8v.8h-.8zM56.8 440.1h.8v.8h-.8zM86.3 450.2h.8v.8h-.8zM72.4 464.4h.8v.8h-.8zM91.4 446.4h.8v.8h-.8zM68.6 420.9h.8v.8h-.8zM89.0 441.0h.8v.8h-.8zM86.2 426.2h.8v.8h-.8zM75.9 454.8h.8v.8h-.8zM105.2 404.5h.8v.8h-.8zM72.0 419.0h.8v.8h-.8zM81.8 460.7h.8v.8h-.8zM115.2 437.5h.8v.8h-.8zM61.0 466.6h.8v.8h-.8zM106.5 449.8h.8v.8h-.8zM105.6 419.7h.8v.8h-.8zM58.5 420.5h.8v.8h-.8zM99.5 434.1h.8v.8h-.8zM59.9 428.6h.8v.8h-.8zM101.2 446.1h.8v.8h-.8zM66.5 461.1h.8v.8h-.8zM112.0 416.0h.8v.8h-.8zM89.9 443.0h.8v.8h-.8zM72.7 459.3h.8v.8h-.8zM79.0 463.0h.8v.8h-.8zM111.7 419.5h.8v.8h-.8zM89.3 442.4h.8v.8h-.8zM101.1 451.2h.8v.8h-.8zM73.9 418.4h.8v.8h-.8zM66.4 454.9h.8v.8h-.8zM105.9 414.0h.8v.8h-.8zM85.0 415.2h.8v.8h-.8zM99.0 449.6h.8v.8h-.8zM105.0 412.5h.8v.8h-.8zM48.2 450.8h.8v.8h-.8zM62.4 420.1h.8v.8h-.8zM95.0 410.7h.8v.8h-.8zM81.2 445.1h.8v.8h-.8zM60.7 427.4h.8v.8h-.8zM87.0 457.0h.8v.8h-.8zM111.6 434.3h.8v.8h-.8zM76.6 455.6h.8v.8h-.8zM103.1 450.4h.8v.8h-.8zM113.8 430.7h.8v.8h-.8zM87.4 431.2h.8v.8h-.8zM61.6 419.1h.8v.8h-.8zM122.5 461.6h.8v.8h-.8zM62.5 419.6h.8v.8h-.8zM85.1 447.4h.8v.8h-.8zM84.9 455.0h.8v.8h-.8zM68.6 388.7h.8v.8h-.8zM58.0 422.5h.8v.8h-.8zM84.4 442.1h.8v.8h-.8zM56.3 440.1h.8v.8h-.8zM112.6 419.1h.8v.8h-.8zM47.5 455.0h.8v.8h-.8zM64.2 424.9h.8v.8h-.8zM80.8 423.2h.8v.8h-.8zM106.1 452.7h.8v.8h-.8zM96.1 413.7h.8v.8h-.8zM90.9 425.7h.8v.8h-.8zM77.6 457.5h.8v.8h-.8zM112.5 432.5h.8v.8h-.8zM68.6 462.5h.8v.8h-.8zM105.2 413.6h.8v.8h-.8zM86.5 441.4h.8v.8h-.8zM87.8 457.4h.8v.8h-.8zM115.2 431.3h.8v.8h-.8zM59.4 448.0h.8v.8h-.8zM107.6 415.6h.8v.8h-.8zM82.8 423.9h.8v.8h-.8zM118.5 417.1h.8v.8h-.8zM107.5 449.8h.8v.8h-.8zM88.4 421.8h.8v.8h-.8zM51.3 431.6h.8v.8h-.8zM98.9 424.9h.8v.8h-.8zM61.1 427.9h.8v.8h-.8zM59.8 421.0h.8v.8h-.8zM49.6 428.2h.8v.8h-.8zM80.2 455.2h.8v.8h-.8zM98.0 431.4h.8v.8h-.8zM81.5 457.9h.8v.8h-.8zM77.3 453.1h.8v.8h-.8zM110.4 417.6h.8v.8h-.8zM114.3 435.8h.8v.8h-.8zM45.8 404.5h.8v.8h-.8zM91.0 432.0h.8v.8h-.8zM114.4 423.8h.8v.8h-.8zM83.6 429.4h.8v.8h-.8zM93.2 467.0h.8v.8h-.8zM75.7 458.1h.8v.8h-.8zM61.7 456.0h.8v.8h-.8zM87.2 456.4h.8v.8h-.8zM113.6 411.7h.8v.8h-.8zM94.2 424.0h.8v.8h-.8zM106.1 442.3h.8v.8h-.8zM114.9 423.3h.8v.8h-.8zM81.7 466.6h.8v.8h-.8zM71.9 456.8h.8v.8h-.8zM85.8 455.9h.8v.8h-.8zM86.0 431.1h.8v.8h-.8zM73.8 391.8h.8v.8h-.8zM107.4 408.8h.8v.8h-.8zM76.7 438.1h.8v.8h-.8zM87.9 426.1h.8v.8h-.8zM61.0 410.7h.8v.8h-.8zM62.7 462.8h.8v.8h-.8zM64.0 462.2h.8v.8h-.8zM109.1 412.5h.8v.8h-.8zM55.0 436.8h.8v.8h-.8zM71.9 388.3h.8v.8h-.8zM86.1 447.3h.8v.8h-.8zM65.7 422.4h.8v.8h-.8zM71.9 388.5h.8v.8h-.8zM105.0 444.2h.8v.8h-.8zM74.0 454.4h.8v.8h-.8zM60.1 452.3h.8v.8h-.8zM79.5 393.2h.8v.8h-.8zM101.0 415.5h.8v.8h-.8zM53.6 419.9h.8v.8h-.8zM114.1 423.4h.8v.8h-.8zM116.3 425.2h.8v.8h-.8zM89.3 438.1h.8v.8h-.8zM117.7 422.2h.8v.8h-.8zM124.1 391.0h.8v.8h-.8zM58.0 455.4h.8v.8h-.8zM107.0 459.5h.8v.8h-.8zM74.5 398.1h.8v.8h-.8zM86.9 432.4h.8v.8h-.8zM70.4 456.5h.8v.8h-.8zM87.9 430.2h.8v.8h-.8zM101.7 412.2h.8v.8h-.8zM90.1 428.1h.8v.8h-.8zM53.3 449.2h.8v.8h-.8zM90.2 435.4h.8v.8h-.8zM91.4 449.2h.8v.8h-.8zM78.1 459.7h.8v.8h-.8zM101.4 458.1h.8v.8h-.8zM59.3 447.2h.8v.8h-.8zM80.1 451.5h.8v.8h-.8zM85.5 446.3h.8v.8h-.8zM82.3 386.3h.8v.8h-.8zM53.5 460.0h.8v.8h-.8zM56.8 437.9h.8v.8h-.8zM109.8 417.6h.8v.8h-.8zM82.1 419.1h.8v.8h-.8zM64.6 461.1h.8v.8h-.8zM56.1 427.2h.8v.8h-.8zM79.7 420.1h.8v.8h-.8zM54.0 428.0h.8v.8h-.8zM91.1 432.5h.8v.8h-.8zM116.7 435.1h.8v.8h-.8zM106.2 449.2h.8v.8h-.8zM57.7 424.7h.8v.8h-.8zM60.4 423.4h.8v.8h-.8zM91.0 458.3h.8v.8h-.8zM85.8 395.7h.8v.8h-.8zM99.9 448.4h.8v.8h-.8zM73.7 383.4h.8v.8h-.8zM50.1 450.9h.8v.8h-.8zM56.6 450.0h.8v.8h-.8zM95.1 419.5h.8v.8h-.8zM107.6 409.0h.8v.8h-.8zM82.6 457.7h.8v.8h-.8zM58.6 446.2h.8v.8h-.8zM72.0 455.9h.8v.8h-.8zM54.1 426.2h.8v.8h-.8zM64.6 459.2h.8v.8h-.8zM59.8 429.2h.8v.8h-.8zM53.6 458.0h.8v.8h-.8zM86.1 447.1h.8v.8h-.8zM64.8 455.0h.8v.8h-.8zM106.6 413.8h.8v.8h-.8zM90.8 418.5h.8v.8h-.8zM75.9 420.4h.8v.8h-.8zM55.3 437.0h.8v.8h-.8zM89.8 438.5h.8v.8h-.8zM66.1 455.7h.8v.8h-.8zM63.4 423.7h.8v.8h-.8zM85.3 460.1h.8v.8h-.8zM112.5 416.3h.8v.8h-.8zM70.4 420.0h.8v.8h-.8zM114.3 436.0h.8v.8h-.8zM106.8 393.5h.8v.8h-.8zM93.5 465.6h.8v.8h-.8zM113.1 422.4h.8v.8h-.8zM121.0 434.6h.8v.8h-.8zM80.9 385.5h.8v.8h-.8zM87.0 428.3h.8v.8h-.8zM86.9 452.2h.8v.8h-.8zM115.1 430.2h.8v.8h-.8zM96.0 419.0h.8v.8h-.8zM90.7 392.2h.8v.8h-.8zM92.0 422.0h.8v.8h-.8zM73.3 464.9h.8v.8h-.8zM108.5 415.8h.8v.8h-.8zM88.3 444.9h.8v.8h-.8zM117.0 415.3h.8v.8h-.8zM88.9 441.0h.8v.8h-.8zM86.9 455.8h.8v.8h-.8zM84.2 460.6h.8v.8h-.8zM79.6 463.8h.8v.8h-.8zM112.4 422.1h.8v.8h-.8zM57.6 431.0h.8v.8h-.8zM58.1 466.8h.8v.8h-.8zM82.9 391.2h.8v.8h-.8zM56.3 430.5h.8v.8h-.8zM97.0 389.2h.8v.8h-.8zM108.1 392.6h.8v.8h-.8zM92.7 433.6h.8v.8h-.8zM97.4 448.7h.8v.8h-.8zM87.0 388.5h.8v.8h-.8zM113.7 415.7h.8v.8h-.8zM76.2 391.0h.8v.8h-.8zM107.8 440.4h.8v.8h-.8zM90.3 437.5h.8v.8h-.8zM102.6 431.3h.8v.8h-.8zM85.4 465.0h.8v.8h-.8zM54.4 427.4h.8v.8h-.8zM91.8 418.5h.8v.8h-.8zM66.9 455.5h.8v.8h-.8zM96.2 416.1h.8v.8h-.8zM122.7 429.8h.8v.8h-.8zM92.4 436.0h.8v.8h-.8zM93.3 461.8h.8v.8h-.8zM94.8 454.3h.8v.8h-.8zM87.3 430.3h.8v.8h-.8zM114.3 419.2h.8v.8h-.8zM81.0 464.5h.8v.8h-.8zM108.2 411.9h.8v.8h-.8zM100.8 434.8h.8v.8h-.8zM73.4 461.3h.8v.8h-.8zM54.7 421.1h.8v.8h-.8zM57.1 435.4h.8v.8h-.8zM61.8 412.1h.8v.8h-.8zM112.5 428.2h.8v.8h-.8zM107.3 467.0h.8v.8h-.8zM57.3 453.3h.8v.8h-.8zM107.3 462.3h.8v.8h-.8zM96.7 415.2h.8v.8h-.8zM48.6 452.8h.8v.8h-.8zM67.6 459.0h.8v.8h-.8zM89.5 431.6h.8v.8h-.8zM49.1 466.9h.8v.8h-.8zM87.1 449.7h.8v.8h-.8zM119.7 411.9h.8v.8h-.8zM90.6 448.5h.8v.8h-.8zM70.8 389.1h.8v.8h-.8zM57.6 448.4h.8v.8h-.8zM74.9 454.2h.8v.8h-.8zM108.9 442.6h.8v.8h-.8zM65.1 455.6h.8v.8h-.8zM88.9 440.3h.8v.8h-.8zM60.6 414.7h.8v.8h-.8zM84.0 465.7h.8v.8h-.8zM86.3 465.7h.8v.8h-.8zM96.4 437.9h.8v.8h-.8zM94.9 449.0h.8v.8h-.8zM87.4 400.1h.8v.8h-.8zM78.0 423.3h.8v.8h-.8zM61.9 415.3h.8v.8h-.8zM63.1 425.1h.8v.8h-.8zM80.9 454.7h.8v.8h-.8zM111.1 419.2h.8v.8h-.8zM59.5 428.4h.8v.8h-.8zM76.0 389.5h.8v.8h-.8zM90.0 439.5h.8v.8h-.8zM45.1 445.1h.8v.8h-.8zM89.5 442.8h.8v.8h-.8zM116.4 417.7h.8v.8h-.8zM59.9 428.2h.8v.8h-.8zM52.3 458.2h.8v.8h-.8zM69.4 457.9h.8v.8h-.8zM78.6 390.2h.8v.8h-.8zM94.4 450.7h.8v.8h-.8zM112.0 419.0h.8v.8h-.8zM69.2 458.8h.8v.8h-.8zM60.2 448.6h.8v.8h-.8zM57.6 465.1h.8v.8h-.8zM112.9 442.0h.8v.8h-.8zM87.7 460.6h.8v.8h-.8zM100.3 386.5h.8v.8h-.8zM67.3 456.9h.8v.8h-.8zM129.6 424.4h.8v.8h-.8zM115.9 428.2h.8v.8h-.8zM56.8 436.5h.8v.8h-.8zM84.0 460.6h.8v.8h-.8zM57.4 466.5h.8v.8h-.8zM112.3 421.3h.8v.8h-.8zM64.5 422.0h.8v.8h-.8zM102.7 449.4h.8v.8h-.8zM60.5 428.1h.8v.8h-.8zM91.8 431.9h.8v.8h-.8zM56.0 438.3h.8v.8h-.8zM86.6 386.8h.8v.8h-.8zM59.8 453.4h.8v.8h-.8zM76.9 456.6h.8v.8h-.8zM94.8 417.0h.8v.8h-.8zM63.8 381.9h.8v.8h-.8zM98.5 414.7h.8v.8h-.8zM138.2 420.8h.8v.8h-.8zM57.6 427.8h.8v.8h-.8zM88.0 443.9h.8v.8h-.8zM112.2 435.8h.8v.8h-.8zM128.0 399.0h.8v.8h-.8zM75.6 384.1h.8v.8h-.8zM100.0 423.7h.8v.8h-.8zM88.0 437.6h.8v.8h-.8zM101.3 457.9h.8v.8h-.8zM93.1 438.7h.8v.8h-.8zM57.6 453.2h.8v.8h-.8zM112.8 422.9h.8v.8h-.8zM54.0 423.8h.8v.8h-.8zM80.8 397.4h.8v.8h-.8zM92.4 445.5h.8v.8h-.8zM131.2 427.4h.8v.8h-.8zM83.5 440.3h.8v.8h-.8zM79.5 424.4h.8v.8h-.8zM64.9 454.3h.8v.8h-.8zM76.6 423.3h.8v.8h-.8zM56.1 450.3h.8v.8h-.8zM56.4 443.7h.8v.8h-.8zM55.8 441.5h.8v.8h-.8zM82.9 457.9h.8v.8h-.8zM86.3 424.1h.8v.8h-.8zM62.1 458.8h.8v.8h-.8zM54.3 431.4h.8v.8h-.8zM55.7 441.5h.8v.8h-.8zM56.5 430.1h.8v.8h-.8zM56.7 456.7h.8v.8h-.8zM54.1 435.9h.8v.8h-.8zM65.0 458.1h.8v.8h-.8zM100.8 446.8h.8v.8h-.8zM79.8 453.6h.8v.8h-.8zM91.6 440.9h.8v.8h-.8zM105.7 453.3h.8v.8h-.8zM89.8 424.6h.8v.8h-.8zM82.5 442.6h.8v.8h-.8zM94.3 394.3h.8v.8h-.8zM88.6 463.8h.8v.8h-.8zM96.3 459.3h.8v.8h-.8zM72.5 420.6h.8v.8h-.8zM69.9 460.3h.8v.8h-.8zM59.8 459.9h.8v.8h-.8zM98.0 417.2h.8v.8h-.8zM90.4 443.9h.8v.8h-.8zM116.4 441.5h.8v.8h-.8zM52.8 433.4h.8v.8h-.8zM65.4 455.4h.8v.8h-.8zM91.5 391.6h.8v.8h-.8zM92.4 434.1h.8v.8h-.8zM86.4 413.0h.8v.8h-.8zM71.5 456.8h.8v.8h-.8zM91.0 447.3h.8v.8h-.8zM65.7 467.5h.8v.8h-.8zM113.2 444.5h.8v.8h-.8zM95.7 418.6h.8v.8h-.8zM88.8 442.1h.8v.8h-.8zM66.4 453.9h.8v.8h-.8zM83.8 394.0h.8v.8h-.8zM89.5 391.1h.8v.8h-.8zM113.8 419.7h.8v.8h-.8zM84.5 425.0h.8v.8h-.8zM105.9 462.4h.8v.8h-.8zM52.4 440.1h.8v.8h-.8zM56.7 441.8h.8v.8h-.8zM108.9 445.6h.8v.8h-.8zM95.6 455.6h.8v.8h-.8zM98.9 451.7h.8v.8h-.8zM91.1 422.7h.8v.8h-.8zM103.7 464.6h.8v.8h-.8zM88.5 427.5h.8v.8h-.8zM90.6 447.7h.8v.8h-.8zM69.3 418.8h.8v.8h-.8zM108.6 439.2h.8v.8h-.8zM112.3 437.8h.8v.8h-.8zM70.5 454.2h.8v.8h-.8zM56.9 426.5h.8v.8h-.8zM87.1 432.6h.8v.8h-.8zM71.4 459.0h.8v.8h-.8zM87.7 451.0h.8v.8h-.8zM97.5 446.9h.8v.8h-.8zM51.9 431.2h.8v.8h-.8zM51.2 429.2h.8v.8h-.8zM85.9 392.8h.8v.8h-.8zM61.3 422.4h.8v.8h-.8zM53.9 432.7h.8v.8h-.8zM55.4 461.6h.8v.8h-.8zM88.2 432.8h.8v.8h-.8zM74.7 454.7h.8v.8h-.8zM69.9 454.9h.8v.8h-.8zM78.2 420.3h.8v.8h-.8zM82.3 422.1h.8v.8h-.8zM84.2 401.9h.8v.8h-.8zM89.1 443.8h.8v.8h-.8zM53.6 429.5h.8v.8h-.8zM86.3 434.5h.8v.8h-.8zM52.4 451.3h.8v.8h-.8zM94.3 448.7h.8v.8h-.8zM77.2 391.7h.8v.8h-.8zM89.0 429.5h.8v.8h-.8zM61.5 449.1h.8v.8h-.8zM78.9 413.7h.8v.8h-.8zM90.7 430.2h.8v.8h-.8zM118.2 403.7h.8v.8h-.8zM85.8 427.9h.8v.8h-.8zM75.7 460.2h.8v.8h-.8zM61.1 425.4h.8v.8h-.8zM87.4 467.0h.8v.8h-.8zM53.7 451.3h.8v.8h-.8zM52.5 453.6h.8v.8h-.8zM82.0 459.3h.8v.8h-.8zM112.6 424.0h.8v.8h-.8zM46.7 442.9h.8v.8h-.8zM88.7 440.1h.8v.8h-.8zM86.3 426.0h.8v.8h-.8zM111.7 419.1h.8v.8h-.8zM93.3 394.6h.8v.8h-.8zM55.6 453.9h.8v.8h-.8zM75.2 421.2h.8v.8h-.8zM56.0 458.4h.8v.8h-.8zM83.8 389.3h.8v.8h-.8zM57.6 444.2h.8v.8h-.8zM87.7 386.3h.8v.8h-.8zM56.3 445.9h.8v.8h-.8zM79.0 391.2h.8v.8h-.8zM91.9 421.1h.8v.8h-.8zM85.0 463.2h.8v.8h-.8zM45.8 465.7h.8v.8h-.8zM66.5 455.0h.8v.8h-.8zM64.0 457.0h.8v.8h-.8zM83.1 431.1h.8v.8h-.8zM62.7 450.8h.8v.8h-.8zM72.8 421.4h.8v.8h-.8zM59.5 426.9h.8v.8h-.8zM94.2 390.5h.8v.8h-.8zM103.6 414.6h.8v.8h-.8zM93.9 466.2h.8v.8h-.8zM71.1 416.6h.8v.8h-.8zM88.5 448.6h.8v.8h-.8zM69.1 466.4h.8v.8h-.8zM70.0 418.9h.8v.8h-.8zM65.9 461.3h.8v.8h-.8zM95.5 410.9h.8v.8h-.8zM91.1 436.5h.8v.8h-.8zM87.1 428.3h.8v.8h-.8zM107.8 407.8h.8v.8h-.8zM85.6 447.6h.8v.8h-.8zM58.3 427.3h.8v.8h-.8zM67.6 462.8h.8v.8h-.8zM70.0 418.7h.8v.8h-.8zM92.2 423.3h.8v.8h-.8zM113.5 434.9h.8v.8h-.8zM92.9 435.8h.8v.8h-.8zM110.9 438.6h.8v.8h-.8zM104.3 458.0h.8v.8h-.8zM80.7 423.9h.8v.8h-.8zM54.4 437.3h.8v.8h-.8zM72.0 455.1h.8v.8h-.8zM75.1 456.7h.8v.8h-.8zM67.6 454.9h.8v.8h-.8zM56.2 437.5h.8v.8h-.8zM97.5 388.7h.8v.8h-.8zM82.0 454.0h.8v.8h-.8zM90.7 441.2h.8v.8h-.8zM75.4 465.1h.8v.8h-.8zM57.7 444.8h.8v.8h-.8zM113.8 427.1h.8v.8h-.8zM72.0 454.8h.8v.8h-.8zM58.2 444.1h.8v.8h-.8zM58.4 426.3h.8v.8h-.8zM73.9 463.6h.8v.8h-.8zM113.0 424.5h.8v.8h-.8zM64.6 452.5h.8v.8h-.8zM91.7 389.2h.8v.8h-.8zM99.6 447.5h.8v.8h-.8zM57.1 436.4h.8v.8h-.8zM66.6 466.1h.8v.8h-.8zM81.2 451.3h.8v.8h-.8zM57.4 443.0h.8v.8h-.8zM85.2 447.5h.8v.8h-.8zM107.6 408.5h.8v.8h-.8zM100.2 393.1h.8v.8h-.8zM70.4 467.3h.8v.8h-.8zM51.6 436.4h.8v.8h-.8zM97.6 427.1h.8v.8h-.8zM55.6 466.4h.8v.8h-.8zM87.4 431.6h.8v.8h-.8zM70.2 399.3h.8v.8h-.8zM85.0 447.3h.8v.8h-.8zM86.2 426.8h.8v.8h-.8zM88.5 431.4h.8v.8h-.8zM72.6 457.3h.8v.8h-.8zM97.4 417.2h.8v.8h-.8zM104.3 428.3h.8v.8h-.8zM74.2 455.2h.8v.8h-.8zM85.8 460.0h.8v.8h-.8zM69.6 397.6h.8v.8h-.8zM66.5 455.6h.8v.8h-.8zM95.2 447.7h.8v.8h-.8zM91.6 445.8h.8v.8h-.8zM89.5 455.3h.8v.8h-.8zM58.0 449.4h.8v.8h-.8zM111.4 434.0h.8v.8h-.8zM87.8 443.6h.8v.8h-.8zM93.8 430.4h.8v.8h-.8z" fill="#1a1a1a" fill-opacity="0.72"/>
<path d="M56.60,438.80 C56.52,436.55 58.27,434.05 59.50,432.00 C60.73,429.95 61.68,428.07 64.00,426.50 C66.32,424.93 70.32,423.15 73.40,422.60 C76.48,422.05 80.47,422.55 82.50,423.20 C84.53,423.85 84.97,424.87 85.60,426.50 C86.23,428.13 86.48,430.08 86.30,433.00 C86.12,435.92 85.72,440.75 84.50,444.00 C83.28,447.25 80.85,450.53 79.00,452.50 C77.15,454.47 75.57,455.80 73.40,455.80 C71.23,455.80 68.23,454.22 66.00,452.50 C63.77,450.78 61.57,447.78 60.00,445.50 C58.43,443.22 56.68,441.05 56.60,438.80Z" fill="#e8e8e8" stroke="#262626" stroke-width="3.2"/>
<path d="M56.60,438.80 C56.52,436.55 58.27,434.05 59.50,432.00 C60.73,429.95 61.68,428.07 64.00,426.50 C66.32,424.93 70.32,423.15 73.40,422.60 C76.48,422.05 80.47,422.55 82.50,423.20 C84.53,423.85 84.97,424.87 85.60,426.50 C86.23,428.13 86.48,430.08 86.30,433.00 C86.12,435.92 85.72,440.75 84.50,444.00 C83.28,447.25 80.85,450.53 79.00,452.50 C77.15,454.47 75.57,455.80 73.40,455.80 C71.23,455.80 68.23,454.22 66.00,452.50 C63.77,450.78 61.57,447.78 60.00,445.50 C58.43,443.22 56.68,441.05 56.60,438.80Z" fill="#e8e8e8" stroke="#fff" stroke-width="1.5"/>
<path d="M58.21,438.59 C58.14,436.55 59.73,434.27 60.85,432.40 C61.97,430.54 62.84,428.83 64.94,427.40 C67.05,425.97 70.69,424.35 73.50,423.85 C76.30,423.35 79.93,423.81 81.78,424.40 C83.63,424.99 84.02,425.91 84.60,427.40 C85.18,428.89 85.40,430.66 85.24,433.31 C85.07,435.97 84.71,440.37 83.60,443.32 C82.49,446.28 80.28,449.27 78.59,451.06 C76.91,452.85 75.47,454.06 73.50,454.06 C71.53,454.06 68.80,452.62 66.77,451.06 C64.73,449.50 62.73,446.77 61.30,444.69 C59.88,442.61 58.29,440.64 58.21,438.59Z" fill="none" stroke="#555" stroke-width="0.5"/>
<path d="M59.82,438.39 C59.75,436.54 61.19,434.49 62.20,432.81 C63.21,431.13 63.99,429.58 65.89,428.30 C67.79,427.02 71.07,425.55 73.60,425.10 C76.13,424.65 79.39,425.06 81.06,425.59 C82.73,426.13 83.08,426.96 83.60,428.30 C84.12,429.64 84.33,431.24 84.18,433.63 C84.03,436.02 83.70,439.98 82.70,442.65 C81.70,445.31 79.71,448.01 78.19,449.62 C76.67,451.23 75.37,452.33 73.60,452.33 C71.82,452.33 69.36,451.03 67.53,449.62 C65.70,448.21 63.89,445.75 62.61,443.88 C61.33,442.01 59.89,440.23 59.82,438.39Z" fill="none" stroke="#555" stroke-width="0.5"/>
<path d="M61.43,438.18 C61.37,436.54 62.65,434.71 63.55,433.21 C64.45,431.72 65.14,430.34 66.83,429.20 C68.53,428.06 71.45,426.75 73.70,426.35 C75.95,425.95 78.86,426.32 80.34,426.79 C81.82,427.27 82.14,428.01 82.60,429.20 C83.07,430.39 83.25,431.82 83.11,433.94 C82.98,436.07 82.69,439.60 81.80,441.98 C80.91,444.35 79.14,446.74 77.78,448.18 C76.43,449.62 75.28,450.59 73.70,450.59 C72.12,450.59 69.93,449.43 68.30,448.18 C66.66,446.93 65.06,444.74 63.91,443.07 C62.77,441.40 61.49,439.82 61.43,438.18Z" fill="none" stroke="#555" stroke-width="0.5"/>
<path d="M63.04,437.97 C62.99,436.53 64.11,434.93 64.90,433.62 C65.69,432.31 66.30,431.10 67.78,430.10 C69.26,429.10 71.82,427.96 73.80,427.60 C75.77,427.25 78.32,427.57 79.62,427.99 C80.92,428.40 81.20,429.05 81.60,430.10 C82.01,431.15 82.17,432.39 82.05,434.26 C81.93,436.13 81.68,439.22 80.90,441.30 C80.12,443.38 78.56,445.48 77.38,446.74 C76.20,448.00 75.18,448.85 73.80,448.85 C72.41,448.85 70.49,447.84 69.06,446.74 C67.63,445.64 66.22,443.72 65.22,442.26 C64.22,440.80 63.10,439.41 63.04,437.97Z" fill="none" stroke="#555" stroke-width="0.5"/>
<path d="M64.66,437.76 C64.61,436.53 65.57,435.15 66.25,434.02 C66.93,432.90 67.45,431.86 68.72,431.00 C70.00,430.14 72.20,429.16 73.90,428.86 C75.59,428.55 77.78,428.83 78.90,429.19 C80.02,429.54 80.26,430.10 80.61,431.00 C80.95,431.90 81.09,432.97 80.99,434.57 C80.89,436.18 80.67,438.84 80.00,440.62 C79.33,442.41 77.99,444.22 76.97,445.30 C75.96,446.38 75.09,447.12 73.90,447.12 C72.70,447.12 71.05,446.24 69.83,445.30 C68.60,444.36 67.39,442.71 66.53,441.45 C65.66,440.19 64.70,439.00 64.66,437.76Z" fill="none" stroke="#555" stroke-width="0.5"/>
<path d="M66.27,437.56 C66.23,436.52 67.03,435.37 67.60,434.43 C68.17,433.49 68.60,432.62 69.67,431.90 C70.74,431.18 72.58,430.36 73.99,430.11 C75.41,429.85 77.24,430.08 78.18,430.38 C79.12,430.68 79.31,431.15 79.61,431.90 C79.90,432.65 80.01,433.55 79.93,434.89 C79.84,436.23 79.66,438.45 79.10,439.95 C78.54,441.44 77.42,442.96 76.57,443.86 C75.72,444.76 74.99,445.38 73.99,445.38 C73.00,445.38 71.62,444.65 70.59,443.86 C69.56,443.07 68.55,441.69 67.83,440.64 C67.11,439.59 66.30,438.59 66.27,437.56Z" fill="none" stroke="#555" stroke-width="0.5"/>
<path d="M67.88,437.35 C67.85,436.52 68.49,435.59 68.95,434.83 C69.41,434.08 69.76,433.38 70.61,432.80 C71.47,432.22 72.95,431.56 74.09,431.36 C75.23,431.15 76.71,431.34 77.46,431.58 C78.21,431.82 78.37,432.20 78.61,432.80 C78.84,433.40 78.93,434.13 78.87,435.20 C78.80,436.28 78.65,438.07 78.20,439.27 C77.75,440.48 76.85,441.69 76.17,442.42 C75.48,443.15 74.89,443.64 74.09,443.64 C73.29,443.64 72.18,443.06 71.36,442.42 C70.53,441.78 69.71,440.67 69.14,439.83 C68.56,438.99 67.91,438.18 67.88,437.35Z" fill="none" stroke="#555" stroke-width="0.5"/>
<path d="M69.49,437.14 C69.46,436.51 69.95,435.81 70.30,435.24 C70.65,434.67 70.91,434.14 71.56,433.70 C72.21,433.26 73.33,432.76 74.19,432.61 C75.06,432.45 76.17,432.59 76.74,432.78 C77.31,432.96 77.43,433.24 77.61,433.70 C77.79,434.16 77.86,434.70 77.80,435.52 C77.75,436.34 77.64,437.69 77.30,438.60 C76.96,439.51 76.28,440.43 75.76,440.98 C75.24,441.53 74.80,441.90 74.19,441.90 C73.59,441.90 72.75,441.46 72.12,440.98 C71.49,440.50 70.88,439.66 70.44,439.02 C70.00,438.38 69.51,437.77 69.49,437.14Z" fill="none" stroke="#555" stroke-width="0.5"/>
<path d="M71.10,436.94 C71.08,436.51 71.42,436.03 71.65,435.64 C71.88,435.26 72.06,434.90 72.50,434.60 C72.95,434.30 73.71,433.96 74.29,433.86 C74.88,433.75 75.63,433.85 76.02,433.97 C76.41,434.10 76.49,434.29 76.61,434.60 C76.73,434.91 76.78,435.28 76.74,435.83 C76.71,436.39 76.63,437.31 76.40,437.93 C76.17,438.54 75.71,439.17 75.36,439.54 C75.00,439.91 74.70,440.17 74.29,440.17 C73.88,440.17 73.31,439.87 72.89,439.54 C72.46,439.21 72.04,438.64 71.75,438.21 C71.45,437.78 71.11,437.36 71.10,436.94Z" fill="none" stroke="#555" stroke-width="0.5"/>
<ellipse cx="75.1" cy="434.3" rx="2.4" ry="1.8" fill="#fff" stroke="#555" stroke-width="0.6"/>
<rect x="71.8" y="438.2" width="4.2" height="2.6" fill="#fff" stroke="#666" stroke-width="0.5"/>
<path d="M102.50,413.50 C104.52,413.35 106.08,414.22 107.50,415.30 C108.92,416.38 110.32,417.97 111.00,420.00 C111.68,422.03 111.80,424.75 111.60,427.50 C111.40,430.25 110.80,433.70 109.80,436.50 C108.80,439.30 107.23,442.40 105.60,444.30 C103.97,446.20 101.90,447.58 100.00,447.90 C98.10,448.22 95.92,447.43 94.20,446.20 C92.48,444.97 90.62,442.78 89.70,440.50 C88.78,438.22 88.58,435.28 88.70,432.50 C88.82,429.72 89.28,426.52 90.40,423.80 C91.52,421.08 93.38,417.92 95.40,416.20 C97.42,414.48 100.48,413.65 102.50,413.50Z" fill="#939898" stroke="#262626" stroke-width="3.2"/>
<path d="M102.50,413.50 C104.52,413.35 106.08,414.22 107.50,415.30 C108.92,416.38 110.32,417.97 111.00,420.00 C111.68,422.03 111.80,424.75 111.60,427.50 C111.40,430.25 110.80,433.70 109.80,436.50 C108.80,439.30 107.23,442.40 105.60,444.30 C103.97,446.20 101.90,447.58 100.00,447.90 C98.10,448.22 95.92,447.43 94.20,446.20 C92.48,444.97 90.62,442.78 89.70,440.50 C88.78,438.22 88.58,435.28 88.70,432.50 C88.82,429.72 89.28,426.52 90.40,423.80 C91.52,421.08 93.38,417.92 95.40,416.20 C97.42,414.48 100.48,413.65 102.50,413.50Z" fill="#939898" stroke="#fff" stroke-width="1.5"/>
<path d="M102.20,415.48 C104.00,415.35 105.39,416.12 106.65,417.08 C107.91,418.05 109.16,419.46 109.77,421.26 C110.38,423.07 110.48,425.49 110.30,427.94 C110.12,430.39 109.59,433.46 108.70,435.95 C107.81,438.44 106.42,441.20 104.96,442.89 C103.51,444.58 101.67,445.81 99.98,446.10 C98.29,446.38 96.34,445.68 94.82,444.58 C93.29,443.49 91.63,441.54 90.81,439.51 C90.00,437.48 89.82,434.87 89.92,432.39 C90.02,429.91 90.44,427.06 91.43,424.65 C92.43,422.23 94.09,419.41 95.88,417.88 C97.68,416.36 100.41,415.61 102.20,415.48Z" fill="none" stroke="#cdd1d1" stroke-width="0.5"/>
<path d="M101.91,417.46 C103.48,417.34 104.70,418.02 105.81,418.86 C106.91,419.71 108.00,420.94 108.54,422.53 C109.07,424.12 109.16,426.24 109.00,428.38 C108.85,430.52 108.38,433.22 107.60,435.40 C106.82,437.58 105.60,440.00 104.32,441.48 C103.05,442.97 101.44,444.04 99.96,444.29 C98.47,444.54 96.77,443.93 95.43,442.97 C94.09,442.00 92.64,440.30 91.92,438.52 C91.21,436.74 91.05,434.45 91.14,432.28 C91.23,430.11 91.60,427.61 92.47,425.49 C93.34,423.38 94.80,420.90 96.37,419.57 C97.94,418.23 100.33,417.58 101.91,417.46Z" fill="none" stroke="#cdd1d1" stroke-width="0.5"/>
<g transform="rotate(12 98.8 432.2)">
<ellipse cx="98.8" cy="432.2" rx="7.2" ry="9.2" fill="#b2b6b6" stroke="#2e3636" stroke-width="1.5"/>
<ellipse cx="98.9" cy="432.2" rx="4.2" ry="5.8" fill="none" stroke="#dfe2e2" stroke-width="0.5"/>
<ellipse cx="99.2" cy="432.3" rx="1.2" ry="1.3" fill="#fff"/>
</g>
<rect x="44.0" y="372.6" width="97.60" height="96.10" fill="none" stroke="#231f20" stroke-width="1.2"/>
<rect x="63.3" y="372.6" width="51.3" height="32.4" fill="none" stroke="#6e86ad" stroke-width="1.0"/>
<rect x="87.2" y="407.1" width="38.7" height="46.8" fill="none" stroke="#b8475a" stroke-width="1.0"/>
<line x1="21.70" y1="488.00" x2="21.70" y2="378.00" stroke="#3a3a3a" stroke-width="1.4"/>
<polygon points="21.70,372.00 18.20,380.20 21.70,378.40 25.20,380.20" fill="#111" stroke="none" stroke-width="0"/>
<line x1="21.70" y1="488.00" x2="137.00" y2="488.00" stroke="#3a3a3a" stroke-width="1.4"/>
<polygon points="143.00,488.00 134.80,484.50 136.60,488.00 134.80,491.50" fill="#111" stroke="none" stroke-width="0"/>
<text transform="translate(36.3 471.30) scale(0.84 1)" font-size="8.4" text-anchor="end" fill="#231f20">10</text>
<text x="36.6" y="468.30" font-size="5.6" fill="#231f20">0</text>
<text transform="translate(39.00 481.70) scale(0.84 1)" font-size="8.4" fill="#231f20">10</text>
<text x="47.20" y="478.70" font-size="5.6" fill="#231f20">0</text>
<text transform="translate(36.3 447.28) scale(0.84 1)" font-size="8.4" text-anchor="end" fill="#231f20">10</text>
<text x="36.6" y="444.28" font-size="5.6" fill="#231f20">1</text>
<text transform="translate(63.40 481.70) scale(0.84 1)" font-size="8.4" fill="#231f20">10</text>
<text x="71.60" y="478.70" font-size="5.6" fill="#231f20">1</text>
<text transform="translate(36.3 423.25) scale(0.84 1)" font-size="8.4" text-anchor="end" fill="#231f20">10</text>
<text x="36.6" y="420.25" font-size="5.6" fill="#231f20">2</text>
<text transform="translate(87.80 481.70) scale(0.84 1)" font-size="8.4" fill="#231f20">10</text>
<text x="96.00" y="478.70" font-size="5.6" fill="#231f20">2</text>
<text transform="translate(36.3 399.23) scale(0.84 1)" font-size="8.4" text-anchor="end" fill="#231f20">10</text>
<text x="36.6" y="396.23" font-size="5.6" fill="#231f20">3</text>
<text transform="translate(112.20 481.70) scale(0.84 1)" font-size="8.4" fill="#231f20">10</text>
<text x="120.40" y="478.70" font-size="5.6" fill="#231f20">3</text>
<text transform="translate(36.3 375.20) scale(0.84 1)" font-size="8.4" text-anchor="end" fill="#231f20">10</text>
<text x="36.6" y="372.20" font-size="5.6" fill="#231f20">4</text>
<text transform="translate(136.60 481.70) scale(0.84 1)" font-size="8.4" fill="#231f20">10</text>
<text x="144.80" y="478.70" font-size="5.6" fill="#231f20">4</text>
<text transform="translate(17.60 430.00) rotate(-90) scale(0.87 1)" font-size="9.72" text-anchor="middle" fill="#231f20">IRF4</text>
<text transform="translate(82.80 498.90) scale(0.87 1)" font-size="10.06" text-anchor="middle" fill="#231f20">CD19</text>
<rect x="203.3" y="384.4" width="85.20" height="84.90" fill="none" stroke="#231f20" stroke-width="1.1"/>
<line x1="200.30" y1="387.70" x2="203.30" y2="387.70" stroke="#231f20" stroke-width="1"/>
<text transform="translate(196.50 390.00) scale(0.84 1)" font-size="8.6" text-anchor="end" fill="#231f20">100</text>
<line x1="200.30" y1="404.02" x2="203.30" y2="404.02" stroke="#231f20" stroke-width="1"/>
<text transform="translate(196.50 406.32) scale(0.84 1)" font-size="8.6" text-anchor="end" fill="#231f20">80</text>
<line x1="200.30" y1="420.34" x2="203.30" y2="420.34" stroke="#231f20" stroke-width="1"/>
<text transform="translate(196.50 422.64) scale(0.84 1)" font-size="8.6" text-anchor="end" fill="#231f20">60</text>
<line x1="200.30" y1="436.66" x2="203.30" y2="436.66" stroke="#231f20" stroke-width="1"/>
<text transform="translate(196.50 438.96) scale(0.84 1)" font-size="8.6" text-anchor="end" fill="#231f20">40</text>
<line x1="200.30" y1="452.98" x2="203.30" y2="452.98" stroke="#231f20" stroke-width="1"/>
<text transform="translate(196.50 455.28) scale(0.84 1)" font-size="8.6" text-anchor="end" fill="#231f20">20</text>
<line x1="200.30" y1="469.30" x2="203.30" y2="469.30" stroke="#231f20" stroke-width="1"/>
<text transform="translate(196.50 471.60) scale(0.84 1)" font-size="8.6" text-anchor="end" fill="#231f20">0</text>
<line x1="203.30" y1="469.30" x2="203.30" y2="472.30" stroke="#231f20" stroke-width="1"/>
<text transform="translate(198.30 483.80) scale(0.84 1)" font-size="8.4" fill="#231f20">10</text>
<text x="206.50" y="480.80" font-size="5.6" fill="#231f20">0</text>
<line x1="224.60" y1="469.30" x2="224.60" y2="472.30" stroke="#231f20" stroke-width="1"/>
<text transform="translate(219.60 483.80) scale(0.84 1)" font-size="8.4" fill="#231f20">10</text>
<text x="227.80" y="480.80" font-size="5.6" fill="#231f20">1</text>
<line x1="245.90" y1="469.30" x2="245.90" y2="472.30" stroke="#231f20" stroke-width="1"/>
<text transform="translate(240.90 483.80) scale(0.84 1)" font-size="8.4" fill="#231f20">10</text>
<text x="249.10" y="480.80" font-size="5.6" fill="#231f20">2</text>
<line x1="267.20" y1="469.30" x2="267.20" y2="472.30" stroke="#231f20" stroke-width="1"/>
<text transform="translate(262.20 483.80) scale(0.84 1)" font-size="8.4" fill="#231f20">10</text>
<text x="270.40" y="480.80" font-size="5.6" fill="#231f20">3</text>
<line x1="288.50" y1="469.30" x2="288.50" y2="472.30" stroke="#231f20" stroke-width="1"/>
<text transform="translate(283.50 483.80) scale(0.84 1)" font-size="8.4" fill="#231f20">10</text>
<text x="291.70" y="480.80" font-size="5.6" fill="#231f20">4</text>
<line x1="178.20" y1="490.00" x2="178.20" y2="391.30" stroke="#3a3a3a" stroke-width="1.4"/>
<polygon points="178.20,385.30 174.70,393.50 178.20,391.70 181.70,393.50" fill="#111" stroke="none" stroke-width="0"/>
<line x1="178.20" y1="490.00" x2="281.50" y2="490.00" stroke="#3a3a3a" stroke-width="1.4"/>
<polygon points="287.50,490.00 279.30,486.50 281.10,490.00 279.30,493.50" fill="#111" stroke="none" stroke-width="0"/>
<text transform="translate(172.80 437.00) rotate(-90) scale(0.87 1)" font-size="10.17" text-anchor="middle" fill="#231f20">% of max</text>
<text x="232.90" y="501.30" font-size="8.6" text-anchor="middle" fill="#231f20">CD30</text>
<path d="M203.70,469.30 C204.95,468.90 209.02,468.70 211.20,466.90 C213.38,465.10 215.23,462.70 216.80,458.50 C218.37,454.30 219.50,448.55 220.60,441.70 C221.70,434.85 222.47,426.13 223.40,417.40 C224.33,408.67 225.43,392.73 226.20,389.30 C226.97,385.87 227.38,392.12 228.00,396.80 C228.62,401.48 229.12,408.98 229.90,417.40 C230.68,425.82 231.45,439.83 232.70,447.30 C233.95,454.77 235.68,458.62 237.40,462.20 C239.12,465.78 241.23,467.62 243.00,468.80 C244.77,469.98 247.17,469.22 248.00,469.30" fill="none" stroke="#b02c44" stroke-width="1.1" stroke-linejoin="round"/>
<path d="M218.70,469.30 C219.32,468.75 221.15,467.80 222.40,466.00 C223.65,464.20 225.10,460.68 226.20,458.50 C227.30,456.32 228.23,456.63 229.00,452.90 C229.77,449.17 230.18,442.65 230.80,436.10 C231.42,429.55 231.92,419.05 232.70,413.60 C233.48,408.15 234.72,402.77 235.50,403.40 C236.28,404.03 236.77,411.95 237.40,417.40 C238.03,422.85 238.52,428.63 239.30,436.10 C240.08,443.57 241.02,456.75 242.10,462.20 C243.18,467.65 244.48,467.62 245.80,468.80 C247.12,469.98 242.97,469.22 250.00,469.30 C257.03,469.38 281.67,469.30 288.00,469.30" fill="none" stroke="#35527f" stroke-width="1.1" stroke-linejoin="round"/>
<line x1="305.40" y1="391.80" x2="326.60" y2="391.80" stroke="#b54558" stroke-width="1.6"/>
<text x="327.9" y="394.5" font-size="7" textLength="13.3" lengthAdjust="spacingAndGlyphs" fill="#231f20">IRF4</text>
<line x1="341.50" y1="389.30" x2="344.30" y2="389.30" stroke="#231f20" stroke-width="0.55"/>
<line x1="305.40" y1="405.20" x2="326.60" y2="405.20" stroke="#4f6a90" stroke-width="1.6"/>
<text x="328.9" y="407.9" font-size="7" textLength="13.3" lengthAdjust="spacingAndGlyphs" fill="#231f20">IRF4</text>
<text transform="translate(341.90 405.60) scale(0.87 1)" font-size="4.75" text-anchor="start" fill="#231f20">+</text>
</svg></body></html>
